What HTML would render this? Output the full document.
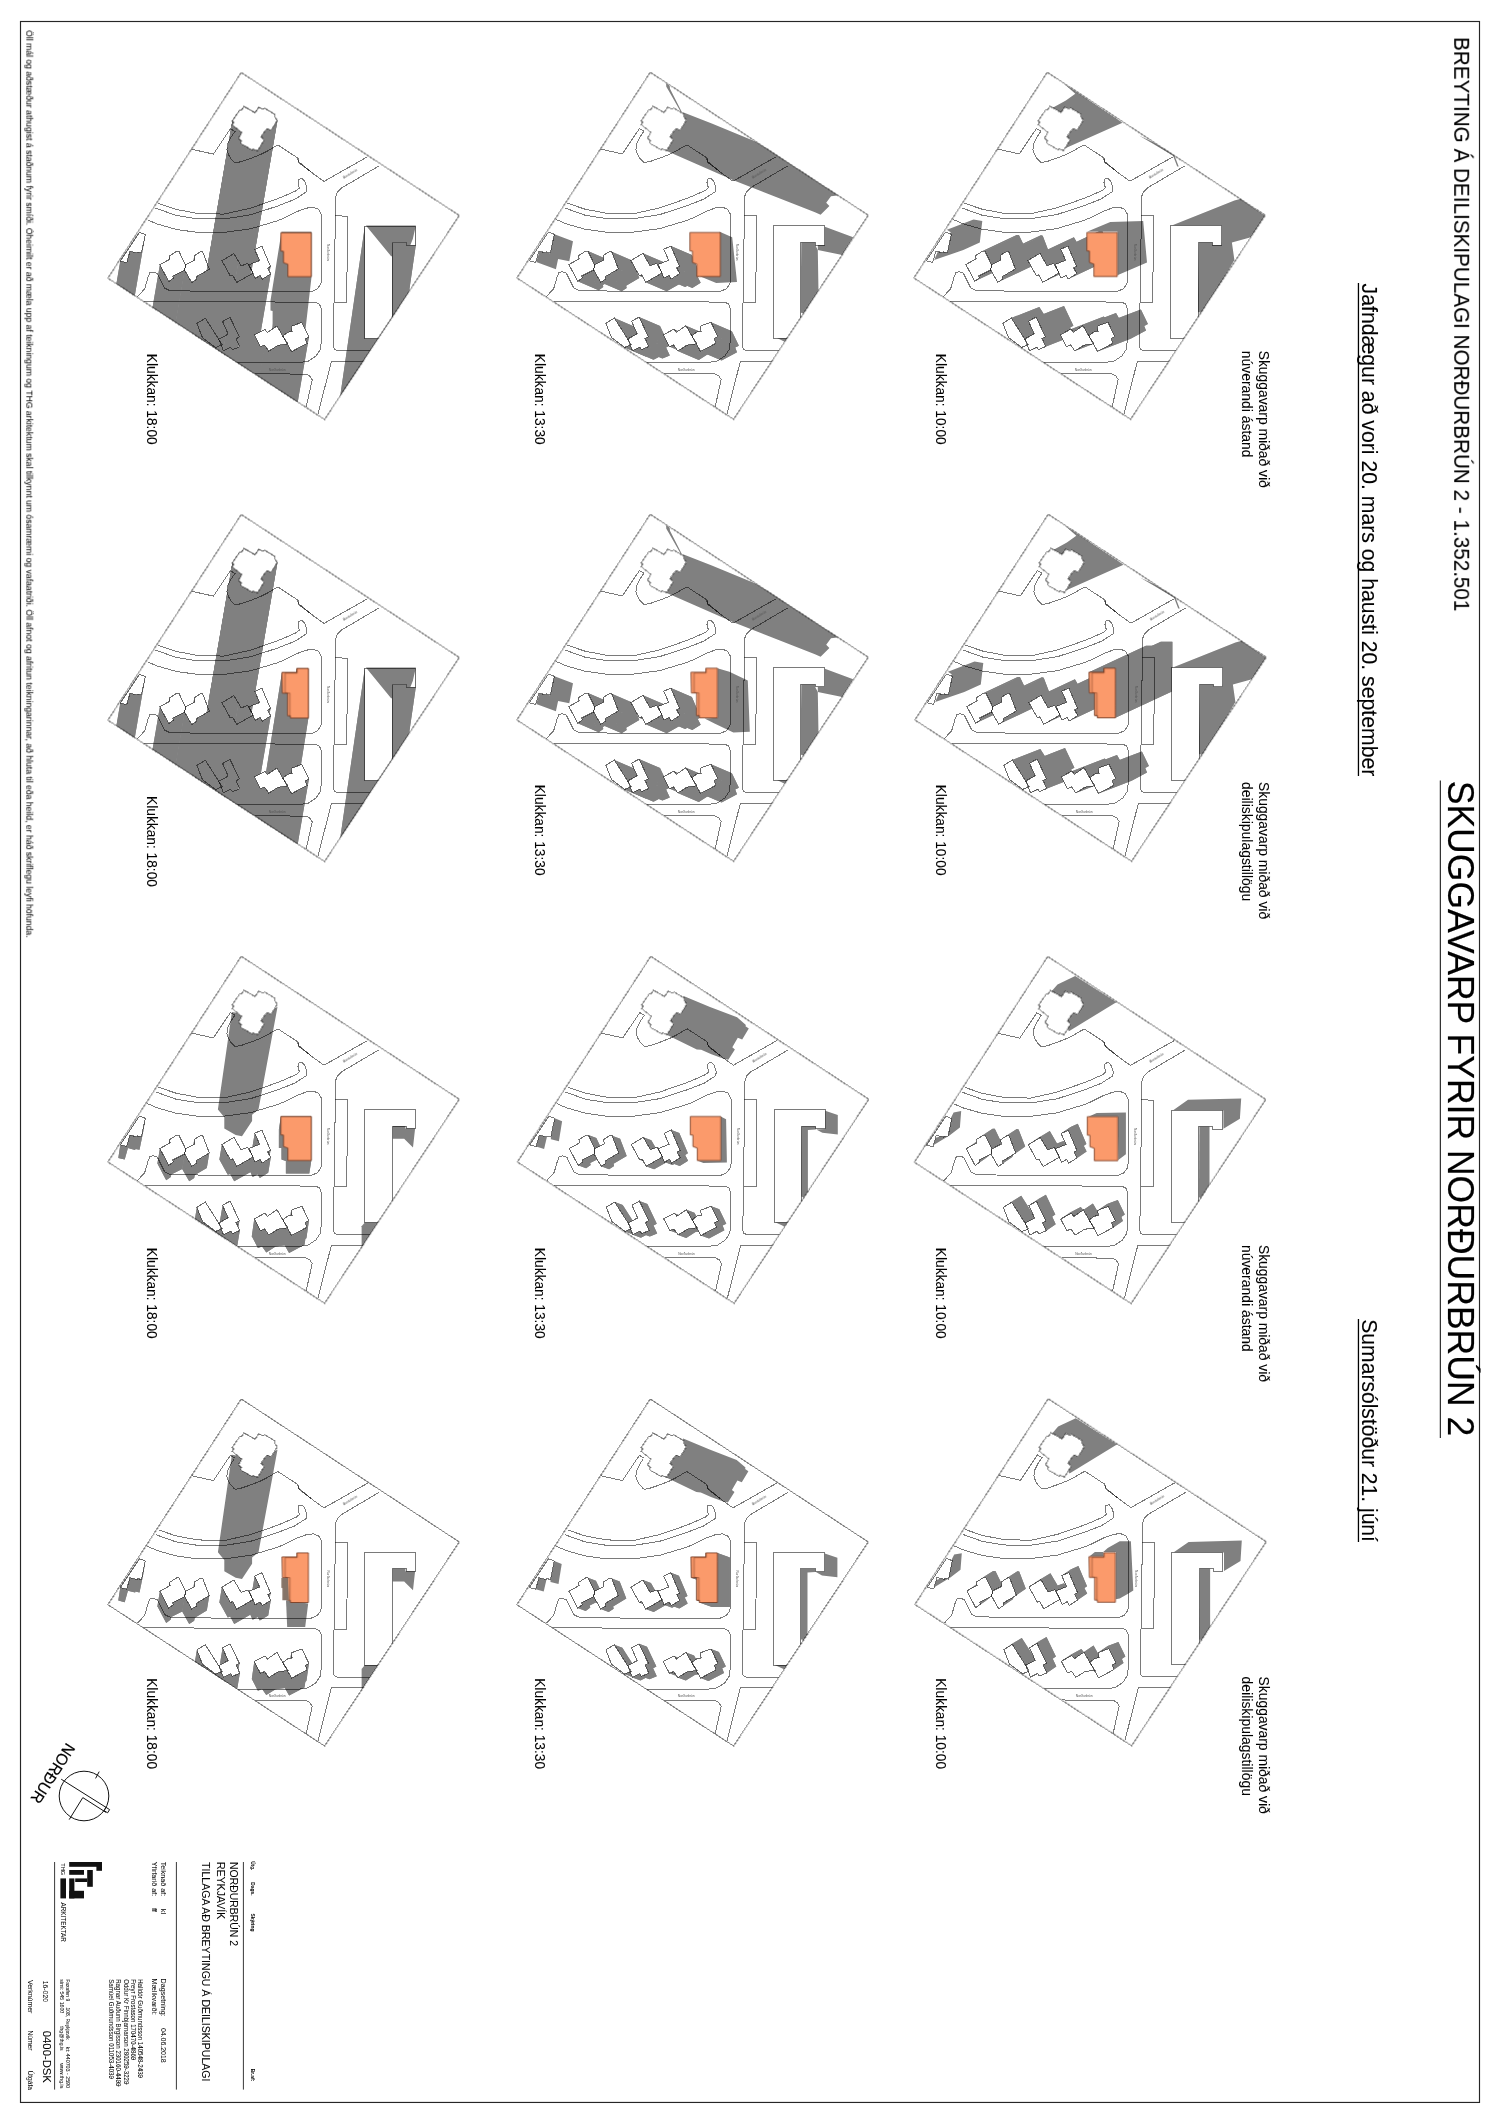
<!DOCTYPE html><html><head><meta charset="utf-8"><title>Skuggavarp</title><style>html,body{margin:0;padding:0;background:#fff}svg{display:block}</style></head><body><svg width="1500" height="2124" viewBox="0 0 1500 2124" font-family="'Liberation Sans', sans-serif" fill="#000">
<defs>
<clipPath id="site"><polygon points="0.0,0.0 218.0,143.0 83.3,347.0 -133.4,205.7"/></clipPath>
<g id="lines" shape-rendering="crispEdges"><polyline points="-49.9,76.7 -27.9,81.6 -10.9,56.3 -5.9,59.3" fill="none" stroke="rgba(0,0,0,0.52)" stroke-width="1"/><polyline points="-6.9,59.6 -10.6,65.3 -13.6,71.3 -14.4,77.3 -12.9,81.9 -10.6,85.9 -7.3,89.3 -6.1,90.3 -0.6,89.3 9.4,85.9 19.4,81.9 26.1,78.6 32.7,74.6 36.7,72.6 56.1,85.3 57.4,89.3 69.4,99.3" fill="none" stroke="rgba(0,0,0,0.52)" stroke-width="1"/><polyline points="56.7,86.0 57.7,90.3 73.4,102.3 82.7,108.9 126.1,84.3" fill="none" stroke="rgba(0,0,0,0.52)" stroke-width="1"/><polyline points="-82.9,130.9 -65.3,136.9 -43.9,140.9 -17.3,141.6 9.4,135.6 36.1,126.3 42.7,123.6 54.7,118.3 58.1,115.6 56.7,110.3 57.4,106.9 60.7,106.0 63.4,108.9 65.7,115.6 64.7,119.6 53.4,126.9 36.1,133.6 9.4,142.3 -17.3,146.5 -43.9,146.3 -65.3,142.9 -85.7,135.6" fill="none" stroke="rgba(0,0,0,0.52)" stroke-width="1"/><polyline points="-93.9,147.3 -83.9,151.6 -65.3,156.9 -43.9,159.9 -17.3,159.9 9.4,156.3 36.1,148.3 42.7,145.6 56.1,138.9 65.4,135.6 72.1,134.9 77.4,136.9 80.3,142.3 80.7,148.9 80.6,172.6 80.6,206.2 79.4,211.8 75.8,216.6 70.2,219.0 17.4,219.0 -30.6,219.0 -71.9,218.0 -76.6,215.6 -81.3,206.3 -83.9,200.9 -87.9,199.6 -91.3,200.0 -93.3,204.9 -96.6,216.3 -103.9,224.3" fill="none" stroke="rgba(0,0,0,0.52)" stroke-width="1"/><polyline points="-99.3,228.7 49.4,229.6 49.4,229.6 74.7,229.9 78.1,231.6 79.8,235.6 79.8,270.3 79.0,276.9 74.7,283.6 66.7,288.9 56.1,290.3 29.4,290.3 -4.7,290.1" fill="none" stroke="rgba(0,0,0,0.52)" stroke-width="1"/><polyline points="13.9,301.3 64.8,301.6 68.5,303.6 70.9,307.3 64.8,334.9" fill="none" stroke="rgba(0,0,0,0.52)" stroke-width="1"/><polyline points="137.4,93.6 100.1,115.6 96.1,119.6 94.1,124.9 94.1,142.3 93.1,203.6 92.1,274.3 93.1,276.9 95.4,278.0 130.1,278.0" fill="none" stroke="rgba(0,0,0,0.52)" stroke-width="1"/><polyline points="122.7,288.9 90.1,288.9 76.7,341.6" fill="none" stroke="rgba(0,0,0,0.52)" stroke-width="1"/><polyline points="93.7,143.3 106.3,143.7 105.4,230.1 93.3,230.1" fill="none" stroke="rgba(0,0,0,0.52)" stroke-width="1"/><polygon points="-81.4,192.2 -71.2,186.6 -71.8,183.4 -64.6,178.8 -62.4,178.8 -55.8,192.4 -56.6,197.6 -68.6,203.6 -68.0,205.6 -72.6,209.0" fill="none" stroke="rgba(0,0,0,0.52)" stroke-width="1" /><polygon points="-55.8,192.4 -46.4,187.6 -47.0,183.2 -40.4,179.0 -38.6,179.4 -32.0,196.6 -45.2,204.4 -44.6,206.8 -49.6,210.0 -56.6,197.6" fill="none" stroke="rgba(0,0,0,0.52)" stroke-width="1" /><polygon points="-19.4,188.2 -7.4,181.0 -0.2,193.4 6.4,191.0 11.8,200.6 -4.6,210.0 -8.6,202.6 -11.0,203.4" fill="none" stroke="rgba(0,0,0,0.52)" stroke-width="1" /><polygon points="13.4,177.0 20.6,173.8 29.2,194.0 26.4,195.6 29.4,201.4 21.0,206.6 18.8,203.0 13.8,205.8 7.8,192.2 18.4,188.0" fill="none" stroke="rgba(0,0,0,0.52)" stroke-width="1" /><polygon points="-44.4,250.9 -36.0,245.7 -22.9,266.3 -19.2,272.3 -25.7,275.1 -38.8,265.3" fill="none" stroke="rgba(0,0,0,0.52)" stroke-width="1" /><polygon points="-18.7,249.0 -11.3,244.8 -1.9,264.4 -5.2,266.3 -1.5,274.2 -8.9,277.3 -10.6,274.7 -17.8,278.4 -22.5,266.7 -13.1,261.6" fill="none" stroke="rgba(0,0,0,0.52)" stroke-width="1" /><polygon points="13.0,262.5 23.6,256.9 26.1,260.0 35.7,253.4 41.5,263.6 46.6,271.4 36.8,272.8 27.5,278.6 23.3,272.6 19.1,274.2" fill="none" stroke="rgba(0,0,0,0.52)" stroke-width="1" /><polygon points="41.5,263.6 46.6,259.7 50.8,259.0 49.9,253.9 60.6,249.9 67.6,264.4 63.9,266.3 65.7,270.9 50.3,279.1" fill="none" stroke="rgba(0,0,0,0.52)" stroke-width="1" /><polygon points="123.6,153.5 174.5,153.5 174.5,172.7 165.1,172.7 165.1,169.9 150.7,169.9 150.7,266.0 123.6,266.0" fill="none" stroke="rgba(0,0,0,0.52)" stroke-width="1" /><polygon points="-101.8,159.8 -96.0,162.0 -99.8,180.4 -103.8,179.6 -104.2,180.6 -111.4,178.8 -114.6,190.2 -121.0,188.6" fill="none" stroke="rgba(0,0,0,0.52)" stroke-width="1" /><g font-size="3.3" fill="#555" style="opacity:0.999"><text transform="translate(86.2,171.4) rotate(90)">Norðurbrún</text><text transform="translate(27.5,298.2)">Norðurbrún</text><text transform="translate(102.6,106.4) rotate(-31)">Austurbrún</text></g></g>
<g id="bld"><polygon points="-81.4,192.2 -71.2,186.6 -71.8,183.4 -64.6,178.8 -62.4,178.8 -55.8,192.4 -56.6,197.6 -68.6,203.6 -68.0,205.6 -72.6,209.0" fill="#fff" stroke="none" stroke-width="1" /><polygon points="-55.8,192.4 -46.4,187.6 -47.0,183.2 -40.4,179.0 -38.6,179.4 -32.0,196.6 -45.2,204.4 -44.6,206.8 -49.6,210.0 -56.6,197.6" fill="#fff" stroke="none" stroke-width="1" /><polygon points="-19.4,188.2 -7.4,181.0 -0.2,193.4 6.4,191.0 11.8,200.6 -4.6,210.0 -8.6,202.6 -11.0,203.4" fill="#fff" stroke="none" stroke-width="1" /><polygon points="13.4,177.0 20.6,173.8 29.2,194.0 26.4,195.6 29.4,201.4 21.0,206.6 18.8,203.0 13.8,205.8 7.8,192.2 18.4,188.0" fill="#fff" stroke="none" stroke-width="1" /><polygon points="-44.4,250.9 -36.0,245.7 -22.9,266.3 -19.2,272.3 -25.7,275.1 -38.8,265.3" fill="#fff" stroke="none" stroke-width="1" /><polygon points="-18.7,249.0 -11.3,244.8 -1.9,264.4 -5.2,266.3 -1.5,274.2 -8.9,277.3 -10.6,274.7 -17.8,278.4 -22.5,266.7 -13.1,261.6" fill="#fff" stroke="none" stroke-width="1" /><polygon points="13.0,262.5 23.6,256.9 26.1,260.0 35.7,253.4 41.5,263.6 46.6,271.4 36.8,272.8 27.5,278.6 23.3,272.6 19.1,274.2" fill="#fff" stroke="none" stroke-width="1" /><polygon points="41.5,263.6 46.6,259.7 50.8,259.0 49.9,253.9 60.6,249.9 67.6,264.4 63.9,266.3 65.7,270.9 50.3,279.1" fill="#fff" stroke="none" stroke-width="1" /><polygon points="2.7,33.9 13.9,40.3 17.7,34.6 20.7,36.5 23.4,35.8 33.7,41.9 33.5,44.7 36.1,47.9 29.7,57.8 25.6,56.1 19.7,64.1 22.7,67.5 16.3,78.4 12.1,76.5 11.3,77.8 0.1,71.3 -0.7,69.9 0.2,68.1 -2.9,65.9 0.6,60.1 -9.3,52.1 -7.6,49.9 -8.9,48.5 -1.6,37.6 0.1,37.9" fill="#fff" stroke="none" stroke-width="1" /><polygon points="123.6,153.5 174.5,153.5 174.5,172.7 165.1,172.7 165.1,169.9 150.7,169.9 150.7,266.0 123.6,266.0" fill="#fff" stroke="none" stroke-width="1" /><polygon points="-101.8,159.8 -96.0,162.0 -99.8,180.4 -103.8,179.6 -104.2,180.6 -111.4,178.8 -114.6,190.2 -121.0,188.6" fill="#fff" stroke="none" stroke-width="1" /></g>
<g id="tower" shape-rendering="crispEdges"><polygon points="2.7,33.9 13.9,40.3 17.7,34.6 20.7,36.5 23.4,35.8 33.7,41.9 33.5,44.7 36.1,47.9 29.7,57.8 25.6,56.1 19.7,64.1 22.7,67.5 16.3,78.4 12.1,76.5 11.3,77.8 0.1,71.3 -0.7,69.9 0.2,68.1 -2.9,65.9 0.6,60.1 -9.3,52.1 -7.6,49.9 -8.9,48.5 -1.6,37.6 0.1,37.9" fill="#fff" stroke="rgba(0,0,0,0.52)" stroke-width="1" /></g>
</defs>
<rect x="20.5" y="21.5" width="1459.0" height="2080.95" fill="none" stroke="#262626" stroke-width="1.15"/>
<g transform="translate(241.3,72.5)">
<g clip-path="url(#site)">
<polygon points="2.7,33.9 13.9,40.3 17.7,34.6 20.7,36.5 23.4,35.8 33.7,41.9 33.5,44.7 36.1,47.9 29.7,57.8 25.6,56.1 19.7,64.1 22.7,67.5 16.3,78.4 12.1,76.5 11.3,77.8 0.1,71.3 -0.7,69.9 0.2,68.1 -2.9,65.9 0.6,60.1 -9.3,52.1 -7.6,49.9 -8.9,48.5 -1.6,37.6 0.1,37.9" fill="#808080"/><polygon points="-69.5,453.9 -58.3,460.3 -54.5,454.6 -51.5,456.5 -48.8,455.8 -38.5,461.9 -38.7,464.7 -36.2,467.9 -42.5,477.8 -46.6,476.1 -52.5,484.1 -49.5,487.5 -56.0,498.4 -60.2,496.5 -61.0,497.8 -72.2,491.3 -73.0,489.9 -72.0,488.1 -75.2,485.9 -71.6,480.1 -81.5,472.1 -79.8,469.9 -81.2,468.5 -73.8,457.6 -72.2,457.9" fill="#808080"/><polygon points="2.7,33.9 13.9,40.3 -58.3,460.3 -69.5,453.9" fill="#808080"/><polygon points="13.9,40.3 17.7,34.6 -54.5,454.6 -58.3,460.3" fill="#808080"/><polygon points="17.7,34.6 20.7,36.5 -51.5,456.5 -54.5,454.6" fill="#808080"/><polygon points="20.7,36.5 23.4,35.8 -48.8,455.8 -51.5,456.5" fill="#808080"/><polygon points="23.4,35.8 33.7,41.9 -38.5,461.9 -48.8,455.8" fill="#808080"/><polygon points="33.7,41.9 33.5,44.7 -38.7,464.7 -38.5,461.9" fill="#808080"/><polygon points="33.5,44.7 36.1,47.9 -36.2,467.9 -38.7,464.7" fill="#808080"/><polygon points="36.1,47.9 29.7,57.8 -42.5,477.8 -36.2,467.9" fill="#808080"/><polygon points="29.7,57.8 25.6,56.1 -46.6,476.1 -42.5,477.8" fill="#808080"/><polygon points="25.6,56.1 19.7,64.1 -52.5,484.1 -46.6,476.1" fill="#808080"/><polygon points="19.7,64.1 22.7,67.5 -49.5,487.5 -52.5,484.1" fill="#808080"/><polygon points="22.7,67.5 16.3,78.4 -56.0,498.4 -49.5,487.5" fill="#808080"/><polygon points="16.3,78.4 12.1,76.5 -60.2,496.5 -56.0,498.4" fill="#808080"/><polygon points="12.1,76.5 11.3,77.8 -61.0,497.8 -60.2,496.5" fill="#808080"/><polygon points="11.3,77.8 0.1,71.3 -72.2,491.3 -61.0,497.8" fill="#808080"/><polygon points="0.1,71.3 -0.7,69.9 -73.0,489.9 -72.2,491.3" fill="#808080"/><polygon points="-0.7,69.9 0.2,68.1 -72.0,488.1 -73.0,489.9" fill="#808080"/><polygon points="0.2,68.1 -2.9,65.9 -75.2,485.9 -72.0,488.1" fill="#808080"/><polygon points="-2.9,65.9 0.6,60.1 -71.6,480.1 -75.2,485.9" fill="#808080"/><polygon points="0.6,60.1 -9.3,52.1 -81.5,472.1 -71.6,480.1" fill="#808080"/><polygon points="-9.3,52.1 -7.6,49.9 -79.8,469.9 -81.5,472.1" fill="#808080"/><polygon points="-7.6,49.9 -8.9,48.5 -81.2,468.5 -79.8,469.9" fill="#808080"/><polygon points="-8.9,48.5 -1.6,37.6 -73.8,457.6 -81.2,468.5" fill="#808080"/><polygon points="-1.6,37.6 0.1,37.9 -72.2,457.9 -73.8,457.6" fill="#808080"/><polygon points="0.1,37.9 2.7,33.9 -69.5,453.9 -72.2,457.9" fill="#808080"/><polygon points="123.6,153.5 174.5,153.5 174.5,172.7 165.1,172.7 165.1,169.9 150.7,169.9 150.7,266.0 123.6,266.0" fill="#808080"/><polygon points="62.7,573.5 113.6,573.5 113.6,592.7 104.2,592.7 104.2,589.9 89.8,589.9 89.8,686.0 62.7,686.0" fill="#808080"/><polygon points="123.6,153.5 174.5,153.5 113.6,573.5 62.7,573.5" fill="#808080"/><polygon points="174.5,153.5 174.5,172.7 113.6,592.7 113.6,573.5" fill="#808080"/><polygon points="174.5,172.7 165.1,172.7 104.2,592.7 113.6,592.7" fill="#808080"/><polygon points="165.1,172.7 165.1,169.9 104.2,589.9 104.2,592.7" fill="#808080"/><polygon points="165.1,169.9 150.7,169.9 89.8,589.9 104.2,589.9" fill="#808080"/><polygon points="150.7,169.9 150.7,266.0 89.8,686.0 89.8,589.9" fill="#808080"/><polygon points="150.7,266.0 123.6,266.0 62.7,686.0 89.8,686.0" fill="#808080"/><polygon points="123.6,266.0 123.6,153.5 62.7,573.5 62.7,686.0" fill="#808080"/><polygon points="-81.4,192.2 -71.2,186.6 -71.8,183.4 -64.6,178.8 -62.4,178.8 -55.8,192.4 -56.6,197.6 -68.6,203.6 -68.0,205.6 -72.6,209.0" fill="#808080"/><polygon points="-153.6,612.2 -143.4,606.6 -144.0,603.4 -136.8,598.8 -134.6,598.8 -128.0,612.4 -128.8,617.6 -140.8,623.6 -140.3,625.6 -144.8,629.0" fill="#808080"/><polygon points="-81.4,192.2 -71.2,186.6 -143.4,606.6 -153.6,612.2" fill="#808080"/><polygon points="-71.2,186.6 -71.8,183.4 -144.0,603.4 -143.4,606.6" fill="#808080"/><polygon points="-71.8,183.4 -64.6,178.8 -136.8,598.8 -144.0,603.4" fill="#808080"/><polygon points="-64.6,178.8 -62.4,178.8 -134.6,598.8 -136.8,598.8" fill="#808080"/><polygon points="-62.4,178.8 -55.8,192.4 -128.0,612.4 -134.6,598.8" fill="#808080"/><polygon points="-55.8,192.4 -56.6,197.6 -128.8,617.6 -128.0,612.4" fill="#808080"/><polygon points="-56.6,197.6 -68.6,203.6 -140.8,623.6 -128.8,617.6" fill="#808080"/><polygon points="-68.6,203.6 -68.0,205.6 -140.3,625.6 -140.8,623.6" fill="#808080"/><polygon points="-68.0,205.6 -72.6,209.0 -144.8,629.0 -140.3,625.6" fill="#808080"/><polygon points="-72.6,209.0 -81.4,192.2 -153.6,612.2 -144.8,629.0" fill="#808080"/><polygon points="-55.8,192.4 -46.4,187.6 -47.0,183.2 -40.4,179.0 -38.6,179.4 -32.0,196.6 -45.2,204.4 -44.6,206.8 -49.6,210.0 -56.6,197.6" fill="#808080"/><polygon points="-128.0,612.4 -118.6,607.6 -119.2,603.2 -112.6,599.0 -110.8,599.4 -104.3,616.6 -117.4,624.4 -116.8,626.8 -121.9,630.0 -128.8,617.6" fill="#808080"/><polygon points="-55.8,192.4 -46.4,187.6 -118.6,607.6 -128.0,612.4" fill="#808080"/><polygon points="-46.4,187.6 -47.0,183.2 -119.2,603.2 -118.6,607.6" fill="#808080"/><polygon points="-47.0,183.2 -40.4,179.0 -112.6,599.0 -119.2,603.2" fill="#808080"/><polygon points="-40.4,179.0 -38.6,179.4 -110.8,599.4 -112.6,599.0" fill="#808080"/><polygon points="-38.6,179.4 -32.0,196.6 -104.3,616.6 -110.8,599.4" fill="#808080"/><polygon points="-32.0,196.6 -45.2,204.4 -117.4,624.4 -104.3,616.6" fill="#808080"/><polygon points="-45.2,204.4 -44.6,206.8 -116.8,626.8 -117.4,624.4" fill="#808080"/><polygon points="-44.6,206.8 -49.6,210.0 -121.9,630.0 -116.8,626.8" fill="#808080"/><polygon points="-49.6,210.0 -56.6,197.6 -128.8,617.6 -121.9,630.0" fill="#808080"/><polygon points="-56.6,197.6 -55.8,192.4 -128.0,612.4 -128.8,617.6" fill="#808080"/><polygon points="-19.4,188.2 -7.4,181.0 -0.2,193.4 6.4,191.0 11.8,200.6 -4.6,210.0 -8.6,202.6 -11.0,203.4" fill="#808080"/><polygon points="-91.6,608.2 -79.6,601.0 -72.4,613.4 -65.9,611.0 -60.4,620.6 -76.8,630.0 -80.8,622.6 -83.2,623.4" fill="#808080"/><polygon points="-19.4,188.2 -7.4,181.0 -79.6,601.0 -91.6,608.2" fill="#808080"/><polygon points="-7.4,181.0 -0.2,193.4 -72.4,613.4 -79.6,601.0" fill="#808080"/><polygon points="-0.2,193.4 6.4,191.0 -65.9,611.0 -72.4,613.4" fill="#808080"/><polygon points="6.4,191.0 11.8,200.6 -60.4,620.6 -65.9,611.0" fill="#808080"/><polygon points="11.8,200.6 -4.6,210.0 -76.8,630.0 -60.4,620.6" fill="#808080"/><polygon points="-4.6,210.0 -8.6,202.6 -80.8,622.6 -76.8,630.0" fill="#808080"/><polygon points="-8.6,202.6 -11.0,203.4 -83.2,623.4 -80.8,622.6" fill="#808080"/><polygon points="-11.0,203.4 -19.4,188.2 -91.6,608.2 -83.2,623.4" fill="#808080"/><polygon points="13.4,177.0 20.6,173.8 29.2,194.0 26.4,195.6 29.4,201.4 21.0,206.6 18.8,203.0 13.8,205.8 7.8,192.2 18.4,188.0" fill="#808080"/><polygon points="-58.8,597.0 -51.6,593.8 -43.0,614.0 -45.9,615.6 -42.8,621.4 -51.2,626.6 -53.4,623.0 -58.4,625.8 -64.4,612.2 -53.9,608.0" fill="#808080"/><polygon points="13.4,177.0 20.6,173.8 -51.6,593.8 -58.8,597.0" fill="#808080"/><polygon points="20.6,173.8 29.2,194.0 -43.0,614.0 -51.6,593.8" fill="#808080"/><polygon points="29.2,194.0 26.4,195.6 -45.9,615.6 -43.0,614.0" fill="#808080"/><polygon points="26.4,195.6 29.4,201.4 -42.8,621.4 -45.9,615.6" fill="#808080"/><polygon points="29.4,201.4 21.0,206.6 -51.2,626.6 -42.8,621.4" fill="#808080"/><polygon points="21.0,206.6 18.8,203.0 -53.4,623.0 -51.2,626.6" fill="#808080"/><polygon points="18.8,203.0 13.8,205.8 -58.4,625.8 -53.4,623.0" fill="#808080"/><polygon points="13.8,205.8 7.8,192.2 -64.4,612.2 -58.4,625.8" fill="#808080"/><polygon points="7.8,192.2 18.4,188.0 -53.9,608.0 -64.4,612.2" fill="#808080"/><polygon points="18.4,188.0 13.4,177.0 -58.8,597.0 -53.9,608.0" fill="#808080"/><polygon points="-44.4,250.9 -36.0,245.7 -22.9,266.3 -19.2,272.3 -25.7,275.1 -38.8,265.3" fill="#808080"/><polygon points="-116.6,670.9 -108.2,665.7 -95.2,686.3 -91.4,692.3 -98.0,695.1 -111.0,685.3" fill="#808080"/><polygon points="-44.4,250.9 -36.0,245.7 -108.2,665.7 -116.6,670.9" fill="#808080"/><polygon points="-36.0,245.7 -22.9,266.3 -95.2,686.3 -108.2,665.7" fill="#808080"/><polygon points="-22.9,266.3 -19.2,272.3 -91.4,692.3 -95.2,686.3" fill="#808080"/><polygon points="-19.2,272.3 -25.7,275.1 -98.0,695.1 -91.4,692.3" fill="#808080"/><polygon points="-25.7,275.1 -38.8,265.3 -111.0,685.3 -98.0,695.1" fill="#808080"/><polygon points="-38.8,265.3 -44.4,250.9 -116.6,670.9 -111.0,685.3" fill="#808080"/><polygon points="-18.7,249.0 -11.3,244.8 -1.9,264.4 -5.2,266.3 -1.5,274.2 -8.9,277.3 -10.6,274.7 -17.8,278.4 -22.5,266.7 -13.1,261.6" fill="#808080"/><polygon points="-91.0,669.0 -83.5,664.8 -74.2,684.4 -77.4,686.3 -73.7,694.2 -81.2,697.3 -82.8,694.7 -90.0,698.4 -94.7,686.7 -85.4,681.6" fill="#808080"/><polygon points="-18.7,249.0 -11.3,244.8 -83.5,664.8 -91.0,669.0" fill="#808080"/><polygon points="-11.3,244.8 -1.9,264.4 -74.2,684.4 -83.5,664.8" fill="#808080"/><polygon points="-1.9,264.4 -5.2,266.3 -77.4,686.3 -74.2,684.4" fill="#808080"/><polygon points="-5.2,266.3 -1.5,274.2 -73.7,694.2 -77.4,686.3" fill="#808080"/><polygon points="-1.5,274.2 -8.9,277.3 -81.2,697.3 -73.7,694.2" fill="#808080"/><polygon points="-8.9,277.3 -10.6,274.7 -82.8,694.7 -81.2,697.3" fill="#808080"/><polygon points="-10.6,274.7 -17.8,278.4 -90.0,698.4 -82.8,694.7" fill="#808080"/><polygon points="-17.8,278.4 -22.5,266.7 -94.7,686.7 -90.0,698.4" fill="#808080"/><polygon points="-22.5,266.7 -13.1,261.6 -85.4,681.6 -94.7,686.7" fill="#808080"/><polygon points="-13.1,261.6 -18.7,249.0 -91.0,669.0 -85.4,681.6" fill="#808080"/><polygon points="13.0,262.5 23.6,256.9 26.1,260.0 35.7,253.4 41.5,263.6 46.6,271.4 36.8,272.8 27.5,278.6 23.3,272.6 19.1,274.2" fill="#808080"/><polygon points="-59.2,682.5 -48.7,676.9 -46.2,680.0 -36.6,673.4 -30.8,683.6 -25.6,691.4 -35.4,692.8 -44.8,698.6 -49.0,692.6 -53.2,694.2" fill="#808080"/><polygon points="13.0,262.5 23.6,256.9 -48.7,676.9 -59.2,682.5" fill="#808080"/><polygon points="23.6,256.9 26.1,260.0 -46.2,680.0 -48.7,676.9" fill="#808080"/><polygon points="26.1,260.0 35.7,253.4 -36.6,673.4 -46.2,680.0" fill="#808080"/><polygon points="35.7,253.4 41.5,263.6 -30.8,683.6 -36.6,673.4" fill="#808080"/><polygon points="41.5,263.6 46.6,271.4 -25.6,691.4 -30.8,683.6" fill="#808080"/><polygon points="46.6,271.4 36.8,272.8 -35.4,692.8 -25.6,691.4" fill="#808080"/><polygon points="36.8,272.8 27.5,278.6 -44.8,698.6 -35.4,692.8" fill="#808080"/><polygon points="27.5,278.6 23.3,272.6 -49.0,692.6 -44.8,698.6" fill="#808080"/><polygon points="23.3,272.6 19.1,274.2 -53.2,694.2 -49.0,692.6" fill="#808080"/><polygon points="19.1,274.2 13.0,262.5 -59.2,682.5 -53.2,694.2" fill="#808080"/><polygon points="41.5,263.6 46.6,259.7 50.8,259.0 49.9,253.9 60.6,249.9 67.6,264.4 63.9,266.3 65.7,270.9 50.3,279.1" fill="#808080"/><polygon points="-30.8,683.6 -25.6,679.7 -21.4,679.0 -22.4,674.0 -11.6,669.9 -4.6,684.4 -8.4,686.3 -6.5,690.9 -21.9,699.0" fill="#808080"/><polygon points="41.5,263.6 46.6,259.7 -25.6,679.7 -30.8,683.6" fill="#808080"/><polygon points="46.6,259.7 50.8,259.0 -21.4,679.0 -25.6,679.7" fill="#808080"/><polygon points="50.8,259.0 49.9,253.9 -22.4,674.0 -21.4,679.0" fill="#808080"/><polygon points="49.9,253.9 60.6,249.9 -11.6,669.9 -22.4,674.0" fill="#808080"/><polygon points="60.6,249.9 67.6,264.4 -4.6,684.4 -11.6,669.9" fill="#808080"/><polygon points="67.6,264.4 63.9,266.3 -8.4,686.3 -4.6,684.4" fill="#808080"/><polygon points="63.9,266.3 65.7,270.9 -6.5,690.9 -8.4,686.3" fill="#808080"/><polygon points="65.7,270.9 50.3,279.1 -21.9,699.0 -6.5,690.9" fill="#808080"/><polygon points="50.3,279.1 41.5,263.6 -30.8,683.6 -21.9,699.0" fill="#808080"/><polygon points="-101.8,159.8 -96.0,162.0 -99.8,180.4 -103.8,179.6 -104.2,180.6 -111.4,178.8 -114.6,190.2 -121.0,188.6" fill="#808080"/><polygon points="-174.0,579.8 -168.3,582.0 -172.0,600.4 -176.0,599.6 -176.4,600.6 -183.6,598.8 -186.8,610.2 -193.2,608.6" fill="#808080"/><polygon points="-101.8,159.8 -96.0,162.0 -168.3,582.0 -174.0,579.8" fill="#808080"/><polygon points="-96.0,162.0 -99.8,180.4 -172.0,600.4 -168.3,582.0" fill="#808080"/><polygon points="-99.8,180.4 -103.8,179.6 -176.0,599.6 -172.0,600.4" fill="#808080"/><polygon points="-103.8,179.6 -104.2,180.6 -176.4,600.6 -176.0,599.6" fill="#808080"/><polygon points="-104.2,180.6 -111.4,178.8 -183.6,598.8 -176.4,600.6" fill="#808080"/><polygon points="-111.4,178.8 -114.6,190.2 -186.8,610.2 -183.6,598.8" fill="#808080"/><polygon points="-114.6,190.2 -121.0,188.6 -193.2,608.6 -186.8,610.2" fill="#808080"/><polygon points="-121.0,188.6 -101.8,159.8 -174.0,579.8 -193.2,608.6" fill="#808080"/><polygon points="40.2,159.3 70.3,159.3 70.3,203.8 54.6,339.8 24.1,339.8 31.3,250.8 31.3,238.5 29.2,238.1 29.2,227.9" fill="#808080"/>
<use href="#bld"/>
<polygon points="2.7,33.9 13.9,40.3 17.7,34.6 20.7,36.5 23.4,35.8 33.7,41.9 33.5,44.7 36.1,47.9 29.7,57.8 25.6,56.1 19.7,64.1 22.7,67.5 16.3,78.4 12.1,76.5 11.3,77.8 0.1,71.3 -0.7,69.9 0.2,68.1 -2.9,65.9 0.6,60.1 -9.3,52.1 -7.6,49.9 -8.9,48.5 -1.6,37.6 0.1,37.9" fill="#808080"/><polygon points="-69.5,453.9 -58.3,460.3 -54.5,454.6 -51.5,456.5 -48.8,455.8 -38.5,461.9 -38.7,464.7 -36.2,467.9 -42.5,477.8 -46.6,476.1 -52.5,484.1 -49.5,487.5 -56.0,498.4 -60.2,496.5 -61.0,497.8 -72.2,491.3 -73.0,489.9 -72.0,488.1 -75.2,485.9 -71.6,480.1 -81.5,472.1 -79.8,469.9 -81.2,468.5 -73.8,457.6 -72.2,457.9" fill="#808080"/><polygon points="2.7,33.9 13.9,40.3 -58.3,460.3 -69.5,453.9" fill="#808080"/><polygon points="13.9,40.3 17.7,34.6 -54.5,454.6 -58.3,460.3" fill="#808080"/><polygon points="17.7,34.6 20.7,36.5 -51.5,456.5 -54.5,454.6" fill="#808080"/><polygon points="20.7,36.5 23.4,35.8 -48.8,455.8 -51.5,456.5" fill="#808080"/><polygon points="23.4,35.8 33.7,41.9 -38.5,461.9 -48.8,455.8" fill="#808080"/><polygon points="33.7,41.9 33.5,44.7 -38.7,464.7 -38.5,461.9" fill="#808080"/><polygon points="33.5,44.7 36.1,47.9 -36.2,467.9 -38.7,464.7" fill="#808080"/><polygon points="36.1,47.9 29.7,57.8 -42.5,477.8 -36.2,467.9" fill="#808080"/><polygon points="29.7,57.8 25.6,56.1 -46.6,476.1 -42.5,477.8" fill="#808080"/><polygon points="25.6,56.1 19.7,64.1 -52.5,484.1 -46.6,476.1" fill="#808080"/><polygon points="19.7,64.1 22.7,67.5 -49.5,487.5 -52.5,484.1" fill="#808080"/><polygon points="22.7,67.5 16.3,78.4 -56.0,498.4 -49.5,487.5" fill="#808080"/><polygon points="16.3,78.4 12.1,76.5 -60.2,496.5 -56.0,498.4" fill="#808080"/><polygon points="12.1,76.5 11.3,77.8 -61.0,497.8 -60.2,496.5" fill="#808080"/><polygon points="11.3,77.8 0.1,71.3 -72.2,491.3 -61.0,497.8" fill="#808080"/><polygon points="0.1,71.3 -0.7,69.9 -73.0,489.9 -72.2,491.3" fill="#808080"/><polygon points="-0.7,69.9 0.2,68.1 -72.0,488.1 -73.0,489.9" fill="#808080"/><polygon points="0.2,68.1 -2.9,65.9 -75.2,485.9 -72.0,488.1" fill="#808080"/><polygon points="-2.9,65.9 0.6,60.1 -71.6,480.1 -75.2,485.9" fill="#808080"/><polygon points="0.6,60.1 -9.3,52.1 -81.5,472.1 -71.6,480.1" fill="#808080"/><polygon points="-9.3,52.1 -7.6,49.9 -79.8,469.9 -81.5,472.1" fill="#808080"/><polygon points="-7.6,49.9 -8.9,48.5 -81.2,468.5 -79.8,469.9" fill="#808080"/><polygon points="-8.9,48.5 -1.6,37.6 -73.8,457.6 -81.2,468.5" fill="#808080"/><polygon points="-1.6,37.6 0.1,37.9 -72.2,457.9 -73.8,457.6" fill="#808080"/><polygon points="0.1,37.9 2.7,33.9 -69.5,453.9 -72.2,457.9" fill="#808080"/><polygon points="124.6,152.9 174.6,152.9 171.5,166.4 169.0,172.7 165.2,172.7 165.2,169.7 150.7,169.7 150.7,183.7 149.8,183.7" fill="#808080"/>
<use href="#lines"/>
<use href="#tower"/>
<polygon points="39.6,160.2 70.0,160.2 70.0,204.2 46.6,204.2 46.6,191.8 42.2,190.2 42.2,178.8 39.6,178.6" fill="#fb9a6b" stroke="#70341a" stroke-width="0.8"/>
</g>
<polygon points="0.0,0.0 218.0,143.0 83.3,347.0 -133.4,205.7" fill="none" stroke="rgba(0,0,0,0.52)" stroke-width="1" shape-rendering="crispEdges"/>
</g>
<g transform="translate(650.3,72.3)">
<g clip-path="url(#site)">
<polygon points="32.7,40.0 61.5,51.2 103.9,68.8 197.5,109.6 187.1,123.2 180.7,124.0 175.9,130.4 179.1,133.6 170.3,142.4 164.7,140.0 83.1,108.0 15.9,78.4 21.5,45.6" fill="#808080"/><polygon points="174.6,154.4 202.9,165.0 192.0,182.8 167.5,177.7 167.5,172.6 174.6,172.6" fill="#808080"/><polygon points="151.0,170.1 164.9,170.1 164.9,172.6 167.5,177.7 168.2,219.5 154.8,241.0 150.2,240.5" fill="#808080"/><polygon points="125.7,265.1 138.3,265.1 135.8,270.2" fill="#808080"/><polygon points="15.7,10.7 19.4,13.7 19.7,16.4 31.4,39.4 30.5,39.6 18.4,18.4 16.0,14.4" fill="#808080"/><polygon points="-81.4,192.2 -71.2,186.6 -71.8,183.4 -64.6,178.8 -62.4,178.8 -55.8,192.4 -56.6,197.6 -68.6,203.6 -68.0,205.6 -72.6,209.0" fill="#808080"/><polygon points="-60.4,201.2 -50.2,195.6 -50.8,192.4 -43.6,187.8 -41.4,187.8 -34.8,201.4 -35.6,206.6 -47.6,212.6 -47.0,214.6 -51.6,218.0" fill="#808080"/><polygon points="-81.4,192.2 -71.2,186.6 -50.2,195.6 -60.4,201.2" fill="#808080"/><polygon points="-71.2,186.6 -71.8,183.4 -50.8,192.4 -50.2,195.6" fill="#808080"/><polygon points="-71.8,183.4 -64.6,178.8 -43.6,187.8 -50.8,192.4" fill="#808080"/><polygon points="-64.6,178.8 -62.4,178.8 -41.4,187.8 -43.6,187.8" fill="#808080"/><polygon points="-62.4,178.8 -55.8,192.4 -34.8,201.4 -41.4,187.8" fill="#808080"/><polygon points="-55.8,192.4 -56.6,197.6 -35.6,206.6 -34.8,201.4" fill="#808080"/><polygon points="-56.6,197.6 -68.6,203.6 -47.6,212.6 -35.6,206.6" fill="#808080"/><polygon points="-68.6,203.6 -68.0,205.6 -47.0,214.6 -47.6,212.6" fill="#808080"/><polygon points="-68.0,205.6 -72.6,209.0 -51.6,218.0 -47.0,214.6" fill="#808080"/><polygon points="-72.6,209.0 -81.4,192.2 -60.4,201.2 -51.6,218.0" fill="#808080"/><polygon points="-55.8,192.4 -46.4,187.6 -47.0,183.2 -40.4,179.0 -38.6,179.4 -32.0,196.6 -45.2,204.4 -44.6,206.8 -49.6,210.0 -56.6,197.6" fill="#808080"/><polygon points="-34.8,201.4 -25.4,196.6 -26.0,192.2 -19.4,188.0 -17.6,188.4 -11.0,205.6 -24.2,213.4 -23.6,215.8 -28.6,219.0 -35.6,206.6" fill="#808080"/><polygon points="-55.8,192.4 -46.4,187.6 -25.4,196.6 -34.8,201.4" fill="#808080"/><polygon points="-46.4,187.6 -47.0,183.2 -26.0,192.2 -25.4,196.6" fill="#808080"/><polygon points="-47.0,183.2 -40.4,179.0 -19.4,188.0 -26.0,192.2" fill="#808080"/><polygon points="-40.4,179.0 -38.6,179.4 -17.6,188.4 -19.4,188.0" fill="#808080"/><polygon points="-38.6,179.4 -32.0,196.6 -11.0,205.6 -17.6,188.4" fill="#808080"/><polygon points="-32.0,196.6 -45.2,204.4 -24.2,213.4 -11.0,205.6" fill="#808080"/><polygon points="-45.2,204.4 -44.6,206.8 -23.6,215.8 -24.2,213.4" fill="#808080"/><polygon points="-44.6,206.8 -49.6,210.0 -28.6,219.0 -23.6,215.8" fill="#808080"/><polygon points="-49.6,210.0 -56.6,197.6 -35.6,206.6 -28.6,219.0" fill="#808080"/><polygon points="-56.6,197.6 -55.8,192.4 -34.8,201.4 -35.6,206.6" fill="#808080"/><polygon points="-19.4,188.2 -7.4,181.0 -0.2,193.4 6.4,191.0 11.8,200.6 -4.6,210.0 -8.6,202.6 -11.0,203.4" fill="#808080"/><polygon points="1.6,197.2 13.6,190.0 20.8,202.4 27.4,200.0 32.8,209.6 16.4,219.0 12.4,211.6 10.0,212.4" fill="#808080"/><polygon points="-19.4,188.2 -7.4,181.0 13.6,190.0 1.6,197.2" fill="#808080"/><polygon points="-7.4,181.0 -0.2,193.4 20.8,202.4 13.6,190.0" fill="#808080"/><polygon points="-0.2,193.4 6.4,191.0 27.4,200.0 20.8,202.4" fill="#808080"/><polygon points="6.4,191.0 11.8,200.6 32.8,209.6 27.4,200.0" fill="#808080"/><polygon points="11.8,200.6 -4.6,210.0 16.4,219.0 32.8,209.6" fill="#808080"/><polygon points="-4.6,210.0 -8.6,202.6 12.4,211.6 16.4,219.0" fill="#808080"/><polygon points="-8.6,202.6 -11.0,203.4 10.0,212.4 12.4,211.6" fill="#808080"/><polygon points="-11.0,203.4 -19.4,188.2 1.6,197.2 10.0,212.4" fill="#808080"/><polygon points="13.4,177.0 20.6,173.8 29.2,194.0 26.4,195.6 29.4,201.4 21.0,206.6 18.8,203.0 13.8,205.8 7.8,192.2 18.4,188.0" fill="#808080"/><polygon points="34.4,186.0 41.6,182.8 50.2,203.0 47.4,204.6 50.4,210.4 42.0,215.6 39.8,212.0 34.8,214.8 28.8,201.2 39.4,197.0" fill="#808080"/><polygon points="13.4,177.0 20.6,173.8 41.6,182.8 34.4,186.0" fill="#808080"/><polygon points="20.6,173.8 29.2,194.0 50.2,203.0 41.6,182.8" fill="#808080"/><polygon points="29.2,194.0 26.4,195.6 47.4,204.6 50.2,203.0" fill="#808080"/><polygon points="26.4,195.6 29.4,201.4 50.4,210.4 47.4,204.6" fill="#808080"/><polygon points="29.4,201.4 21.0,206.6 42.0,215.6 50.4,210.4" fill="#808080"/><polygon points="21.0,206.6 18.8,203.0 39.8,212.0 42.0,215.6" fill="#808080"/><polygon points="18.8,203.0 13.8,205.8 34.8,214.8 39.8,212.0" fill="#808080"/><polygon points="13.8,205.8 7.8,192.2 28.8,201.2 34.8,214.8" fill="#808080"/><polygon points="7.8,192.2 18.4,188.0 39.4,197.0 28.8,201.2" fill="#808080"/><polygon points="18.4,188.0 13.4,177.0 34.4,186.0 39.4,197.0" fill="#808080"/><polygon points="-44.4,250.9 -36.0,245.7 -22.9,266.3 -19.2,272.3 -25.7,275.1 -38.8,265.3" fill="#808080"/><polygon points="-23.4,259.9 -15.0,254.7 -1.9,275.3 1.8,281.3 -4.7,284.1 -17.8,274.3" fill="#808080"/><polygon points="-44.4,250.9 -36.0,245.7 -15.0,254.7 -23.4,259.9" fill="#808080"/><polygon points="-36.0,245.7 -22.9,266.3 -1.9,275.3 -15.0,254.7" fill="#808080"/><polygon points="-22.9,266.3 -19.2,272.3 1.8,281.3 -1.9,275.3" fill="#808080"/><polygon points="-19.2,272.3 -25.7,275.1 -4.7,284.1 1.8,281.3" fill="#808080"/><polygon points="-25.7,275.1 -38.8,265.3 -17.8,274.3 -4.7,284.1" fill="#808080"/><polygon points="-38.8,265.3 -44.4,250.9 -23.4,259.9 -17.8,274.3" fill="#808080"/><polygon points="-18.7,249.0 -11.3,244.8 -1.9,264.4 -5.2,266.3 -1.5,274.2 -8.9,277.3 -10.6,274.7 -17.8,278.4 -22.5,266.7 -13.1,261.6" fill="#808080"/><polygon points="2.3,258.0 9.7,253.8 19.1,273.4 15.8,275.3 19.5,283.2 12.1,286.3 10.4,283.7 3.2,287.4 -1.5,275.7 7.9,270.6" fill="#808080"/><polygon points="-18.7,249.0 -11.3,244.8 9.7,253.8 2.3,258.0" fill="#808080"/><polygon points="-11.3,244.8 -1.9,264.4 19.1,273.4 9.7,253.8" fill="#808080"/><polygon points="-1.9,264.4 -5.2,266.3 15.8,275.3 19.1,273.4" fill="#808080"/><polygon points="-5.2,266.3 -1.5,274.2 19.5,283.2 15.8,275.3" fill="#808080"/><polygon points="-1.5,274.2 -8.9,277.3 12.1,286.3 19.5,283.2" fill="#808080"/><polygon points="-8.9,277.3 -10.6,274.7 10.4,283.7 12.1,286.3" fill="#808080"/><polygon points="-10.6,274.7 -17.8,278.4 3.2,287.4 10.4,283.7" fill="#808080"/><polygon points="-17.8,278.4 -22.5,266.7 -1.5,275.7 3.2,287.4" fill="#808080"/><polygon points="-22.5,266.7 -13.1,261.6 7.9,270.6 -1.5,275.7" fill="#808080"/><polygon points="-13.1,261.6 -18.7,249.0 2.3,258.0 7.9,270.6" fill="#808080"/><polygon points="13.0,262.5 23.6,256.9 26.1,260.0 35.7,253.4 41.5,263.6 46.6,271.4 36.8,272.8 27.5,278.6 23.3,272.6 19.1,274.2" fill="#808080"/><polygon points="34.0,271.5 44.5,265.9 47.1,269.0 56.7,262.4 62.5,272.6 67.6,280.4 57.8,281.8 48.5,287.6 44.3,281.6 40.1,283.2" fill="#808080"/><polygon points="13.0,262.5 23.6,256.9 44.5,265.9 34.0,271.5" fill="#808080"/><polygon points="23.6,256.9 26.1,260.0 47.1,269.0 44.5,265.9" fill="#808080"/><polygon points="26.1,260.0 35.7,253.4 56.7,262.4 47.1,269.0" fill="#808080"/><polygon points="35.7,253.4 41.5,263.6 62.5,272.6 56.7,262.4" fill="#808080"/><polygon points="41.5,263.6 46.6,271.4 67.6,280.4 62.5,272.6" fill="#808080"/><polygon points="46.6,271.4 36.8,272.8 57.8,281.8 67.6,280.4" fill="#808080"/><polygon points="36.8,272.8 27.5,278.6 48.5,287.6 57.8,281.8" fill="#808080"/><polygon points="27.5,278.6 23.3,272.6 44.3,281.6 48.5,287.6" fill="#808080"/><polygon points="23.3,272.6 19.1,274.2 40.1,283.2 44.3,281.6" fill="#808080"/><polygon points="19.1,274.2 13.0,262.5 34.0,271.5 40.1,283.2" fill="#808080"/><polygon points="41.5,263.6 46.6,259.7 50.8,259.0 49.9,253.9 60.6,249.9 67.6,264.4 63.9,266.3 65.7,270.9 50.3,279.1" fill="#808080"/><polygon points="62.5,272.6 67.6,268.7 71.8,268.0 70.9,262.9 81.6,258.9 88.6,273.4 84.9,275.3 86.7,279.9 71.3,288.1" fill="#808080"/><polygon points="41.5,263.6 46.6,259.7 67.6,268.7 62.5,272.6" fill="#808080"/><polygon points="46.6,259.7 50.8,259.0 71.8,268.0 67.6,268.7" fill="#808080"/><polygon points="50.8,259.0 49.9,253.9 70.9,262.9 71.8,268.0" fill="#808080"/><polygon points="49.9,253.9 60.6,249.9 81.6,258.9 70.9,262.9" fill="#808080"/><polygon points="60.6,249.9 67.6,264.4 88.6,273.4 81.6,258.9" fill="#808080"/><polygon points="67.6,264.4 63.9,266.3 84.9,275.3 88.6,273.4" fill="#808080"/><polygon points="63.9,266.3 65.7,270.9 86.7,279.9 84.9,275.3" fill="#808080"/><polygon points="65.7,270.9 50.3,279.1 71.3,288.1 86.7,279.9" fill="#808080"/><polygon points="50.3,279.1 41.5,263.6 62.5,272.6 71.3,288.1" fill="#808080"/><polygon points="-96.5,161.8 -77.3,169.0 -81.0,189.0 -92.2,186.6 -94.4,197.0 -114.1,189.8 -110.9,179.1 -100.2,181.0" fill="#808080"/><polygon points="69.4,159.4 81.9,165.0 86.7,209.8 65.9,210.6 48.3,203.4 69.4,203.4" fill="#808080"/>
<use href="#bld"/>

<use href="#lines"/>
<use href="#tower"/>
<polygon points="39.6,160.2 70.0,160.2 70.0,204.2 46.6,204.2 46.6,191.8 42.2,190.2 42.2,178.8 39.6,178.6" fill="#fb9a6b" stroke="#70341a" stroke-width="0.8"/>
</g>
<polygon points="0.0,0.0 218.0,143.0 83.3,347.0 -133.4,205.7" fill="none" stroke="rgba(0,0,0,0.52)" stroke-width="1" shape-rendering="crispEdges"/>
</g>
<g transform="translate(1047.3,72.3)">
<g clip-path="url(#site)">
<polygon points="2.2,37.1 18.6,28.2 28.0,21.4 16.1,11.0 75.2,50.5 18.6,75.8" fill="#808080"/><polygon points="125.1,152.9 187.1,128.3 193.5,126.5 217.5,143.5 203.6,165.0 184.6,170.1 187.1,187.8 155.5,241.0 150.4,239.8 151.7,170.1 174.5,170.1 174.5,152.9" fill="#808080"/><polygon points="91.6,63.2 106.1,70.0 126.8,82.2 131.4,94.1 129.9,94.1 125.8,83.4 106.1,71.8" fill="#808080"/><polygon points="-81.4,192.2 -71.2,186.6 -71.8,183.4 -64.6,178.8 -62.4,178.8 -55.8,192.4 -56.6,197.6 -68.6,203.6 -68.0,205.6 -72.6,209.0" fill="#808080"/><polygon points="-47.4,176.2 -37.2,170.6 -37.8,167.4 -30.6,162.8 -28.4,162.8 -21.8,176.4 -22.6,181.6 -34.6,187.6 -34.0,189.6 -38.6,193.0" fill="#808080"/><polygon points="-81.4,192.2 -71.2,186.6 -37.2,170.6 -47.4,176.2" fill="#808080"/><polygon points="-71.2,186.6 -71.8,183.4 -37.8,167.4 -37.2,170.6" fill="#808080"/><polygon points="-71.8,183.4 -64.6,178.8 -30.6,162.8 -37.8,167.4" fill="#808080"/><polygon points="-64.6,178.8 -62.4,178.8 -28.4,162.8 -30.6,162.8" fill="#808080"/><polygon points="-62.4,178.8 -55.8,192.4 -21.8,176.4 -28.4,162.8" fill="#808080"/><polygon points="-55.8,192.4 -56.6,197.6 -22.6,181.6 -21.8,176.4" fill="#808080"/><polygon points="-56.6,197.6 -68.6,203.6 -34.6,187.6 -22.6,181.6" fill="#808080"/><polygon points="-68.6,203.6 -68.0,205.6 -34.0,189.6 -34.6,187.6" fill="#808080"/><polygon points="-68.0,205.6 -72.6,209.0 -38.6,193.0 -34.0,189.6" fill="#808080"/><polygon points="-72.6,209.0 -81.4,192.2 -47.4,176.2 -38.6,193.0" fill="#808080"/><polygon points="-55.8,192.4 -46.4,187.6 -47.0,183.2 -40.4,179.0 -38.6,179.4 -32.0,196.6 -45.2,204.4 -44.6,206.8 -49.6,210.0 -56.6,197.6" fill="#808080"/><polygon points="-21.8,176.4 -12.4,171.6 -13.0,167.2 -6.4,163.0 -4.6,163.4 2.0,180.6 -11.2,188.4 -10.6,190.8 -15.6,194.0 -22.6,181.6" fill="#808080"/><polygon points="-55.8,192.4 -46.4,187.6 -12.4,171.6 -21.8,176.4" fill="#808080"/><polygon points="-46.4,187.6 -47.0,183.2 -13.0,167.2 -12.4,171.6" fill="#808080"/><polygon points="-47.0,183.2 -40.4,179.0 -6.4,163.0 -13.0,167.2" fill="#808080"/><polygon points="-40.4,179.0 -38.6,179.4 -4.6,163.4 -6.4,163.0" fill="#808080"/><polygon points="-38.6,179.4 -32.0,196.6 2.0,180.6 -4.6,163.4" fill="#808080"/><polygon points="-32.0,196.6 -45.2,204.4 -11.2,188.4 2.0,180.6" fill="#808080"/><polygon points="-45.2,204.4 -44.6,206.8 -10.6,190.8 -11.2,188.4" fill="#808080"/><polygon points="-44.6,206.8 -49.6,210.0 -15.6,194.0 -10.6,190.8" fill="#808080"/><polygon points="-49.6,210.0 -56.6,197.6 -22.6,181.6 -15.6,194.0" fill="#808080"/><polygon points="-56.6,197.6 -55.8,192.4 -21.8,176.4 -22.6,181.6" fill="#808080"/><polygon points="-19.4,188.2 -7.4,181.0 -0.2,193.4 6.4,191.0 11.8,200.6 -4.6,210.0 -8.6,202.6 -11.0,203.4" fill="#808080"/><polygon points="14.6,172.2 26.6,165.0 33.8,177.4 40.4,175.0 45.8,184.6 29.4,194.0 25.4,186.6 23.0,187.4" fill="#808080"/><polygon points="-19.4,188.2 -7.4,181.0 26.6,165.0 14.6,172.2" fill="#808080"/><polygon points="-7.4,181.0 -0.2,193.4 33.8,177.4 26.6,165.0" fill="#808080"/><polygon points="-0.2,193.4 6.4,191.0 40.4,175.0 33.8,177.4" fill="#808080"/><polygon points="6.4,191.0 11.8,200.6 45.8,184.6 40.4,175.0" fill="#808080"/><polygon points="11.8,200.6 -4.6,210.0 29.4,194.0 45.8,184.6" fill="#808080"/><polygon points="-4.6,210.0 -8.6,202.6 25.4,186.6 29.4,194.0" fill="#808080"/><polygon points="-8.6,202.6 -11.0,203.4 23.0,187.4 25.4,186.6" fill="#808080"/><polygon points="-11.0,203.4 -19.4,188.2 14.6,172.2 23.0,187.4" fill="#808080"/><polygon points="13.4,177.0 20.6,173.8 29.2,194.0 26.4,195.6 29.4,201.4 21.0,206.6 18.8,203.0 13.8,205.8 7.8,192.2 18.4,188.0" fill="#808080"/><polygon points="47.4,161.0 54.6,157.8 63.2,178.0 60.4,179.6 63.4,185.4 55.0,190.6 52.8,187.0 47.8,189.8 41.8,176.2 52.4,172.0" fill="#808080"/><polygon points="13.4,177.0 20.6,173.8 54.6,157.8 47.4,161.0" fill="#808080"/><polygon points="20.6,173.8 29.2,194.0 63.2,178.0 54.6,157.8" fill="#808080"/><polygon points="29.2,194.0 26.4,195.6 60.4,179.6 63.2,178.0" fill="#808080"/><polygon points="26.4,195.6 29.4,201.4 63.4,185.4 60.4,179.6" fill="#808080"/><polygon points="29.4,201.4 21.0,206.6 55.0,190.6 63.4,185.4" fill="#808080"/><polygon points="21.0,206.6 18.8,203.0 52.8,187.0 55.0,190.6" fill="#808080"/><polygon points="18.8,203.0 13.8,205.8 47.8,189.8 52.8,187.0" fill="#808080"/><polygon points="13.8,205.8 7.8,192.2 41.8,176.2 47.8,189.8" fill="#808080"/><polygon points="7.8,192.2 18.4,188.0 52.4,172.0 41.8,176.2" fill="#808080"/><polygon points="18.4,188.0 13.4,177.0 47.4,161.0 52.4,172.0" fill="#808080"/><polygon points="-44.4,250.9 -36.0,245.7 -22.9,266.3 -19.2,272.3 -25.7,275.1 -38.8,265.3" fill="#808080"/><polygon points="-16.4,239.9 -8.0,234.7 5.1,255.3 8.8,261.3 2.3,264.1 -10.8,254.3" fill="#808080"/><polygon points="-44.4,250.9 -36.0,245.7 -8.0,234.7 -16.4,239.9" fill="#808080"/><polygon points="-36.0,245.7 -22.9,266.3 5.1,255.3 -8.0,234.7" fill="#808080"/><polygon points="-22.9,266.3 -19.2,272.3 8.8,261.3 5.1,255.3" fill="#808080"/><polygon points="-19.2,272.3 -25.7,275.1 2.3,264.1 8.8,261.3" fill="#808080"/><polygon points="-25.7,275.1 -38.8,265.3 -10.8,254.3 2.3,264.1" fill="#808080"/><polygon points="-38.8,265.3 -44.4,250.9 -16.4,239.9 -10.8,254.3" fill="#808080"/><polygon points="-18.7,249.0 -11.3,244.8 -1.9,264.4 -5.2,266.3 -1.5,274.2 -8.9,277.3 -10.6,274.7 -17.8,278.4 -22.5,266.7 -13.1,261.6" fill="#808080"/><polygon points="9.3,238.0 16.7,233.8 26.1,253.4 22.8,255.3 26.5,263.2 19.1,266.3 17.4,263.7 10.2,267.4 5.5,255.7 14.9,250.6" fill="#808080"/><polygon points="-18.7,249.0 -11.3,244.8 16.7,233.8 9.3,238.0" fill="#808080"/><polygon points="-11.3,244.8 -1.9,264.4 26.1,253.4 16.7,233.8" fill="#808080"/><polygon points="-1.9,264.4 -5.2,266.3 22.8,255.3 26.1,253.4" fill="#808080"/><polygon points="-5.2,266.3 -1.5,274.2 26.5,263.2 22.8,255.3" fill="#808080"/><polygon points="-1.5,274.2 -8.9,277.3 19.1,266.3 26.5,263.2" fill="#808080"/><polygon points="-8.9,277.3 -10.6,274.7 17.4,263.7 19.1,266.3" fill="#808080"/><polygon points="-10.6,274.7 -17.8,278.4 10.2,267.4 17.4,263.7" fill="#808080"/><polygon points="-17.8,278.4 -22.5,266.7 5.5,255.7 10.2,267.4" fill="#808080"/><polygon points="-22.5,266.7 -13.1,261.6 14.9,250.6 5.5,255.7" fill="#808080"/><polygon points="-13.1,261.6 -18.7,249.0 9.3,238.0 14.9,250.6" fill="#808080"/><polygon points="13.0,262.5 23.6,256.9 26.1,260.0 35.7,253.4 41.5,263.6 46.6,271.4 36.8,272.8 27.5,278.6 23.3,272.6 19.1,274.2" fill="#808080"/><polygon points="46.0,249.8 56.5,244.2 59.1,247.3 68.7,240.7 74.5,250.9 79.6,258.7 69.8,260.1 60.5,265.9 56.3,259.9 52.1,261.5" fill="#808080"/><polygon points="13.0,262.5 23.6,256.9 56.5,244.2 46.0,249.8" fill="#808080"/><polygon points="23.6,256.9 26.1,260.0 59.1,247.3 56.5,244.2" fill="#808080"/><polygon points="26.1,260.0 35.7,253.4 68.7,240.7 59.1,247.3" fill="#808080"/><polygon points="35.7,253.4 41.5,263.6 74.5,250.9 68.7,240.7" fill="#808080"/><polygon points="41.5,263.6 46.6,271.4 79.6,258.7 74.5,250.9" fill="#808080"/><polygon points="46.6,271.4 36.8,272.8 69.8,260.1 79.6,258.7" fill="#808080"/><polygon points="36.8,272.8 27.5,278.6 60.5,265.9 69.8,260.1" fill="#808080"/><polygon points="27.5,278.6 23.3,272.6 56.3,259.9 60.5,265.9" fill="#808080"/><polygon points="23.3,272.6 19.1,274.2 52.1,261.5 56.3,259.9" fill="#808080"/><polygon points="19.1,274.2 13.0,262.5 46.0,249.8 52.1,261.5" fill="#808080"/><polygon points="41.5,263.6 46.6,259.7 50.8,259.0 49.9,253.9 60.6,249.9 67.6,264.4 63.9,266.3 65.7,270.9 50.3,279.1" fill="#808080"/><polygon points="74.5,250.9 79.6,247.0 83.8,246.3 82.9,241.2 93.6,237.2 100.6,251.7 96.9,253.6 98.7,258.2 83.3,266.4" fill="#808080"/><polygon points="41.5,263.6 46.6,259.7 79.6,247.0 74.5,250.9" fill="#808080"/><polygon points="46.6,259.7 50.8,259.0 83.8,246.3 79.6,247.0" fill="#808080"/><polygon points="50.8,259.0 49.9,253.9 82.9,241.2 83.8,246.3" fill="#808080"/><polygon points="49.9,253.9 60.6,249.9 93.6,237.2 82.9,241.2" fill="#808080"/><polygon points="60.6,249.9 67.6,264.4 100.6,251.7 93.6,237.2" fill="#808080"/><polygon points="67.6,264.4 63.9,266.3 96.9,253.6 100.6,251.7" fill="#808080"/><polygon points="63.9,266.3 65.7,270.9 98.7,258.2 96.9,253.6" fill="#808080"/><polygon points="65.7,270.9 50.3,279.1 83.3,266.4 98.7,258.2" fill="#808080"/><polygon points="50.3,279.1 41.5,263.6 74.5,250.9 83.3,266.4" fill="#808080"/><polygon points="-113.1,187.8 -109.3,178.9 -100.4,177.7 -96.6,159.9 -100.4,157.4 -73.8,147.3 -65.0,148.6 -67.5,170.1 -84.0,177.7" fill="#808080"/><polygon points="40.2,159.2 63.0,149.8 95.9,148.6 99.7,190.3 70.1,203.0 70.1,159.2" fill="#808080"/>
<use href="#bld"/>

<use href="#lines"/>
<use href="#tower"/>
<polygon points="39.6,160.2 70.0,160.2 70.0,204.2 46.6,204.2 46.6,191.8 42.2,190.2 42.2,178.8 39.6,178.6" fill="#fb9a6b" stroke="#70341a" stroke-width="0.8"/>
</g>
<polygon points="0.0,0.0 218.0,143.0 83.3,347.0 -133.4,205.7" fill="none" stroke="rgba(0,0,0,0.52)" stroke-width="1" shape-rendering="crispEdges"/>
</g>
<g transform="translate(241.3,514.5)">
<g clip-path="url(#site)">
<polygon points="2.7,33.9 13.9,40.3 17.7,34.6 20.7,36.5 23.4,35.8 33.7,41.9 33.5,44.7 36.1,47.9 29.7,57.8 25.6,56.1 19.7,64.1 22.7,67.5 16.3,78.4 12.1,76.5 11.3,77.8 0.1,71.3 -0.7,69.9 0.2,68.1 -2.9,65.9 0.6,60.1 -9.3,52.1 -7.6,49.9 -8.9,48.5 -1.6,37.6 0.1,37.9" fill="#808080"/><polygon points="-69.5,453.9 -58.3,460.3 -54.5,454.6 -51.5,456.5 -48.8,455.8 -38.5,461.9 -38.7,464.7 -36.2,467.9 -42.5,477.8 -46.6,476.1 -52.5,484.1 -49.5,487.5 -56.0,498.4 -60.2,496.5 -61.0,497.8 -72.2,491.3 -73.0,489.9 -72.0,488.1 -75.2,485.9 -71.6,480.1 -81.5,472.1 -79.8,469.9 -81.2,468.5 -73.8,457.6 -72.2,457.9" fill="#808080"/><polygon points="2.7,33.9 13.9,40.3 -58.3,460.3 -69.5,453.9" fill="#808080"/><polygon points="13.9,40.3 17.7,34.6 -54.5,454.6 -58.3,460.3" fill="#808080"/><polygon points="17.7,34.6 20.7,36.5 -51.5,456.5 -54.5,454.6" fill="#808080"/><polygon points="20.7,36.5 23.4,35.8 -48.8,455.8 -51.5,456.5" fill="#808080"/><polygon points="23.4,35.8 33.7,41.9 -38.5,461.9 -48.8,455.8" fill="#808080"/><polygon points="33.7,41.9 33.5,44.7 -38.7,464.7 -38.5,461.9" fill="#808080"/><polygon points="33.5,44.7 36.1,47.9 -36.2,467.9 -38.7,464.7" fill="#808080"/><polygon points="36.1,47.9 29.7,57.8 -42.5,477.8 -36.2,467.9" fill="#808080"/><polygon points="29.7,57.8 25.6,56.1 -46.6,476.1 -42.5,477.8" fill="#808080"/><polygon points="25.6,56.1 19.7,64.1 -52.5,484.1 -46.6,476.1" fill="#808080"/><polygon points="19.7,64.1 22.7,67.5 -49.5,487.5 -52.5,484.1" fill="#808080"/><polygon points="22.7,67.5 16.3,78.4 -56.0,498.4 -49.5,487.5" fill="#808080"/><polygon points="16.3,78.4 12.1,76.5 -60.2,496.5 -56.0,498.4" fill="#808080"/><polygon points="12.1,76.5 11.3,77.8 -61.0,497.8 -60.2,496.5" fill="#808080"/><polygon points="11.3,77.8 0.1,71.3 -72.2,491.3 -61.0,497.8" fill="#808080"/><polygon points="0.1,71.3 -0.7,69.9 -73.0,489.9 -72.2,491.3" fill="#808080"/><polygon points="-0.7,69.9 0.2,68.1 -72.0,488.1 -73.0,489.9" fill="#808080"/><polygon points="0.2,68.1 -2.9,65.9 -75.2,485.9 -72.0,488.1" fill="#808080"/><polygon points="-2.9,65.9 0.6,60.1 -71.6,480.1 -75.2,485.9" fill="#808080"/><polygon points="0.6,60.1 -9.3,52.1 -81.5,472.1 -71.6,480.1" fill="#808080"/><polygon points="-9.3,52.1 -7.6,49.9 -79.8,469.9 -81.5,472.1" fill="#808080"/><polygon points="-7.6,49.9 -8.9,48.5 -81.2,468.5 -79.8,469.9" fill="#808080"/><polygon points="-8.9,48.5 -1.6,37.6 -73.8,457.6 -81.2,468.5" fill="#808080"/><polygon points="-1.6,37.6 0.1,37.9 -72.2,457.9 -73.8,457.6" fill="#808080"/><polygon points="0.1,37.9 2.7,33.9 -69.5,453.9 -72.2,457.9" fill="#808080"/><polygon points="123.6,153.5 174.5,153.5 174.5,172.7 165.1,172.7 165.1,169.9 150.7,169.9 150.7,266.0 123.6,266.0" fill="#808080"/><polygon points="62.7,573.5 113.6,573.5 113.6,592.7 104.2,592.7 104.2,589.9 89.8,589.9 89.8,686.0 62.7,686.0" fill="#808080"/><polygon points="123.6,153.5 174.5,153.5 113.6,573.5 62.7,573.5" fill="#808080"/><polygon points="174.5,153.5 174.5,172.7 113.6,592.7 113.6,573.5" fill="#808080"/><polygon points="174.5,172.7 165.1,172.7 104.2,592.7 113.6,592.7" fill="#808080"/><polygon points="165.1,172.7 165.1,169.9 104.2,589.9 104.2,592.7" fill="#808080"/><polygon points="165.1,169.9 150.7,169.9 89.8,589.9 104.2,589.9" fill="#808080"/><polygon points="150.7,169.9 150.7,266.0 89.8,686.0 89.8,589.9" fill="#808080"/><polygon points="150.7,266.0 123.6,266.0 62.7,686.0 89.8,686.0" fill="#808080"/><polygon points="123.6,266.0 123.6,153.5 62.7,573.5 62.7,686.0" fill="#808080"/><polygon points="-81.4,192.2 -71.2,186.6 -71.8,183.4 -64.6,178.8 -62.4,178.8 -55.8,192.4 -56.6,197.6 -68.6,203.6 -68.0,205.6 -72.6,209.0" fill="#808080"/><polygon points="-153.6,612.2 -143.4,606.6 -144.0,603.4 -136.8,598.8 -134.6,598.8 -128.0,612.4 -128.8,617.6 -140.8,623.6 -140.3,625.6 -144.8,629.0" fill="#808080"/><polygon points="-81.4,192.2 -71.2,186.6 -143.4,606.6 -153.6,612.2" fill="#808080"/><polygon points="-71.2,186.6 -71.8,183.4 -144.0,603.4 -143.4,606.6" fill="#808080"/><polygon points="-71.8,183.4 -64.6,178.8 -136.8,598.8 -144.0,603.4" fill="#808080"/><polygon points="-64.6,178.8 -62.4,178.8 -134.6,598.8 -136.8,598.8" fill="#808080"/><polygon points="-62.4,178.8 -55.8,192.4 -128.0,612.4 -134.6,598.8" fill="#808080"/><polygon points="-55.8,192.4 -56.6,197.6 -128.8,617.6 -128.0,612.4" fill="#808080"/><polygon points="-56.6,197.6 -68.6,203.6 -140.8,623.6 -128.8,617.6" fill="#808080"/><polygon points="-68.6,203.6 -68.0,205.6 -140.3,625.6 -140.8,623.6" fill="#808080"/><polygon points="-68.0,205.6 -72.6,209.0 -144.8,629.0 -140.3,625.6" fill="#808080"/><polygon points="-72.6,209.0 -81.4,192.2 -153.6,612.2 -144.8,629.0" fill="#808080"/><polygon points="-55.8,192.4 -46.4,187.6 -47.0,183.2 -40.4,179.0 -38.6,179.4 -32.0,196.6 -45.2,204.4 -44.6,206.8 -49.6,210.0 -56.6,197.6" fill="#808080"/><polygon points="-128.0,612.4 -118.6,607.6 -119.2,603.2 -112.6,599.0 -110.8,599.4 -104.3,616.6 -117.4,624.4 -116.8,626.8 -121.9,630.0 -128.8,617.6" fill="#808080"/><polygon points="-55.8,192.4 -46.4,187.6 -118.6,607.6 -128.0,612.4" fill="#808080"/><polygon points="-46.4,187.6 -47.0,183.2 -119.2,603.2 -118.6,607.6" fill="#808080"/><polygon points="-47.0,183.2 -40.4,179.0 -112.6,599.0 -119.2,603.2" fill="#808080"/><polygon points="-40.4,179.0 -38.6,179.4 -110.8,599.4 -112.6,599.0" fill="#808080"/><polygon points="-38.6,179.4 -32.0,196.6 -104.3,616.6 -110.8,599.4" fill="#808080"/><polygon points="-32.0,196.6 -45.2,204.4 -117.4,624.4 -104.3,616.6" fill="#808080"/><polygon points="-45.2,204.4 -44.6,206.8 -116.8,626.8 -117.4,624.4" fill="#808080"/><polygon points="-44.6,206.8 -49.6,210.0 -121.9,630.0 -116.8,626.8" fill="#808080"/><polygon points="-49.6,210.0 -56.6,197.6 -128.8,617.6 -121.9,630.0" fill="#808080"/><polygon points="-56.6,197.6 -55.8,192.4 -128.0,612.4 -128.8,617.6" fill="#808080"/><polygon points="-19.4,188.2 -7.4,181.0 -0.2,193.4 6.4,191.0 11.8,200.6 -4.6,210.0 -8.6,202.6 -11.0,203.4" fill="#808080"/><polygon points="-91.6,608.2 -79.6,601.0 -72.4,613.4 -65.9,611.0 -60.4,620.6 -76.8,630.0 -80.8,622.6 -83.2,623.4" fill="#808080"/><polygon points="-19.4,188.2 -7.4,181.0 -79.6,601.0 -91.6,608.2" fill="#808080"/><polygon points="-7.4,181.0 -0.2,193.4 -72.4,613.4 -79.6,601.0" fill="#808080"/><polygon points="-0.2,193.4 6.4,191.0 -65.9,611.0 -72.4,613.4" fill="#808080"/><polygon points="6.4,191.0 11.8,200.6 -60.4,620.6 -65.9,611.0" fill="#808080"/><polygon points="11.8,200.6 -4.6,210.0 -76.8,630.0 -60.4,620.6" fill="#808080"/><polygon points="-4.6,210.0 -8.6,202.6 -80.8,622.6 -76.8,630.0" fill="#808080"/><polygon points="-8.6,202.6 -11.0,203.4 -83.2,623.4 -80.8,622.6" fill="#808080"/><polygon points="-11.0,203.4 -19.4,188.2 -91.6,608.2 -83.2,623.4" fill="#808080"/><polygon points="13.4,177.0 20.6,173.8 29.2,194.0 26.4,195.6 29.4,201.4 21.0,206.6 18.8,203.0 13.8,205.8 7.8,192.2 18.4,188.0" fill="#808080"/><polygon points="-58.8,597.0 -51.6,593.8 -43.0,614.0 -45.9,615.6 -42.8,621.4 -51.2,626.6 -53.4,623.0 -58.4,625.8 -64.4,612.2 -53.9,608.0" fill="#808080"/><polygon points="13.4,177.0 20.6,173.8 -51.6,593.8 -58.8,597.0" fill="#808080"/><polygon points="20.6,173.8 29.2,194.0 -43.0,614.0 -51.6,593.8" fill="#808080"/><polygon points="29.2,194.0 26.4,195.6 -45.9,615.6 -43.0,614.0" fill="#808080"/><polygon points="26.4,195.6 29.4,201.4 -42.8,621.4 -45.9,615.6" fill="#808080"/><polygon points="29.4,201.4 21.0,206.6 -51.2,626.6 -42.8,621.4" fill="#808080"/><polygon points="21.0,206.6 18.8,203.0 -53.4,623.0 -51.2,626.6" fill="#808080"/><polygon points="18.8,203.0 13.8,205.8 -58.4,625.8 -53.4,623.0" fill="#808080"/><polygon points="13.8,205.8 7.8,192.2 -64.4,612.2 -58.4,625.8" fill="#808080"/><polygon points="7.8,192.2 18.4,188.0 -53.9,608.0 -64.4,612.2" fill="#808080"/><polygon points="18.4,188.0 13.4,177.0 -58.8,597.0 -53.9,608.0" fill="#808080"/><polygon points="-44.4,250.9 -36.0,245.7 -22.9,266.3 -19.2,272.3 -25.7,275.1 -38.8,265.3" fill="#808080"/><polygon points="-116.6,670.9 -108.2,665.7 -95.2,686.3 -91.4,692.3 -98.0,695.1 -111.0,685.3" fill="#808080"/><polygon points="-44.4,250.9 -36.0,245.7 -108.2,665.7 -116.6,670.9" fill="#808080"/><polygon points="-36.0,245.7 -22.9,266.3 -95.2,686.3 -108.2,665.7" fill="#808080"/><polygon points="-22.9,266.3 -19.2,272.3 -91.4,692.3 -95.2,686.3" fill="#808080"/><polygon points="-19.2,272.3 -25.7,275.1 -98.0,695.1 -91.4,692.3" fill="#808080"/><polygon points="-25.7,275.1 -38.8,265.3 -111.0,685.3 -98.0,695.1" fill="#808080"/><polygon points="-38.8,265.3 -44.4,250.9 -116.6,670.9 -111.0,685.3" fill="#808080"/><polygon points="-18.7,249.0 -11.3,244.8 -1.9,264.4 -5.2,266.3 -1.5,274.2 -8.9,277.3 -10.6,274.7 -17.8,278.4 -22.5,266.7 -13.1,261.6" fill="#808080"/><polygon points="-91.0,669.0 -83.5,664.8 -74.2,684.4 -77.4,686.3 -73.7,694.2 -81.2,697.3 -82.8,694.7 -90.0,698.4 -94.7,686.7 -85.4,681.6" fill="#808080"/><polygon points="-18.7,249.0 -11.3,244.8 -83.5,664.8 -91.0,669.0" fill="#808080"/><polygon points="-11.3,244.8 -1.9,264.4 -74.2,684.4 -83.5,664.8" fill="#808080"/><polygon points="-1.9,264.4 -5.2,266.3 -77.4,686.3 -74.2,684.4" fill="#808080"/><polygon points="-5.2,266.3 -1.5,274.2 -73.7,694.2 -77.4,686.3" fill="#808080"/><polygon points="-1.5,274.2 -8.9,277.3 -81.2,697.3 -73.7,694.2" fill="#808080"/><polygon points="-8.9,277.3 -10.6,274.7 -82.8,694.7 -81.2,697.3" fill="#808080"/><polygon points="-10.6,274.7 -17.8,278.4 -90.0,698.4 -82.8,694.7" fill="#808080"/><polygon points="-17.8,278.4 -22.5,266.7 -94.7,686.7 -90.0,698.4" fill="#808080"/><polygon points="-22.5,266.7 -13.1,261.6 -85.4,681.6 -94.7,686.7" fill="#808080"/><polygon points="-13.1,261.6 -18.7,249.0 -91.0,669.0 -85.4,681.6" fill="#808080"/><polygon points="13.0,262.5 23.6,256.9 26.1,260.0 35.7,253.4 41.5,263.6 46.6,271.4 36.8,272.8 27.5,278.6 23.3,272.6 19.1,274.2" fill="#808080"/><polygon points="-59.2,682.5 -48.7,676.9 -46.2,680.0 -36.6,673.4 -30.8,683.6 -25.6,691.4 -35.4,692.8 -44.8,698.6 -49.0,692.6 -53.2,694.2" fill="#808080"/><polygon points="13.0,262.5 23.6,256.9 -48.7,676.9 -59.2,682.5" fill="#808080"/><polygon points="23.6,256.9 26.1,260.0 -46.2,680.0 -48.7,676.9" fill="#808080"/><polygon points="26.1,260.0 35.7,253.4 -36.6,673.4 -46.2,680.0" fill="#808080"/><polygon points="35.7,253.4 41.5,263.6 -30.8,683.6 -36.6,673.4" fill="#808080"/><polygon points="41.5,263.6 46.6,271.4 -25.6,691.4 -30.8,683.6" fill="#808080"/><polygon points="46.6,271.4 36.8,272.8 -35.4,692.8 -25.6,691.4" fill="#808080"/><polygon points="36.8,272.8 27.5,278.6 -44.8,698.6 -35.4,692.8" fill="#808080"/><polygon points="27.5,278.6 23.3,272.6 -49.0,692.6 -44.8,698.6" fill="#808080"/><polygon points="23.3,272.6 19.1,274.2 -53.2,694.2 -49.0,692.6" fill="#808080"/><polygon points="19.1,274.2 13.0,262.5 -59.2,682.5 -53.2,694.2" fill="#808080"/><polygon points="41.5,263.6 46.6,259.7 50.8,259.0 49.9,253.9 60.6,249.9 67.6,264.4 63.9,266.3 65.7,270.9 50.3,279.1" fill="#808080"/><polygon points="-30.8,683.6 -25.6,679.7 -21.4,679.0 -22.4,674.0 -11.6,669.9 -4.6,684.4 -8.4,686.3 -6.5,690.9 -21.9,699.0" fill="#808080"/><polygon points="41.5,263.6 46.6,259.7 -25.6,679.7 -30.8,683.6" fill="#808080"/><polygon points="46.6,259.7 50.8,259.0 -21.4,679.0 -25.6,679.7" fill="#808080"/><polygon points="50.8,259.0 49.9,253.9 -22.4,674.0 -21.4,679.0" fill="#808080"/><polygon points="49.9,253.9 60.6,249.9 -11.6,669.9 -22.4,674.0" fill="#808080"/><polygon points="60.6,249.9 67.6,264.4 -4.6,684.4 -11.6,669.9" fill="#808080"/><polygon points="67.6,264.4 63.9,266.3 -8.4,686.3 -4.6,684.4" fill="#808080"/><polygon points="63.9,266.3 65.7,270.9 -6.5,690.9 -8.4,686.3" fill="#808080"/><polygon points="65.7,270.9 50.3,279.1 -21.9,699.0 -6.5,690.9" fill="#808080"/><polygon points="50.3,279.1 41.5,263.6 -30.8,683.6 -21.9,699.0" fill="#808080"/><polygon points="-101.8,159.8 -96.0,162.0 -99.8,180.4 -103.8,179.6 -104.2,180.6 -111.4,178.8 -114.6,190.2 -121.0,188.6" fill="#808080"/><polygon points="-174.0,579.8 -168.3,582.0 -172.0,600.4 -176.0,599.6 -176.4,600.6 -183.6,598.8 -186.8,610.2 -193.2,608.6" fill="#808080"/><polygon points="-101.8,159.8 -96.0,162.0 -168.3,582.0 -174.0,579.8" fill="#808080"/><polygon points="-96.0,162.0 -99.8,180.4 -172.0,600.4 -168.3,582.0" fill="#808080"/><polygon points="-99.8,180.4 -103.8,179.6 -176.0,599.6 -172.0,600.4" fill="#808080"/><polygon points="-103.8,179.6 -104.2,180.6 -176.4,600.6 -176.0,599.6" fill="#808080"/><polygon points="-104.2,180.6 -111.4,178.8 -183.6,598.8 -176.4,600.6" fill="#808080"/><polygon points="-111.4,178.8 -114.6,190.2 -186.8,610.2 -183.6,598.8" fill="#808080"/><polygon points="-114.6,190.2 -121.0,188.6 -193.2,608.6 -186.8,610.2" fill="#808080"/><polygon points="-121.0,188.6 -101.8,159.8 -174.0,579.8 -193.2,608.6" fill="#808080"/><polygon points="40.7,157.9 55.5,157.9 55.5,153.9 67.1,153.9 67.1,203.5 49.1,203.5 49.1,201.3 46.3,201.3 46.3,178.7 41.1,178.7" fill="#808080"/><polygon points="-26.5,577.9 -11.7,577.9 -11.7,573.9 -0.1,573.9 -0.1,623.5 -18.1,623.5 -18.1,621.3 -20.9,621.3 -20.9,598.7 -26.1,598.7" fill="#808080"/><polygon points="40.7,157.9 55.5,157.9 -11.7,577.9 -26.5,577.9" fill="#808080"/><polygon points="55.5,157.9 55.5,153.9 -11.7,573.9 -11.7,577.9" fill="#808080"/><polygon points="55.5,153.9 67.1,153.9 -0.1,573.9 -11.7,573.9" fill="#808080"/><polygon points="67.1,153.9 67.1,203.5 -0.1,623.5 -0.1,573.9" fill="#808080"/><polygon points="67.1,203.5 49.1,203.5 -18.1,623.5 -0.1,623.5" fill="#808080"/><polygon points="49.1,203.5 49.1,201.3 -18.1,621.3 -18.1,623.5" fill="#808080"/><polygon points="49.1,201.3 46.3,201.3 -20.9,621.3 -18.1,621.3" fill="#808080"/><polygon points="46.3,201.3 46.3,178.7 -20.9,598.7 -20.9,621.3" fill="#808080"/><polygon points="46.3,178.7 41.1,178.7 -26.1,598.7 -20.9,598.7" fill="#808080"/><polygon points="41.1,178.7 40.7,157.9 -26.5,577.9 -26.1,598.7" fill="#808080"/>
<use href="#bld"/>
<polygon points="2.7,33.9 13.9,40.3 17.7,34.6 20.7,36.5 23.4,35.8 33.7,41.9 33.5,44.7 36.1,47.9 29.7,57.8 25.6,56.1 19.7,64.1 22.7,67.5 16.3,78.4 12.1,76.5 11.3,77.8 0.1,71.3 -0.7,69.9 0.2,68.1 -2.9,65.9 0.6,60.1 -9.3,52.1 -7.6,49.9 -8.9,48.5 -1.6,37.6 0.1,37.9" fill="#808080"/><polygon points="-69.5,453.9 -58.3,460.3 -54.5,454.6 -51.5,456.5 -48.8,455.8 -38.5,461.9 -38.7,464.7 -36.2,467.9 -42.5,477.8 -46.6,476.1 -52.5,484.1 -49.5,487.5 -56.0,498.4 -60.2,496.5 -61.0,497.8 -72.2,491.3 -73.0,489.9 -72.0,488.1 -75.2,485.9 -71.6,480.1 -81.5,472.1 -79.8,469.9 -81.2,468.5 -73.8,457.6 -72.2,457.9" fill="#808080"/><polygon points="2.7,33.9 13.9,40.3 -58.3,460.3 -69.5,453.9" fill="#808080"/><polygon points="13.9,40.3 17.7,34.6 -54.5,454.6 -58.3,460.3" fill="#808080"/><polygon points="17.7,34.6 20.7,36.5 -51.5,456.5 -54.5,454.6" fill="#808080"/><polygon points="20.7,36.5 23.4,35.8 -48.8,455.8 -51.5,456.5" fill="#808080"/><polygon points="23.4,35.8 33.7,41.9 -38.5,461.9 -48.8,455.8" fill="#808080"/><polygon points="33.7,41.9 33.5,44.7 -38.7,464.7 -38.5,461.9" fill="#808080"/><polygon points="33.5,44.7 36.1,47.9 -36.2,467.9 -38.7,464.7" fill="#808080"/><polygon points="36.1,47.9 29.7,57.8 -42.5,477.8 -36.2,467.9" fill="#808080"/><polygon points="29.7,57.8 25.6,56.1 -46.6,476.1 -42.5,477.8" fill="#808080"/><polygon points="25.6,56.1 19.7,64.1 -52.5,484.1 -46.6,476.1" fill="#808080"/><polygon points="19.7,64.1 22.7,67.5 -49.5,487.5 -52.5,484.1" fill="#808080"/><polygon points="22.7,67.5 16.3,78.4 -56.0,498.4 -49.5,487.5" fill="#808080"/><polygon points="16.3,78.4 12.1,76.5 -60.2,496.5 -56.0,498.4" fill="#808080"/><polygon points="12.1,76.5 11.3,77.8 -61.0,497.8 -60.2,496.5" fill="#808080"/><polygon points="11.3,77.8 0.1,71.3 -72.2,491.3 -61.0,497.8" fill="#808080"/><polygon points="0.1,71.3 -0.7,69.9 -73.0,489.9 -72.2,491.3" fill="#808080"/><polygon points="-0.7,69.9 0.2,68.1 -72.0,488.1 -73.0,489.9" fill="#808080"/><polygon points="0.2,68.1 -2.9,65.9 -75.2,485.9 -72.0,488.1" fill="#808080"/><polygon points="-2.9,65.9 0.6,60.1 -71.6,480.1 -75.2,485.9" fill="#808080"/><polygon points="0.6,60.1 -9.3,52.1 -81.5,472.1 -71.6,480.1" fill="#808080"/><polygon points="-9.3,52.1 -7.6,49.9 -79.8,469.9 -81.5,472.1" fill="#808080"/><polygon points="-7.6,49.9 -8.9,48.5 -81.2,468.5 -79.8,469.9" fill="#808080"/><polygon points="-8.9,48.5 -1.6,37.6 -73.8,457.6 -81.2,468.5" fill="#808080"/><polygon points="-1.6,37.6 0.1,37.9 -72.2,457.9 -73.8,457.6" fill="#808080"/><polygon points="0.1,37.9 2.7,33.9 -69.5,453.9 -72.2,457.9" fill="#808080"/><polygon points="124.6,152.9 174.6,152.9 171.5,166.4 169.0,172.7 165.2,172.7 165.2,169.7 150.7,169.7 150.7,183.7 149.8,183.7" fill="#808080"/>
<use href="#lines"/>
<use href="#tower"/>
<polygon points="40.7,157.9 55.5,157.9 55.5,153.9 67.1,153.9 67.1,203.5 49.1,203.5 49.1,201.3 46.3,201.3 46.3,178.7 41.1,178.7" fill="#fb9a6b" stroke="#70341a" stroke-width="0.8"/><polyline points="43.9,158.5 43.9,178.3 48.7,178.7 48.7,201.5" fill="none" stroke="#70341a" stroke-width="0.5"/><polyline points="43.9,158.7 55.9,158.7 55.9,154.3" fill="none" stroke="#70341a" stroke-width="0.5"/>
</g>
<polygon points="0.0,0.0 218.0,143.0 83.3,347.0 -133.4,205.7" fill="none" stroke="rgba(0,0,0,0.52)" stroke-width="1" shape-rendering="crispEdges"/>
</g>
<g transform="translate(650.3,514.3)">
<g clip-path="url(#site)">
<polygon points="32.7,40.0 61.5,51.2 103.9,68.8 197.5,109.6 187.1,123.2 180.7,124.0 175.9,130.4 179.1,133.6 170.3,142.4 164.7,140.0 83.1,108.0 15.9,78.4 21.5,45.6" fill="#808080"/><polygon points="174.6,154.4 202.9,165.0 192.0,182.8 167.5,177.7 167.5,172.6 174.6,172.6" fill="#808080"/><polygon points="151.0,170.1 164.9,170.1 164.9,172.6 167.5,177.7 168.2,219.5 154.8,241.0 150.2,240.5" fill="#808080"/><polygon points="125.7,265.1 138.3,265.1 135.8,270.2" fill="#808080"/><polygon points="15.7,10.7 19.4,13.7 19.7,16.4 31.4,39.4 30.5,39.6 18.4,18.4 16.0,14.4" fill="#808080"/><polygon points="-81.4,192.2 -71.2,186.6 -71.8,183.4 -64.6,178.8 -62.4,178.8 -55.8,192.4 -56.6,197.6 -68.6,203.6 -68.0,205.6 -72.6,209.0" fill="#808080"/><polygon points="-60.4,201.2 -50.2,195.6 -50.8,192.4 -43.6,187.8 -41.4,187.8 -34.8,201.4 -35.6,206.6 -47.6,212.6 -47.0,214.6 -51.6,218.0" fill="#808080"/><polygon points="-81.4,192.2 -71.2,186.6 -50.2,195.6 -60.4,201.2" fill="#808080"/><polygon points="-71.2,186.6 -71.8,183.4 -50.8,192.4 -50.2,195.6" fill="#808080"/><polygon points="-71.8,183.4 -64.6,178.8 -43.6,187.8 -50.8,192.4" fill="#808080"/><polygon points="-64.6,178.8 -62.4,178.8 -41.4,187.8 -43.6,187.8" fill="#808080"/><polygon points="-62.4,178.8 -55.8,192.4 -34.8,201.4 -41.4,187.8" fill="#808080"/><polygon points="-55.8,192.4 -56.6,197.6 -35.6,206.6 -34.8,201.4" fill="#808080"/><polygon points="-56.6,197.6 -68.6,203.6 -47.6,212.6 -35.6,206.6" fill="#808080"/><polygon points="-68.6,203.6 -68.0,205.6 -47.0,214.6 -47.6,212.6" fill="#808080"/><polygon points="-68.0,205.6 -72.6,209.0 -51.6,218.0 -47.0,214.6" fill="#808080"/><polygon points="-72.6,209.0 -81.4,192.2 -60.4,201.2 -51.6,218.0" fill="#808080"/><polygon points="-55.8,192.4 -46.4,187.6 -47.0,183.2 -40.4,179.0 -38.6,179.4 -32.0,196.6 -45.2,204.4 -44.6,206.8 -49.6,210.0 -56.6,197.6" fill="#808080"/><polygon points="-34.8,201.4 -25.4,196.6 -26.0,192.2 -19.4,188.0 -17.6,188.4 -11.0,205.6 -24.2,213.4 -23.6,215.8 -28.6,219.0 -35.6,206.6" fill="#808080"/><polygon points="-55.8,192.4 -46.4,187.6 -25.4,196.6 -34.8,201.4" fill="#808080"/><polygon points="-46.4,187.6 -47.0,183.2 -26.0,192.2 -25.4,196.6" fill="#808080"/><polygon points="-47.0,183.2 -40.4,179.0 -19.4,188.0 -26.0,192.2" fill="#808080"/><polygon points="-40.4,179.0 -38.6,179.4 -17.6,188.4 -19.4,188.0" fill="#808080"/><polygon points="-38.6,179.4 -32.0,196.6 -11.0,205.6 -17.6,188.4" fill="#808080"/><polygon points="-32.0,196.6 -45.2,204.4 -24.2,213.4 -11.0,205.6" fill="#808080"/><polygon points="-45.2,204.4 -44.6,206.8 -23.6,215.8 -24.2,213.4" fill="#808080"/><polygon points="-44.6,206.8 -49.6,210.0 -28.6,219.0 -23.6,215.8" fill="#808080"/><polygon points="-49.6,210.0 -56.6,197.6 -35.6,206.6 -28.6,219.0" fill="#808080"/><polygon points="-56.6,197.6 -55.8,192.4 -34.8,201.4 -35.6,206.6" fill="#808080"/><polygon points="-19.4,188.2 -7.4,181.0 -0.2,193.4 6.4,191.0 11.8,200.6 -4.6,210.0 -8.6,202.6 -11.0,203.4" fill="#808080"/><polygon points="1.6,197.2 13.6,190.0 20.8,202.4 27.4,200.0 32.8,209.6 16.4,219.0 12.4,211.6 10.0,212.4" fill="#808080"/><polygon points="-19.4,188.2 -7.4,181.0 13.6,190.0 1.6,197.2" fill="#808080"/><polygon points="-7.4,181.0 -0.2,193.4 20.8,202.4 13.6,190.0" fill="#808080"/><polygon points="-0.2,193.4 6.4,191.0 27.4,200.0 20.8,202.4" fill="#808080"/><polygon points="6.4,191.0 11.8,200.6 32.8,209.6 27.4,200.0" fill="#808080"/><polygon points="11.8,200.6 -4.6,210.0 16.4,219.0 32.8,209.6" fill="#808080"/><polygon points="-4.6,210.0 -8.6,202.6 12.4,211.6 16.4,219.0" fill="#808080"/><polygon points="-8.6,202.6 -11.0,203.4 10.0,212.4 12.4,211.6" fill="#808080"/><polygon points="-11.0,203.4 -19.4,188.2 1.6,197.2 10.0,212.4" fill="#808080"/><polygon points="13.4,177.0 20.6,173.8 29.2,194.0 26.4,195.6 29.4,201.4 21.0,206.6 18.8,203.0 13.8,205.8 7.8,192.2 18.4,188.0" fill="#808080"/><polygon points="34.4,186.0 41.6,182.8 50.2,203.0 47.4,204.6 50.4,210.4 42.0,215.6 39.8,212.0 34.8,214.8 28.8,201.2 39.4,197.0" fill="#808080"/><polygon points="13.4,177.0 20.6,173.8 41.6,182.8 34.4,186.0" fill="#808080"/><polygon points="20.6,173.8 29.2,194.0 50.2,203.0 41.6,182.8" fill="#808080"/><polygon points="29.2,194.0 26.4,195.6 47.4,204.6 50.2,203.0" fill="#808080"/><polygon points="26.4,195.6 29.4,201.4 50.4,210.4 47.4,204.6" fill="#808080"/><polygon points="29.4,201.4 21.0,206.6 42.0,215.6 50.4,210.4" fill="#808080"/><polygon points="21.0,206.6 18.8,203.0 39.8,212.0 42.0,215.6" fill="#808080"/><polygon points="18.8,203.0 13.8,205.8 34.8,214.8 39.8,212.0" fill="#808080"/><polygon points="13.8,205.8 7.8,192.2 28.8,201.2 34.8,214.8" fill="#808080"/><polygon points="7.8,192.2 18.4,188.0 39.4,197.0 28.8,201.2" fill="#808080"/><polygon points="18.4,188.0 13.4,177.0 34.4,186.0 39.4,197.0" fill="#808080"/><polygon points="-44.4,250.9 -36.0,245.7 -22.9,266.3 -19.2,272.3 -25.7,275.1 -38.8,265.3" fill="#808080"/><polygon points="-23.4,259.9 -15.0,254.7 -1.9,275.3 1.8,281.3 -4.7,284.1 -17.8,274.3" fill="#808080"/><polygon points="-44.4,250.9 -36.0,245.7 -15.0,254.7 -23.4,259.9" fill="#808080"/><polygon points="-36.0,245.7 -22.9,266.3 -1.9,275.3 -15.0,254.7" fill="#808080"/><polygon points="-22.9,266.3 -19.2,272.3 1.8,281.3 -1.9,275.3" fill="#808080"/><polygon points="-19.2,272.3 -25.7,275.1 -4.7,284.1 1.8,281.3" fill="#808080"/><polygon points="-25.7,275.1 -38.8,265.3 -17.8,274.3 -4.7,284.1" fill="#808080"/><polygon points="-38.8,265.3 -44.4,250.9 -23.4,259.9 -17.8,274.3" fill="#808080"/><polygon points="-18.7,249.0 -11.3,244.8 -1.9,264.4 -5.2,266.3 -1.5,274.2 -8.9,277.3 -10.6,274.7 -17.8,278.4 -22.5,266.7 -13.1,261.6" fill="#808080"/><polygon points="2.3,258.0 9.7,253.8 19.1,273.4 15.8,275.3 19.5,283.2 12.1,286.3 10.4,283.7 3.2,287.4 -1.5,275.7 7.9,270.6" fill="#808080"/><polygon points="-18.7,249.0 -11.3,244.8 9.7,253.8 2.3,258.0" fill="#808080"/><polygon points="-11.3,244.8 -1.9,264.4 19.1,273.4 9.7,253.8" fill="#808080"/><polygon points="-1.9,264.4 -5.2,266.3 15.8,275.3 19.1,273.4" fill="#808080"/><polygon points="-5.2,266.3 -1.5,274.2 19.5,283.2 15.8,275.3" fill="#808080"/><polygon points="-1.5,274.2 -8.9,277.3 12.1,286.3 19.5,283.2" fill="#808080"/><polygon points="-8.9,277.3 -10.6,274.7 10.4,283.7 12.1,286.3" fill="#808080"/><polygon points="-10.6,274.7 -17.8,278.4 3.2,287.4 10.4,283.7" fill="#808080"/><polygon points="-17.8,278.4 -22.5,266.7 -1.5,275.7 3.2,287.4" fill="#808080"/><polygon points="-22.5,266.7 -13.1,261.6 7.9,270.6 -1.5,275.7" fill="#808080"/><polygon points="-13.1,261.6 -18.7,249.0 2.3,258.0 7.9,270.6" fill="#808080"/><polygon points="13.0,262.5 23.6,256.9 26.1,260.0 35.7,253.4 41.5,263.6 46.6,271.4 36.8,272.8 27.5,278.6 23.3,272.6 19.1,274.2" fill="#808080"/><polygon points="34.0,271.5 44.5,265.9 47.1,269.0 56.7,262.4 62.5,272.6 67.6,280.4 57.8,281.8 48.5,287.6 44.3,281.6 40.1,283.2" fill="#808080"/><polygon points="13.0,262.5 23.6,256.9 44.5,265.9 34.0,271.5" fill="#808080"/><polygon points="23.6,256.9 26.1,260.0 47.1,269.0 44.5,265.9" fill="#808080"/><polygon points="26.1,260.0 35.7,253.4 56.7,262.4 47.1,269.0" fill="#808080"/><polygon points="35.7,253.4 41.5,263.6 62.5,272.6 56.7,262.4" fill="#808080"/><polygon points="41.5,263.6 46.6,271.4 67.6,280.4 62.5,272.6" fill="#808080"/><polygon points="46.6,271.4 36.8,272.8 57.8,281.8 67.6,280.4" fill="#808080"/><polygon points="36.8,272.8 27.5,278.6 48.5,287.6 57.8,281.8" fill="#808080"/><polygon points="27.5,278.6 23.3,272.6 44.3,281.6 48.5,287.6" fill="#808080"/><polygon points="23.3,272.6 19.1,274.2 40.1,283.2 44.3,281.6" fill="#808080"/><polygon points="19.1,274.2 13.0,262.5 34.0,271.5 40.1,283.2" fill="#808080"/><polygon points="41.5,263.6 46.6,259.7 50.8,259.0 49.9,253.9 60.6,249.9 67.6,264.4 63.9,266.3 65.7,270.9 50.3,279.1" fill="#808080"/><polygon points="62.5,272.6 67.6,268.7 71.8,268.0 70.9,262.9 81.6,258.9 88.6,273.4 84.9,275.3 86.7,279.9 71.3,288.1" fill="#808080"/><polygon points="41.5,263.6 46.6,259.7 67.6,268.7 62.5,272.6" fill="#808080"/><polygon points="46.6,259.7 50.8,259.0 71.8,268.0 67.6,268.7" fill="#808080"/><polygon points="50.8,259.0 49.9,253.9 70.9,262.9 71.8,268.0" fill="#808080"/><polygon points="49.9,253.9 60.6,249.9 81.6,258.9 70.9,262.9" fill="#808080"/><polygon points="60.6,249.9 67.6,264.4 88.6,273.4 81.6,258.9" fill="#808080"/><polygon points="67.6,264.4 63.9,266.3 84.9,275.3 88.6,273.4" fill="#808080"/><polygon points="63.9,266.3 65.7,270.9 86.7,279.9 84.9,275.3" fill="#808080"/><polygon points="65.7,270.9 50.3,279.1 71.3,288.1 86.7,279.9" fill="#808080"/><polygon points="50.3,279.1 41.5,263.6 62.5,272.6 71.3,288.1" fill="#808080"/><polygon points="-96.5,161.8 -77.3,169.0 -81.0,189.0 -92.2,186.6 -94.4,197.0 -114.1,189.8 -110.9,179.1 -100.2,181.0" fill="#808080"/><polygon points="67.1,153.9 79.1,157.5 97.5,166.3 99.5,217.5 83.1,218.3 64.7,209.5 54.3,204.3 67.1,203.5" fill="#808080"/>
<use href="#bld"/>

<use href="#lines"/>
<use href="#tower"/>
<polygon points="40.7,157.9 55.5,157.9 55.5,153.9 67.1,153.9 67.1,203.5 49.1,203.5 49.1,201.3 46.3,201.3 46.3,178.7 41.1,178.7" fill="#fb9a6b" stroke="#70341a" stroke-width="0.8"/><polyline points="43.9,158.5 43.9,178.3 48.7,178.7 48.7,201.5" fill="none" stroke="#70341a" stroke-width="0.5"/><polyline points="43.9,158.7 55.9,158.7 55.9,154.3" fill="none" stroke="#70341a" stroke-width="0.5"/>
</g>
<polygon points="0.0,0.0 218.0,143.0 83.3,347.0 -133.4,205.7" fill="none" stroke="rgba(0,0,0,0.52)" stroke-width="1" shape-rendering="crispEdges"/>
</g>
<g transform="translate(1048.3,514.3)">
<g clip-path="url(#site)">
<polygon points="2.2,37.1 18.6,28.2 28.0,21.4 16.1,11.0 75.2,50.5 18.6,75.8" fill="#808080"/><polygon points="125.1,152.9 187.1,128.3 193.5,126.5 217.5,143.5 203.6,165.0 184.6,170.1 187.1,187.8 155.5,241.0 150.4,239.8 151.7,170.1 174.5,170.1 174.5,152.9" fill="#808080"/><polygon points="91.6,63.2 106.1,70.0 126.8,82.2 131.4,94.1 129.9,94.1 125.8,83.4 106.1,71.8" fill="#808080"/><polygon points="-81.4,192.2 -71.2,186.6 -71.8,183.4 -64.6,178.8 -62.4,178.8 -55.8,192.4 -56.6,197.6 -68.6,203.6 -68.0,205.6 -72.6,209.0" fill="#808080"/><polygon points="-47.4,176.2 -37.2,170.6 -37.8,167.4 -30.6,162.8 -28.4,162.8 -21.8,176.4 -22.6,181.6 -34.6,187.6 -34.0,189.6 -38.6,193.0" fill="#808080"/><polygon points="-81.4,192.2 -71.2,186.6 -37.2,170.6 -47.4,176.2" fill="#808080"/><polygon points="-71.2,186.6 -71.8,183.4 -37.8,167.4 -37.2,170.6" fill="#808080"/><polygon points="-71.8,183.4 -64.6,178.8 -30.6,162.8 -37.8,167.4" fill="#808080"/><polygon points="-64.6,178.8 -62.4,178.8 -28.4,162.8 -30.6,162.8" fill="#808080"/><polygon points="-62.4,178.8 -55.8,192.4 -21.8,176.4 -28.4,162.8" fill="#808080"/><polygon points="-55.8,192.4 -56.6,197.6 -22.6,181.6 -21.8,176.4" fill="#808080"/><polygon points="-56.6,197.6 -68.6,203.6 -34.6,187.6 -22.6,181.6" fill="#808080"/><polygon points="-68.6,203.6 -68.0,205.6 -34.0,189.6 -34.6,187.6" fill="#808080"/><polygon points="-68.0,205.6 -72.6,209.0 -38.6,193.0 -34.0,189.6" fill="#808080"/><polygon points="-72.6,209.0 -81.4,192.2 -47.4,176.2 -38.6,193.0" fill="#808080"/><polygon points="-55.8,192.4 -46.4,187.6 -47.0,183.2 -40.4,179.0 -38.6,179.4 -32.0,196.6 -45.2,204.4 -44.6,206.8 -49.6,210.0 -56.6,197.6" fill="#808080"/><polygon points="-21.8,176.4 -12.4,171.6 -13.0,167.2 -6.4,163.0 -4.6,163.4 2.0,180.6 -11.2,188.4 -10.6,190.8 -15.6,194.0 -22.6,181.6" fill="#808080"/><polygon points="-55.8,192.4 -46.4,187.6 -12.4,171.6 -21.8,176.4" fill="#808080"/><polygon points="-46.4,187.6 -47.0,183.2 -13.0,167.2 -12.4,171.6" fill="#808080"/><polygon points="-47.0,183.2 -40.4,179.0 -6.4,163.0 -13.0,167.2" fill="#808080"/><polygon points="-40.4,179.0 -38.6,179.4 -4.6,163.4 -6.4,163.0" fill="#808080"/><polygon points="-38.6,179.4 -32.0,196.6 2.0,180.6 -4.6,163.4" fill="#808080"/><polygon points="-32.0,196.6 -45.2,204.4 -11.2,188.4 2.0,180.6" fill="#808080"/><polygon points="-45.2,204.4 -44.6,206.8 -10.6,190.8 -11.2,188.4" fill="#808080"/><polygon points="-44.6,206.8 -49.6,210.0 -15.6,194.0 -10.6,190.8" fill="#808080"/><polygon points="-49.6,210.0 -56.6,197.6 -22.6,181.6 -15.6,194.0" fill="#808080"/><polygon points="-56.6,197.6 -55.8,192.4 -21.8,176.4 -22.6,181.6" fill="#808080"/><polygon points="-19.4,188.2 -7.4,181.0 -0.2,193.4 6.4,191.0 11.8,200.6 -4.6,210.0 -8.6,202.6 -11.0,203.4" fill="#808080"/><polygon points="14.6,172.2 26.6,165.0 33.8,177.4 40.4,175.0 45.8,184.6 29.4,194.0 25.4,186.6 23.0,187.4" fill="#808080"/><polygon points="-19.4,188.2 -7.4,181.0 26.6,165.0 14.6,172.2" fill="#808080"/><polygon points="-7.4,181.0 -0.2,193.4 33.8,177.4 26.6,165.0" fill="#808080"/><polygon points="-0.2,193.4 6.4,191.0 40.4,175.0 33.8,177.4" fill="#808080"/><polygon points="6.4,191.0 11.8,200.6 45.8,184.6 40.4,175.0" fill="#808080"/><polygon points="11.8,200.6 -4.6,210.0 29.4,194.0 45.8,184.6" fill="#808080"/><polygon points="-4.6,210.0 -8.6,202.6 25.4,186.6 29.4,194.0" fill="#808080"/><polygon points="-8.6,202.6 -11.0,203.4 23.0,187.4 25.4,186.6" fill="#808080"/><polygon points="-11.0,203.4 -19.4,188.2 14.6,172.2 23.0,187.4" fill="#808080"/><polygon points="13.4,177.0 20.6,173.8 29.2,194.0 26.4,195.6 29.4,201.4 21.0,206.6 18.8,203.0 13.8,205.8 7.8,192.2 18.4,188.0" fill="#808080"/><polygon points="47.4,161.0 54.6,157.8 63.2,178.0 60.4,179.6 63.4,185.4 55.0,190.6 52.8,187.0 47.8,189.8 41.8,176.2 52.4,172.0" fill="#808080"/><polygon points="13.4,177.0 20.6,173.8 54.6,157.8 47.4,161.0" fill="#808080"/><polygon points="20.6,173.8 29.2,194.0 63.2,178.0 54.6,157.8" fill="#808080"/><polygon points="29.2,194.0 26.4,195.6 60.4,179.6 63.2,178.0" fill="#808080"/><polygon points="26.4,195.6 29.4,201.4 63.4,185.4 60.4,179.6" fill="#808080"/><polygon points="29.4,201.4 21.0,206.6 55.0,190.6 63.4,185.4" fill="#808080"/><polygon points="21.0,206.6 18.8,203.0 52.8,187.0 55.0,190.6" fill="#808080"/><polygon points="18.8,203.0 13.8,205.8 47.8,189.8 52.8,187.0" fill="#808080"/><polygon points="13.8,205.8 7.8,192.2 41.8,176.2 47.8,189.8" fill="#808080"/><polygon points="7.8,192.2 18.4,188.0 52.4,172.0 41.8,176.2" fill="#808080"/><polygon points="18.4,188.0 13.4,177.0 47.4,161.0 52.4,172.0" fill="#808080"/><polygon points="-44.4,250.9 -36.0,245.7 -22.9,266.3 -19.2,272.3 -25.7,275.1 -38.8,265.3" fill="#808080"/><polygon points="-16.4,239.9 -8.0,234.7 5.1,255.3 8.8,261.3 2.3,264.1 -10.8,254.3" fill="#808080"/><polygon points="-44.4,250.9 -36.0,245.7 -8.0,234.7 -16.4,239.9" fill="#808080"/><polygon points="-36.0,245.7 -22.9,266.3 5.1,255.3 -8.0,234.7" fill="#808080"/><polygon points="-22.9,266.3 -19.2,272.3 8.8,261.3 5.1,255.3" fill="#808080"/><polygon points="-19.2,272.3 -25.7,275.1 2.3,264.1 8.8,261.3" fill="#808080"/><polygon points="-25.7,275.1 -38.8,265.3 -10.8,254.3 2.3,264.1" fill="#808080"/><polygon points="-38.8,265.3 -44.4,250.9 -16.4,239.9 -10.8,254.3" fill="#808080"/><polygon points="-18.7,249.0 -11.3,244.8 -1.9,264.4 -5.2,266.3 -1.5,274.2 -8.9,277.3 -10.6,274.7 -17.8,278.4 -22.5,266.7 -13.1,261.6" fill="#808080"/><polygon points="9.3,238.0 16.7,233.8 26.1,253.4 22.8,255.3 26.5,263.2 19.1,266.3 17.4,263.7 10.2,267.4 5.5,255.7 14.9,250.6" fill="#808080"/><polygon points="-18.7,249.0 -11.3,244.8 16.7,233.8 9.3,238.0" fill="#808080"/><polygon points="-11.3,244.8 -1.9,264.4 26.1,253.4 16.7,233.8" fill="#808080"/><polygon points="-1.9,264.4 -5.2,266.3 22.8,255.3 26.1,253.4" fill="#808080"/><polygon points="-5.2,266.3 -1.5,274.2 26.5,263.2 22.8,255.3" fill="#808080"/><polygon points="-1.5,274.2 -8.9,277.3 19.1,266.3 26.5,263.2" fill="#808080"/><polygon points="-8.9,277.3 -10.6,274.7 17.4,263.7 19.1,266.3" fill="#808080"/><polygon points="-10.6,274.7 -17.8,278.4 10.2,267.4 17.4,263.7" fill="#808080"/><polygon points="-17.8,278.4 -22.5,266.7 5.5,255.7 10.2,267.4" fill="#808080"/><polygon points="-22.5,266.7 -13.1,261.6 14.9,250.6 5.5,255.7" fill="#808080"/><polygon points="-13.1,261.6 -18.7,249.0 9.3,238.0 14.9,250.6" fill="#808080"/><polygon points="13.0,262.5 23.6,256.9 26.1,260.0 35.7,253.4 41.5,263.6 46.6,271.4 36.8,272.8 27.5,278.6 23.3,272.6 19.1,274.2" fill="#808080"/><polygon points="46.0,249.8 56.5,244.2 59.1,247.3 68.7,240.7 74.5,250.9 79.6,258.7 69.8,260.1 60.5,265.9 56.3,259.9 52.1,261.5" fill="#808080"/><polygon points="13.0,262.5 23.6,256.9 56.5,244.2 46.0,249.8" fill="#808080"/><polygon points="23.6,256.9 26.1,260.0 59.1,247.3 56.5,244.2" fill="#808080"/><polygon points="26.1,260.0 35.7,253.4 68.7,240.7 59.1,247.3" fill="#808080"/><polygon points="35.7,253.4 41.5,263.6 74.5,250.9 68.7,240.7" fill="#808080"/><polygon points="41.5,263.6 46.6,271.4 79.6,258.7 74.5,250.9" fill="#808080"/><polygon points="46.6,271.4 36.8,272.8 69.8,260.1 79.6,258.7" fill="#808080"/><polygon points="36.8,272.8 27.5,278.6 60.5,265.9 69.8,260.1" fill="#808080"/><polygon points="27.5,278.6 23.3,272.6 56.3,259.9 60.5,265.9" fill="#808080"/><polygon points="23.3,272.6 19.1,274.2 52.1,261.5 56.3,259.9" fill="#808080"/><polygon points="19.1,274.2 13.0,262.5 46.0,249.8 52.1,261.5" fill="#808080"/><polygon points="41.5,263.6 46.6,259.7 50.8,259.0 49.9,253.9 60.6,249.9 67.6,264.4 63.9,266.3 65.7,270.9 50.3,279.1" fill="#808080"/><polygon points="74.5,250.9 79.6,247.0 83.8,246.3 82.9,241.2 93.6,237.2 100.6,251.7 96.9,253.6 98.7,258.2 83.3,266.4" fill="#808080"/><polygon points="41.5,263.6 46.6,259.7 79.6,247.0 74.5,250.9" fill="#808080"/><polygon points="46.6,259.7 50.8,259.0 83.8,246.3 79.6,247.0" fill="#808080"/><polygon points="50.8,259.0 49.9,253.9 82.9,241.2 83.8,246.3" fill="#808080"/><polygon points="49.9,253.9 60.6,249.9 93.6,237.2 82.9,241.2" fill="#808080"/><polygon points="60.6,249.9 67.6,264.4 100.6,251.7 93.6,237.2" fill="#808080"/><polygon points="67.6,264.4 63.9,266.3 96.9,253.6 100.6,251.7" fill="#808080"/><polygon points="63.9,266.3 65.7,270.9 98.7,258.2 96.9,253.6" fill="#808080"/><polygon points="65.7,270.9 50.3,279.1 83.3,266.4 98.7,258.2" fill="#808080"/><polygon points="50.3,279.1 41.5,263.6 74.5,250.9 83.3,266.4" fill="#808080"/><polygon points="-113.1,187.8 -109.3,178.9 -100.4,177.7 -96.6,159.9 -100.4,157.4 -73.8,147.3 -65.0,148.6 -67.5,170.1 -84.0,177.7" fill="#808080"/><polygon points="40.7,157.9 55.5,157.9 55.5,153.9 67.1,153.9 67.1,203.5 49.1,203.5 49.1,201.3 46.3,201.3 46.3,178.7 41.1,178.7" fill="#808080"/><polygon points="97.7,131.4 112.5,131.4 112.5,127.4 124.1,127.4 124.1,177.0 106.1,177.0 106.1,174.8 103.3,174.8 103.3,152.2 98.1,152.2" fill="#808080"/><polygon points="40.7,157.9 55.5,157.9 112.5,131.4 97.7,131.4" fill="#808080"/><polygon points="55.5,157.9 55.5,153.9 112.5,127.4 112.5,131.4" fill="#808080"/><polygon points="55.5,153.9 67.1,153.9 124.1,127.4 112.5,127.4" fill="#808080"/><polygon points="67.1,153.9 67.1,203.5 124.1,177.0 124.1,127.4" fill="#808080"/><polygon points="67.1,203.5 49.1,203.5 106.1,177.0 124.1,177.0" fill="#808080"/><polygon points="49.1,203.5 49.1,201.3 106.1,174.8 106.1,177.0" fill="#808080"/><polygon points="49.1,201.3 46.3,201.3 103.3,174.8 106.1,174.8" fill="#808080"/><polygon points="46.3,201.3 46.3,178.7 103.3,152.2 103.3,174.8" fill="#808080"/><polygon points="46.3,178.7 41.1,178.7 98.1,152.2 103.3,152.2" fill="#808080"/><polygon points="41.1,178.7 40.7,157.9 97.7,131.4 98.1,152.2" fill="#808080"/>
<use href="#bld"/>

<use href="#lines"/>
<use href="#tower"/>
<polygon points="40.7,157.9 55.5,157.9 55.5,153.9 67.1,153.9 67.1,203.5 49.1,203.5 49.1,201.3 46.3,201.3 46.3,178.7 41.1,178.7" fill="#fb9a6b" stroke="#70341a" stroke-width="0.8"/><polyline points="43.9,158.5 43.9,178.3 48.7,178.7 48.7,201.5" fill="none" stroke="#70341a" stroke-width="0.5"/><polyline points="43.9,158.7 55.9,158.7 55.9,154.3" fill="none" stroke="#70341a" stroke-width="0.5"/>
</g>
<polygon points="0.0,0.0 218.0,143.0 83.3,347.0 -133.4,205.7" fill="none" stroke="rgba(0,0,0,0.52)" stroke-width="1" shape-rendering="crispEdges"/>
</g>
<g transform="translate(241.3,956.3)">
<g clip-path="url(#site)">
<polygon points="-9.4,55.8 -23.4,153.3 -17.0,160.9 -17.0,172.3 -5.6,178.7 0.7,179.9 10.8,164.8 10.8,158.4 17.2,153.3 36.2,50.7 13.4,59.6" fill="#808080"/><polygon points="123.6,266.1 138.3,266.1 120.3,293.2 120.3,269.9" fill="#808080"/><polygon points="-81.4,192.2 -71.2,186.6 -71.8,183.4 -64.6,178.8 -62.4,178.8 -55.8,192.4 -56.6,197.6 -68.6,203.6 -68.0,205.6 -72.6,209.0" fill="#808080"/><polygon points="-83.9,207.2 -73.7,201.6 -74.3,198.4 -67.1,193.8 -64.9,193.8 -58.3,207.4 -59.1,212.6 -71.1,218.6 -70.5,220.6 -75.1,224.0" fill="#808080"/><polygon points="-81.4,192.2 -71.2,186.6 -73.7,201.6 -83.9,207.2" fill="#808080"/><polygon points="-71.2,186.6 -71.8,183.4 -74.3,198.4 -73.7,201.6" fill="#808080"/><polygon points="-71.8,183.4 -64.6,178.8 -67.1,193.8 -74.3,198.4" fill="#808080"/><polygon points="-64.6,178.8 -62.4,178.8 -64.9,193.8 -67.1,193.8" fill="#808080"/><polygon points="-62.4,178.8 -55.8,192.4 -58.3,207.4 -64.9,193.8" fill="#808080"/><polygon points="-55.8,192.4 -56.6,197.6 -59.1,212.6 -58.3,207.4" fill="#808080"/><polygon points="-56.6,197.6 -68.6,203.6 -71.1,218.6 -59.1,212.6" fill="#808080"/><polygon points="-68.6,203.6 -68.0,205.6 -70.5,220.6 -71.1,218.6" fill="#808080"/><polygon points="-68.0,205.6 -72.6,209.0 -75.1,224.0 -70.5,220.6" fill="#808080"/><polygon points="-72.6,209.0 -81.4,192.2 -83.9,207.2 -75.1,224.0" fill="#808080"/><polygon points="-55.8,192.4 -46.4,187.6 -47.0,183.2 -40.4,179.0 -38.6,179.4 -32.0,196.6 -45.2,204.4 -44.6,206.8 -49.6,210.0 -56.6,197.6" fill="#808080"/><polygon points="-58.3,207.4 -48.9,202.6 -49.5,198.2 -42.9,194.0 -41.1,194.4 -34.5,211.6 -47.7,219.4 -47.1,221.8 -52.1,225.0 -59.1,212.6" fill="#808080"/><polygon points="-55.8,192.4 -46.4,187.6 -48.9,202.6 -58.3,207.4" fill="#808080"/><polygon points="-46.4,187.6 -47.0,183.2 -49.5,198.2 -48.9,202.6" fill="#808080"/><polygon points="-47.0,183.2 -40.4,179.0 -42.9,194.0 -49.5,198.2" fill="#808080"/><polygon points="-40.4,179.0 -38.6,179.4 -41.1,194.4 -42.9,194.0" fill="#808080"/><polygon points="-38.6,179.4 -32.0,196.6 -34.5,211.6 -41.1,194.4" fill="#808080"/><polygon points="-32.0,196.6 -45.2,204.4 -47.7,219.4 -34.5,211.6" fill="#808080"/><polygon points="-45.2,204.4 -44.6,206.8 -47.1,221.8 -47.7,219.4" fill="#808080"/><polygon points="-44.6,206.8 -49.6,210.0 -52.1,225.0 -47.1,221.8" fill="#808080"/><polygon points="-49.6,210.0 -56.6,197.6 -59.1,212.6 -52.1,225.0" fill="#808080"/><polygon points="-56.6,197.6 -55.8,192.4 -58.3,207.4 -59.1,212.6" fill="#808080"/><polygon points="-19.4,188.2 -7.4,181.0 -0.2,193.4 6.4,191.0 11.8,200.6 -4.6,210.0 -8.6,202.6 -11.0,203.4" fill="#808080"/><polygon points="-21.9,203.2 -9.9,196.0 -2.7,208.4 3.9,206.0 9.3,215.6 -7.1,225.0 -11.1,217.6 -13.5,218.4" fill="#808080"/><polygon points="-19.4,188.2 -7.4,181.0 -9.9,196.0 -21.9,203.2" fill="#808080"/><polygon points="-7.4,181.0 -0.2,193.4 -2.7,208.4 -9.9,196.0" fill="#808080"/><polygon points="-0.2,193.4 6.4,191.0 3.9,206.0 -2.7,208.4" fill="#808080"/><polygon points="6.4,191.0 11.8,200.6 9.3,215.6 3.9,206.0" fill="#808080"/><polygon points="11.8,200.6 -4.6,210.0 -7.1,225.0 9.3,215.6" fill="#808080"/><polygon points="-4.6,210.0 -8.6,202.6 -11.1,217.6 -7.1,225.0" fill="#808080"/><polygon points="-8.6,202.6 -11.0,203.4 -13.5,218.4 -11.1,217.6" fill="#808080"/><polygon points="-11.0,203.4 -19.4,188.2 -21.9,203.2 -13.5,218.4" fill="#808080"/><polygon points="13.4,177.0 20.6,173.8 29.2,194.0 26.4,195.6 29.4,201.4 21.0,206.6 18.8,203.0 13.8,205.8 7.8,192.2 18.4,188.0" fill="#808080"/><polygon points="10.9,192.0 18.1,188.8 26.7,209.0 23.9,210.6 26.9,216.4 18.5,221.6 16.3,218.0 11.3,220.8 5.3,207.2 15.9,203.0" fill="#808080"/><polygon points="13.4,177.0 20.6,173.8 18.1,188.8 10.9,192.0" fill="#808080"/><polygon points="20.6,173.8 29.2,194.0 26.7,209.0 18.1,188.8" fill="#808080"/><polygon points="29.2,194.0 26.4,195.6 23.9,210.6 26.7,209.0" fill="#808080"/><polygon points="26.4,195.6 29.4,201.4 26.9,216.4 23.9,210.6" fill="#808080"/><polygon points="29.4,201.4 21.0,206.6 18.5,221.6 26.9,216.4" fill="#808080"/><polygon points="21.0,206.6 18.8,203.0 16.3,218.0 18.5,221.6" fill="#808080"/><polygon points="18.8,203.0 13.8,205.8 11.3,220.8 16.3,218.0" fill="#808080"/><polygon points="13.8,205.8 7.8,192.2 5.3,207.2 11.3,220.8" fill="#808080"/><polygon points="7.8,192.2 18.4,188.0 15.9,203.0 5.3,207.2" fill="#808080"/><polygon points="18.4,188.0 13.4,177.0 10.9,192.0 15.9,203.0" fill="#808080"/><polygon points="-44.4,250.9 -36.0,245.7 -22.9,266.3 -19.2,272.3 -25.7,275.1 -38.8,265.3" fill="#808080"/><polygon points="-46.9,265.9 -38.5,260.7 -25.4,281.3 -21.7,287.3 -28.2,290.1 -41.3,280.3" fill="#808080"/><polygon points="-44.4,250.9 -36.0,245.7 -38.5,260.7 -46.9,265.9" fill="#808080"/><polygon points="-36.0,245.7 -22.9,266.3 -25.4,281.3 -38.5,260.7" fill="#808080"/><polygon points="-22.9,266.3 -19.2,272.3 -21.7,287.3 -25.4,281.3" fill="#808080"/><polygon points="-19.2,272.3 -25.7,275.1 -28.2,290.1 -21.7,287.3" fill="#808080"/><polygon points="-25.7,275.1 -38.8,265.3 -41.3,280.3 -28.2,290.1" fill="#808080"/><polygon points="-38.8,265.3 -44.4,250.9 -46.9,265.9 -41.3,280.3" fill="#808080"/><polygon points="-18.7,249.0 -11.3,244.8 -1.9,264.4 -5.2,266.3 -1.5,274.2 -8.9,277.3 -10.6,274.7 -17.8,278.4 -22.5,266.7 -13.1,261.6" fill="#808080"/><polygon points="-21.2,264.0 -13.8,259.8 -4.4,279.4 -7.7,281.3 -4.0,289.2 -11.4,292.3 -13.1,289.7 -20.3,293.4 -25.0,281.7 -15.6,276.6" fill="#808080"/><polygon points="-18.7,249.0 -11.3,244.8 -13.8,259.8 -21.2,264.0" fill="#808080"/><polygon points="-11.3,244.8 -1.9,264.4 -4.4,279.4 -13.8,259.8" fill="#808080"/><polygon points="-1.9,264.4 -5.2,266.3 -7.7,281.3 -4.4,279.4" fill="#808080"/><polygon points="-5.2,266.3 -1.5,274.2 -4.0,289.2 -7.7,281.3" fill="#808080"/><polygon points="-1.5,274.2 -8.9,277.3 -11.4,292.3 -4.0,289.2" fill="#808080"/><polygon points="-8.9,277.3 -10.6,274.7 -13.1,289.7 -11.4,292.3" fill="#808080"/><polygon points="-10.6,274.7 -17.8,278.4 -20.3,293.4 -13.1,289.7" fill="#808080"/><polygon points="-17.8,278.4 -22.5,266.7 -25.0,281.7 -20.3,293.4" fill="#808080"/><polygon points="-22.5,266.7 -13.1,261.6 -15.6,276.6 -25.0,281.7" fill="#808080"/><polygon points="-13.1,261.6 -18.7,249.0 -21.2,264.0 -15.6,276.6" fill="#808080"/><polygon points="13.0,262.5 23.6,256.9 26.1,260.0 35.7,253.4 41.5,263.6 46.6,271.4 36.8,272.8 27.5,278.6 23.3,272.6 19.1,274.2" fill="#808080"/><polygon points="10.5,280.0 21.1,274.4 23.6,277.5 33.2,270.9 39.0,281.1 44.1,288.9 34.3,290.3 25.0,296.1 20.8,290.1 16.6,291.7" fill="#808080"/><polygon points="13.0,262.5 23.6,256.9 21.1,274.4 10.5,280.0" fill="#808080"/><polygon points="23.6,256.9 26.1,260.0 23.6,277.5 21.1,274.4" fill="#808080"/><polygon points="26.1,260.0 35.7,253.4 33.2,270.9 23.6,277.5" fill="#808080"/><polygon points="35.7,253.4 41.5,263.6 39.0,281.1 33.2,270.9" fill="#808080"/><polygon points="41.5,263.6 46.6,271.4 44.1,288.9 39.0,281.1" fill="#808080"/><polygon points="46.6,271.4 36.8,272.8 34.3,290.3 44.1,288.9" fill="#808080"/><polygon points="36.8,272.8 27.5,278.6 25.0,296.1 34.3,290.3" fill="#808080"/><polygon points="27.5,278.6 23.3,272.6 20.8,290.1 25.0,296.1" fill="#808080"/><polygon points="23.3,272.6 19.1,274.2 16.6,291.7 20.8,290.1" fill="#808080"/><polygon points="19.1,274.2 13.0,262.5 10.5,280.0 16.6,291.7" fill="#808080"/><polygon points="41.5,263.6 46.6,259.7 50.8,259.0 49.9,253.9 60.6,249.9 67.6,264.4 63.9,266.3 65.7,270.9 50.3,279.1" fill="#808080"/><polygon points="39.0,281.1 44.1,277.2 48.3,276.5 47.4,271.4 58.1,267.4 65.1,281.9 61.4,283.8 63.2,288.4 47.8,296.6" fill="#808080"/><polygon points="41.5,263.6 46.6,259.7 44.1,277.2 39.0,281.1" fill="#808080"/><polygon points="46.6,259.7 50.8,259.0 48.3,276.5 44.1,277.2" fill="#808080"/><polygon points="50.8,259.0 49.9,253.9 47.4,271.4 48.3,276.5" fill="#808080"/><polygon points="49.9,253.9 60.6,249.9 58.1,267.4 47.4,271.4" fill="#808080"/><polygon points="60.6,249.9 67.6,264.4 65.1,281.9 58.1,267.4" fill="#808080"/><polygon points="67.6,264.4 63.9,266.3 61.4,283.8 65.1,281.9" fill="#808080"/><polygon points="63.9,266.3 65.7,270.9 63.2,288.4 61.4,283.8" fill="#808080"/><polygon points="65.7,270.9 50.3,279.1 47.8,296.6 63.2,288.4" fill="#808080"/><polygon points="50.3,279.1 41.5,263.6 39.0,281.1 47.8,296.6" fill="#808080"/><polygon points="-101.8,159.8 -96.0,162.0 -99.8,180.4 -103.8,179.6 -104.2,180.6 -111.4,178.8 -114.6,190.2 -121.0,188.6" fill="#808080"/><polygon points="-103.8,172.8 -98.0,175.0 -101.8,193.4 -105.8,192.6 -106.2,193.6 -113.4,191.8 -116.6,203.2 -123.0,201.6" fill="#808080"/><polygon points="-101.8,159.8 -96.0,162.0 -98.0,175.0 -103.8,172.8" fill="#808080"/><polygon points="-96.0,162.0 -99.8,180.4 -101.8,193.4 -98.0,175.0" fill="#808080"/><polygon points="-99.8,180.4 -103.8,179.6 -105.8,192.6 -101.8,193.4" fill="#808080"/><polygon points="-103.8,179.6 -104.2,180.6 -106.2,193.6 -105.8,192.6" fill="#808080"/><polygon points="-104.2,180.6 -111.4,178.8 -113.4,191.8 -106.2,193.6" fill="#808080"/><polygon points="-111.4,178.8 -114.6,190.2 -116.6,203.2 -113.4,191.8" fill="#808080"/><polygon points="-114.6,190.2 -121.0,188.6 -123.0,201.6 -116.6,203.2" fill="#808080"/><polygon points="-121.0,188.6 -101.8,159.8 -103.8,172.8 -123.0,201.6" fill="#808080"/><polygon points="39.6,160.2 70.0,160.2 70.0,204.2 46.6,204.2 46.6,191.8 42.2,190.2 42.2,178.8 39.6,178.6" fill="#808080"/><polygon points="37.6,173.2 68.0,173.2 68.0,217.2 44.6,217.2 44.6,204.8 40.2,203.2 40.2,191.8 37.6,191.6" fill="#808080"/><polygon points="39.6,160.2 70.0,160.2 68.0,173.2 37.6,173.2" fill="#808080"/><polygon points="70.0,160.2 70.0,204.2 68.0,217.2 68.0,173.2" fill="#808080"/><polygon points="70.0,204.2 46.6,204.2 44.6,217.2 68.0,217.2" fill="#808080"/><polygon points="46.6,204.2 46.6,191.8 44.6,204.8 44.6,217.2" fill="#808080"/><polygon points="46.6,191.8 42.2,190.2 40.2,203.2 44.6,204.8" fill="#808080"/><polygon points="42.2,190.2 42.2,178.8 40.2,191.8 40.2,203.2" fill="#808080"/><polygon points="42.2,178.8 39.6,178.6 37.6,191.6 40.2,191.8" fill="#808080"/><polygon points="39.6,178.6 39.6,160.2 37.6,173.2 37.6,191.6" fill="#808080"/>
<use href="#bld"/>
<polygon points="151.5,169.8 164.1,169.8 164.1,172.3 173.8,172.3 171.7,191.3 164.1,183.8 162.9,182.5 151.5,182.5" fill="#808080"/>
<use href="#lines"/>
<use href="#tower"/>
<polygon points="39.6,160.2 70.0,160.2 70.0,204.2 46.6,204.2 46.6,191.8 42.2,190.2 42.2,178.8 39.6,178.6" fill="#fb9a6b" stroke="#70341a" stroke-width="0.8"/>
</g>
<polygon points="0.0,0.0 218.0,143.0 83.3,347.0 -133.4,205.7" fill="none" stroke="rgba(0,0,0,0.52)" stroke-width="1" shape-rendering="crispEdges"/>
</g>
<g transform="translate(650.7,956.3)">
<g clip-path="url(#site)">
<polygon points="32.9,39.6 59.3,50.6 86.4,60.9 95.2,68.6 94.8,70.0 98.1,72.2 91.5,83.2 87.1,81.4 81.6,90.9 84.2,93.1 77.6,103.4 73.6,102.7 60.7,97.9 50.5,93.5 46.1,93.1 16.0,78.5 20.4,57.9" fill="#808080"/><polygon points="174.5,154.5 187.1,158.7 187.1,178.3 171.7,176.4 165.6,173.1 174.5,172.7" fill="#808080"/><polygon points="150.7,169.9 165.1,169.9 165.1,173.1 157.2,173.6 157.2,236.6 153.5,241.3 149.7,239.9" fill="#808080"/><polygon points="124.5,266.0 138.1,266.0 134.8,270.7" fill="#808080"/><polygon points="-81.4,192.2 -71.2,186.6 -71.8,183.4 -64.6,178.8 -62.4,178.8 -55.8,192.4 -56.6,197.6 -68.6,203.6 -68.0,205.6 -72.6,209.0" fill="#808080"/><polygon points="-73.4,195.2 -63.2,189.6 -63.8,186.4 -56.6,181.8 -54.4,181.8 -47.8,195.4 -48.6,200.6 -60.6,206.6 -60.0,208.6 -64.6,212.0" fill="#808080"/><polygon points="-81.4,192.2 -71.2,186.6 -63.2,189.6 -73.4,195.2" fill="#808080"/><polygon points="-71.2,186.6 -71.8,183.4 -63.8,186.4 -63.2,189.6" fill="#808080"/><polygon points="-71.8,183.4 -64.6,178.8 -56.6,181.8 -63.8,186.4" fill="#808080"/><polygon points="-64.6,178.8 -62.4,178.8 -54.4,181.8 -56.6,181.8" fill="#808080"/><polygon points="-62.4,178.8 -55.8,192.4 -47.8,195.4 -54.4,181.8" fill="#808080"/><polygon points="-55.8,192.4 -56.6,197.6 -48.6,200.6 -47.8,195.4" fill="#808080"/><polygon points="-56.6,197.6 -68.6,203.6 -60.6,206.6 -48.6,200.6" fill="#808080"/><polygon points="-68.6,203.6 -68.0,205.6 -60.0,208.6 -60.6,206.6" fill="#808080"/><polygon points="-68.0,205.6 -72.6,209.0 -64.6,212.0 -60.0,208.6" fill="#808080"/><polygon points="-72.6,209.0 -81.4,192.2 -73.4,195.2 -64.6,212.0" fill="#808080"/><polygon points="-55.8,192.4 -46.4,187.6 -47.0,183.2 -40.4,179.0 -38.6,179.4 -32.0,196.6 -45.2,204.4 -44.6,206.8 -49.6,210.0 -56.6,197.6" fill="#808080"/><polygon points="-47.8,195.4 -38.4,190.6 -39.0,186.2 -32.4,182.0 -30.6,182.4 -24.0,199.6 -37.2,207.4 -36.6,209.8 -41.6,213.0 -48.6,200.6" fill="#808080"/><polygon points="-55.8,192.4 -46.4,187.6 -38.4,190.6 -47.8,195.4" fill="#808080"/><polygon points="-46.4,187.6 -47.0,183.2 -39.0,186.2 -38.4,190.6" fill="#808080"/><polygon points="-47.0,183.2 -40.4,179.0 -32.4,182.0 -39.0,186.2" fill="#808080"/><polygon points="-40.4,179.0 -38.6,179.4 -30.6,182.4 -32.4,182.0" fill="#808080"/><polygon points="-38.6,179.4 -32.0,196.6 -24.0,199.6 -30.6,182.4" fill="#808080"/><polygon points="-32.0,196.6 -45.2,204.4 -37.2,207.4 -24.0,199.6" fill="#808080"/><polygon points="-45.2,204.4 -44.6,206.8 -36.6,209.8 -37.2,207.4" fill="#808080"/><polygon points="-44.6,206.8 -49.6,210.0 -41.6,213.0 -36.6,209.8" fill="#808080"/><polygon points="-49.6,210.0 -56.6,197.6 -48.6,200.6 -41.6,213.0" fill="#808080"/><polygon points="-56.6,197.6 -55.8,192.4 -47.8,195.4 -48.6,200.6" fill="#808080"/><polygon points="-19.4,188.2 -7.4,181.0 -0.2,193.4 6.4,191.0 11.8,200.6 -4.6,210.0 -8.6,202.6 -11.0,203.4" fill="#808080"/><polygon points="-11.4,191.2 0.6,184.0 7.8,196.4 14.4,194.0 19.8,203.6 3.4,213.0 -0.6,205.6 -3.0,206.4" fill="#808080"/><polygon points="-19.4,188.2 -7.4,181.0 0.6,184.0 -11.4,191.2" fill="#808080"/><polygon points="-7.4,181.0 -0.2,193.4 7.8,196.4 0.6,184.0" fill="#808080"/><polygon points="-0.2,193.4 6.4,191.0 14.4,194.0 7.8,196.4" fill="#808080"/><polygon points="6.4,191.0 11.8,200.6 19.8,203.6 14.4,194.0" fill="#808080"/><polygon points="11.8,200.6 -4.6,210.0 3.4,213.0 19.8,203.6" fill="#808080"/><polygon points="-4.6,210.0 -8.6,202.6 -0.6,205.6 3.4,213.0" fill="#808080"/><polygon points="-8.6,202.6 -11.0,203.4 -3.0,206.4 -0.6,205.6" fill="#808080"/><polygon points="-11.0,203.4 -19.4,188.2 -11.4,191.2 -3.0,206.4" fill="#808080"/><polygon points="13.4,177.0 20.6,173.8 29.2,194.0 26.4,195.6 29.4,201.4 21.0,206.6 18.8,203.0 13.8,205.8 7.8,192.2 18.4,188.0" fill="#808080"/><polygon points="21.4,180.0 28.6,176.8 37.2,197.0 34.4,198.6 37.4,204.4 29.0,209.6 26.8,206.0 21.8,208.8 15.8,195.2 26.4,191.0" fill="#808080"/><polygon points="13.4,177.0 20.6,173.8 28.6,176.8 21.4,180.0" fill="#808080"/><polygon points="20.6,173.8 29.2,194.0 37.2,197.0 28.6,176.8" fill="#808080"/><polygon points="29.2,194.0 26.4,195.6 34.4,198.6 37.2,197.0" fill="#808080"/><polygon points="26.4,195.6 29.4,201.4 37.4,204.4 34.4,198.6" fill="#808080"/><polygon points="29.4,201.4 21.0,206.6 29.0,209.6 37.4,204.4" fill="#808080"/><polygon points="21.0,206.6 18.8,203.0 26.8,206.0 29.0,209.6" fill="#808080"/><polygon points="18.8,203.0 13.8,205.8 21.8,208.8 26.8,206.0" fill="#808080"/><polygon points="13.8,205.8 7.8,192.2 15.8,195.2 21.8,208.8" fill="#808080"/><polygon points="7.8,192.2 18.4,188.0 26.4,191.0 15.8,195.2" fill="#808080"/><polygon points="18.4,188.0 13.4,177.0 21.4,180.0 26.4,191.0" fill="#808080"/><polygon points="-44.4,250.9 -36.0,245.7 -22.9,266.3 -19.2,272.3 -25.7,275.1 -38.8,265.3" fill="#808080"/><polygon points="-36.4,253.9 -28.0,248.7 -14.9,269.3 -11.2,275.3 -17.7,278.1 -30.8,268.3" fill="#808080"/><polygon points="-44.4,250.9 -36.0,245.7 -28.0,248.7 -36.4,253.9" fill="#808080"/><polygon points="-36.0,245.7 -22.9,266.3 -14.9,269.3 -28.0,248.7" fill="#808080"/><polygon points="-22.9,266.3 -19.2,272.3 -11.2,275.3 -14.9,269.3" fill="#808080"/><polygon points="-19.2,272.3 -25.7,275.1 -17.7,278.1 -11.2,275.3" fill="#808080"/><polygon points="-25.7,275.1 -38.8,265.3 -30.8,268.3 -17.7,278.1" fill="#808080"/><polygon points="-38.8,265.3 -44.4,250.9 -36.4,253.9 -30.8,268.3" fill="#808080"/><polygon points="-18.7,249.0 -11.3,244.8 -1.9,264.4 -5.2,266.3 -1.5,274.2 -8.9,277.3 -10.6,274.7 -17.8,278.4 -22.5,266.7 -13.1,261.6" fill="#808080"/><polygon points="-10.7,252.0 -3.3,247.8 6.1,267.4 2.8,269.3 6.5,277.2 -0.9,280.3 -2.6,277.7 -9.8,281.4 -14.5,269.7 -5.1,264.6" fill="#808080"/><polygon points="-18.7,249.0 -11.3,244.8 -3.3,247.8 -10.7,252.0" fill="#808080"/><polygon points="-11.3,244.8 -1.9,264.4 6.1,267.4 -3.3,247.8" fill="#808080"/><polygon points="-1.9,264.4 -5.2,266.3 2.8,269.3 6.1,267.4" fill="#808080"/><polygon points="-5.2,266.3 -1.5,274.2 6.5,277.2 2.8,269.3" fill="#808080"/><polygon points="-1.5,274.2 -8.9,277.3 -0.9,280.3 6.5,277.2" fill="#808080"/><polygon points="-8.9,277.3 -10.6,274.7 -2.6,277.7 -0.9,280.3" fill="#808080"/><polygon points="-10.6,274.7 -17.8,278.4 -9.8,281.4 -2.6,277.7" fill="#808080"/><polygon points="-17.8,278.4 -22.5,266.7 -14.5,269.7 -9.8,281.4" fill="#808080"/><polygon points="-22.5,266.7 -13.1,261.6 -5.1,264.6 -14.5,269.7" fill="#808080"/><polygon points="-13.1,261.6 -18.7,249.0 -10.7,252.0 -5.1,264.6" fill="#808080"/><polygon points="13.0,262.5 23.6,256.9 26.1,260.0 35.7,253.4 41.5,263.6 46.6,271.4 36.8,272.8 27.5,278.6 23.3,272.6 19.1,274.2" fill="#808080"/><polygon points="21.0,265.5 31.6,259.9 34.1,263.0 43.7,256.4 49.5,266.6 54.6,274.4 44.8,275.8 35.5,281.6 31.3,275.6 27.1,277.2" fill="#808080"/><polygon points="13.0,262.5 23.6,256.9 31.6,259.9 21.0,265.5" fill="#808080"/><polygon points="23.6,256.9 26.1,260.0 34.1,263.0 31.6,259.9" fill="#808080"/><polygon points="26.1,260.0 35.7,253.4 43.7,256.4 34.1,263.0" fill="#808080"/><polygon points="35.7,253.4 41.5,263.6 49.5,266.6 43.7,256.4" fill="#808080"/><polygon points="41.5,263.6 46.6,271.4 54.6,274.4 49.5,266.6" fill="#808080"/><polygon points="46.6,271.4 36.8,272.8 44.8,275.8 54.6,274.4" fill="#808080"/><polygon points="36.8,272.8 27.5,278.6 35.5,281.6 44.8,275.8" fill="#808080"/><polygon points="27.5,278.6 23.3,272.6 31.3,275.6 35.5,281.6" fill="#808080"/><polygon points="23.3,272.6 19.1,274.2 27.1,277.2 31.3,275.6" fill="#808080"/><polygon points="19.1,274.2 13.0,262.5 21.0,265.5 27.1,277.2" fill="#808080"/><polygon points="41.5,263.6 46.6,259.7 50.8,259.0 49.9,253.9 60.6,249.9 67.6,264.4 63.9,266.3 65.7,270.9 50.3,279.1" fill="#808080"/><polygon points="49.5,266.6 54.6,262.7 58.8,262.0 57.9,256.9 68.6,252.9 75.6,267.4 71.9,269.3 73.7,273.9 58.3,282.1" fill="#808080"/><polygon points="41.5,263.6 46.6,259.7 54.6,262.7 49.5,266.6" fill="#808080"/><polygon points="46.6,259.7 50.8,259.0 58.8,262.0 54.6,262.7" fill="#808080"/><polygon points="50.8,259.0 49.9,253.9 57.9,256.9 58.8,262.0" fill="#808080"/><polygon points="49.9,253.9 60.6,249.9 68.6,252.9 57.9,256.9" fill="#808080"/><polygon points="60.6,249.9 67.6,264.4 75.6,267.4 68.6,252.9" fill="#808080"/><polygon points="67.6,264.4 63.9,266.3 71.9,269.3 75.6,267.4" fill="#808080"/><polygon points="63.9,266.3 65.7,270.9 73.7,273.9 71.9,269.3" fill="#808080"/><polygon points="65.7,270.9 50.3,279.1 58.3,282.1 73.7,273.9" fill="#808080"/><polygon points="50.3,279.1 41.5,263.6 49.5,266.6 58.3,282.1" fill="#808080"/><polygon points="-96.0,162.0 -88.6,165.0 -91.8,185.0 -99.8,183.0 -99.8,180.4" fill="#808080"/><polygon points="-111.4,178.8 -103.8,180.6 -106.6,192.6 -114.6,190.2" fill="#808080"/><polygon points="70.0,160.2 75.4,163.0 76.2,206.2 52.6,206.6 46.6,204.2 70.0,204.2" fill="#808080"/>
<use href="#bld"/>

<use href="#lines"/>
<use href="#tower"/>
<polygon points="39.6,160.2 70.0,160.2 70.0,204.2 46.6,204.2 46.6,191.8 42.2,190.2 42.2,178.8 39.6,178.6" fill="#fb9a6b" stroke="#70341a" stroke-width="0.8"/>
</g>
<polygon points="0.0,0.0 218.0,143.0 83.3,347.0 -133.4,205.7" fill="none" stroke="rgba(0,0,0,0.52)" stroke-width="1" shape-rendering="crispEdges"/>
</g>
<g transform="translate(1047.7,956.5)">
<g clip-path="url(#site)">
<polygon points="2.2,36.8 9.8,27.9 27.5,19.6 68.6,45.7 21.2,74.8" fill="#808080"/><polygon points="125.1,153.9 140.3,143.2 193.5,141.9 192.2,162.2 175.7,172.3 175.7,153.9" fill="#808080"/><polygon points="151.7,169.8 161.8,169.8 161.8,230.6 154.2,241.5 151.2,240.8" fill="#808080"/><polygon points="-81.4,192.2 -71.2,186.6 -71.8,183.4 -64.6,178.8 -62.4,178.8 -55.8,192.4 -56.6,197.6 -68.6,203.6 -68.0,205.6 -72.6,209.0" fill="#808080"/><polygon points="-71.9,185.7 -61.7,180.1 -62.3,176.9 -55.1,172.3 -52.9,172.3 -46.3,185.9 -47.1,191.1 -59.1,197.1 -58.5,199.1 -63.1,202.5" fill="#808080"/><polygon points="-81.4,192.2 -71.2,186.6 -61.7,180.1 -71.9,185.7" fill="#808080"/><polygon points="-71.2,186.6 -71.8,183.4 -62.3,176.9 -61.7,180.1" fill="#808080"/><polygon points="-71.8,183.4 -64.6,178.8 -55.1,172.3 -62.3,176.9" fill="#808080"/><polygon points="-64.6,178.8 -62.4,178.8 -52.9,172.3 -55.1,172.3" fill="#808080"/><polygon points="-62.4,178.8 -55.8,192.4 -46.3,185.9 -52.9,172.3" fill="#808080"/><polygon points="-55.8,192.4 -56.6,197.6 -47.1,191.1 -46.3,185.9" fill="#808080"/><polygon points="-56.6,197.6 -68.6,203.6 -59.1,197.1 -47.1,191.1" fill="#808080"/><polygon points="-68.6,203.6 -68.0,205.6 -58.5,199.1 -59.1,197.1" fill="#808080"/><polygon points="-68.0,205.6 -72.6,209.0 -63.1,202.5 -58.5,199.1" fill="#808080"/><polygon points="-72.6,209.0 -81.4,192.2 -71.9,185.7 -63.1,202.5" fill="#808080"/><polygon points="-55.8,192.4 -46.4,187.6 -47.0,183.2 -40.4,179.0 -38.6,179.4 -32.0,196.6 -45.2,204.4 -44.6,206.8 -49.6,210.0 -56.6,197.6" fill="#808080"/><polygon points="-46.3,185.9 -36.9,181.1 -37.5,176.7 -30.9,172.5 -29.1,172.9 -22.5,190.1 -35.7,197.9 -35.1,200.3 -40.1,203.5 -47.1,191.1" fill="#808080"/><polygon points="-55.8,192.4 -46.4,187.6 -36.9,181.1 -46.3,185.9" fill="#808080"/><polygon points="-46.4,187.6 -47.0,183.2 -37.5,176.7 -36.9,181.1" fill="#808080"/><polygon points="-47.0,183.2 -40.4,179.0 -30.9,172.5 -37.5,176.7" fill="#808080"/><polygon points="-40.4,179.0 -38.6,179.4 -29.1,172.9 -30.9,172.5" fill="#808080"/><polygon points="-38.6,179.4 -32.0,196.6 -22.5,190.1 -29.1,172.9" fill="#808080"/><polygon points="-32.0,196.6 -45.2,204.4 -35.7,197.9 -22.5,190.1" fill="#808080"/><polygon points="-45.2,204.4 -44.6,206.8 -35.1,200.3 -35.7,197.9" fill="#808080"/><polygon points="-44.6,206.8 -49.6,210.0 -40.1,203.5 -35.1,200.3" fill="#808080"/><polygon points="-49.6,210.0 -56.6,197.6 -47.1,191.1 -40.1,203.5" fill="#808080"/><polygon points="-56.6,197.6 -55.8,192.4 -46.3,185.9 -47.1,191.1" fill="#808080"/><polygon points="-19.4,188.2 -7.4,181.0 -0.2,193.4 6.4,191.0 11.8,200.6 -4.6,210.0 -8.6,202.6 -11.0,203.4" fill="#808080"/><polygon points="-9.9,181.7 2.1,174.5 9.3,186.9 15.9,184.5 21.3,194.1 4.9,203.5 0.9,196.1 -1.5,196.9" fill="#808080"/><polygon points="-19.4,188.2 -7.4,181.0 2.1,174.5 -9.9,181.7" fill="#808080"/><polygon points="-7.4,181.0 -0.2,193.4 9.3,186.9 2.1,174.5" fill="#808080"/><polygon points="-0.2,193.4 6.4,191.0 15.9,184.5 9.3,186.9" fill="#808080"/><polygon points="6.4,191.0 11.8,200.6 21.3,194.1 15.9,184.5" fill="#808080"/><polygon points="11.8,200.6 -4.6,210.0 4.9,203.5 21.3,194.1" fill="#808080"/><polygon points="-4.6,210.0 -8.6,202.6 0.9,196.1 4.9,203.5" fill="#808080"/><polygon points="-8.6,202.6 -11.0,203.4 -1.5,196.9 0.9,196.1" fill="#808080"/><polygon points="-11.0,203.4 -19.4,188.2 -9.9,181.7 -1.5,196.9" fill="#808080"/><polygon points="13.4,177.0 20.6,173.8 29.2,194.0 26.4,195.6 29.4,201.4 21.0,206.6 18.8,203.0 13.8,205.8 7.8,192.2 18.4,188.0" fill="#808080"/><polygon points="22.9,170.5 30.1,167.3 38.7,187.5 35.9,189.1 38.9,194.9 30.5,200.1 28.3,196.5 23.3,199.3 17.3,185.7 27.9,181.5" fill="#808080"/><polygon points="13.4,177.0 20.6,173.8 30.1,167.3 22.9,170.5" fill="#808080"/><polygon points="20.6,173.8 29.2,194.0 38.7,187.5 30.1,167.3" fill="#808080"/><polygon points="29.2,194.0 26.4,195.6 35.9,189.1 38.7,187.5" fill="#808080"/><polygon points="26.4,195.6 29.4,201.4 38.9,194.9 35.9,189.1" fill="#808080"/><polygon points="29.4,201.4 21.0,206.6 30.5,200.1 38.9,194.9" fill="#808080"/><polygon points="21.0,206.6 18.8,203.0 28.3,196.5 30.5,200.1" fill="#808080"/><polygon points="18.8,203.0 13.8,205.8 23.3,199.3 28.3,196.5" fill="#808080"/><polygon points="13.8,205.8 7.8,192.2 17.3,185.7 23.3,199.3" fill="#808080"/><polygon points="7.8,192.2 18.4,188.0 27.9,181.5 17.3,185.7" fill="#808080"/><polygon points="18.4,188.0 13.4,177.0 22.9,170.5 27.9,181.5" fill="#808080"/><polygon points="-44.4,250.9 -36.0,245.7 -22.9,266.3 -19.2,272.3 -25.7,275.1 -38.8,265.3" fill="#808080"/><polygon points="-34.9,244.4 -26.5,239.2 -13.4,259.8 -9.7,265.8 -16.2,268.6 -29.3,258.8" fill="#808080"/><polygon points="-44.4,250.9 -36.0,245.7 -26.5,239.2 -34.9,244.4" fill="#808080"/><polygon points="-36.0,245.7 -22.9,266.3 -13.4,259.8 -26.5,239.2" fill="#808080"/><polygon points="-22.9,266.3 -19.2,272.3 -9.7,265.8 -13.4,259.8" fill="#808080"/><polygon points="-19.2,272.3 -25.7,275.1 -16.2,268.6 -9.7,265.8" fill="#808080"/><polygon points="-25.7,275.1 -38.8,265.3 -29.3,258.8 -16.2,268.6" fill="#808080"/><polygon points="-38.8,265.3 -44.4,250.9 -34.9,244.4 -29.3,258.8" fill="#808080"/><polygon points="-18.7,249.0 -11.3,244.8 -1.9,264.4 -5.2,266.3 -1.5,274.2 -8.9,277.3 -10.6,274.7 -17.8,278.4 -22.5,266.7 -13.1,261.6" fill="#808080"/><polygon points="-9.2,242.5 -1.8,238.3 7.6,257.9 4.3,259.8 8.0,267.7 0.6,270.8 -1.1,268.2 -8.3,271.9 -13.0,260.2 -3.6,255.1" fill="#808080"/><polygon points="-18.7,249.0 -11.3,244.8 -1.8,238.3 -9.2,242.5" fill="#808080"/><polygon points="-11.3,244.8 -1.9,264.4 7.6,257.9 -1.8,238.3" fill="#808080"/><polygon points="-1.9,264.4 -5.2,266.3 4.3,259.8 7.6,257.9" fill="#808080"/><polygon points="-5.2,266.3 -1.5,274.2 8.0,267.7 4.3,259.8" fill="#808080"/><polygon points="-1.5,274.2 -8.9,277.3 0.6,270.8 8.0,267.7" fill="#808080"/><polygon points="-8.9,277.3 -10.6,274.7 -1.1,268.2 0.6,270.8" fill="#808080"/><polygon points="-10.6,274.7 -17.8,278.4 -8.3,271.9 -1.1,268.2" fill="#808080"/><polygon points="-17.8,278.4 -22.5,266.7 -13.0,260.2 -8.3,271.9" fill="#808080"/><polygon points="-22.5,266.7 -13.1,261.6 -3.6,255.1 -13.0,260.2" fill="#808080"/><polygon points="-13.1,261.6 -18.7,249.0 -9.2,242.5 -3.6,255.1" fill="#808080"/><polygon points="13.0,262.5 23.6,256.9 26.1,260.0 35.7,253.4 41.5,263.6 46.6,271.4 36.8,272.8 27.5,278.6 23.3,272.6 19.1,274.2" fill="#808080"/><polygon points="22.5,256.0 33.0,250.4 35.6,253.5 45.2,246.9 51.0,257.1 56.1,264.9 46.3,266.3 37.0,272.1 32.8,266.1 28.6,267.7" fill="#808080"/><polygon points="13.0,262.5 23.6,256.9 33.0,250.4 22.5,256.0" fill="#808080"/><polygon points="23.6,256.9 26.1,260.0 35.6,253.5 33.0,250.4" fill="#808080"/><polygon points="26.1,260.0 35.7,253.4 45.2,246.9 35.6,253.5" fill="#808080"/><polygon points="35.7,253.4 41.5,263.6 51.0,257.1 45.2,246.9" fill="#808080"/><polygon points="41.5,263.6 46.6,271.4 56.1,264.9 51.0,257.1" fill="#808080"/><polygon points="46.6,271.4 36.8,272.8 46.3,266.3 56.1,264.9" fill="#808080"/><polygon points="36.8,272.8 27.5,278.6 37.0,272.1 46.3,266.3" fill="#808080"/><polygon points="27.5,278.6 23.3,272.6 32.8,266.1 37.0,272.1" fill="#808080"/><polygon points="23.3,272.6 19.1,274.2 28.6,267.7 32.8,266.1" fill="#808080"/><polygon points="19.1,274.2 13.0,262.5 22.5,256.0 28.6,267.7" fill="#808080"/><polygon points="41.5,263.6 46.6,259.7 50.8,259.0 49.9,253.9 60.6,249.9 67.6,264.4 63.9,266.3 65.7,270.9 50.3,279.1" fill="#808080"/><polygon points="51.0,257.1 56.1,253.2 60.3,252.5 59.4,247.4 70.1,243.4 77.1,257.9 73.4,259.8 75.2,264.4 59.8,272.6" fill="#808080"/><polygon points="41.5,263.6 46.6,259.7 56.1,253.2 51.0,257.1" fill="#808080"/><polygon points="46.6,259.7 50.8,259.0 60.3,252.5 56.1,253.2" fill="#808080"/><polygon points="50.8,259.0 49.9,253.9 59.4,247.4 60.3,252.5" fill="#808080"/><polygon points="49.9,253.9 60.6,249.9 70.1,243.4 59.4,247.4" fill="#808080"/><polygon points="60.6,249.9 67.6,264.4 77.1,257.9 70.1,243.4" fill="#808080"/><polygon points="67.6,264.4 63.9,266.3 73.4,259.8 77.1,257.9" fill="#808080"/><polygon points="63.9,266.3 65.7,270.9 75.2,264.4 73.4,259.8" fill="#808080"/><polygon points="65.7,270.9 50.3,279.1 59.8,272.6 75.2,264.4" fill="#808080"/><polygon points="50.3,279.1 41.5,263.6 51.0,257.1 59.8,272.6" fill="#808080"/><polygon points="-114.4,188.8 -111.8,181.2 -100.4,177.4 -96.6,160.9 -94.1,155.9 -86.5,154.6 -87.8,171.1 -97.9,178.7" fill="#808080"/><polygon points="40.7,160.2 49.0,156.4 78.2,155.9 78.2,197.7 70.6,203.5 70.1,160.2" fill="#808080"/>
<use href="#bld"/>

<use href="#lines"/>
<use href="#tower"/>
<polygon points="39.6,160.2 70.0,160.2 70.0,204.2 46.6,204.2 46.6,191.8 42.2,190.2 42.2,178.8 39.6,178.6" fill="#fb9a6b" stroke="#70341a" stroke-width="0.8"/>
</g>
<polygon points="0.0,0.0 218.0,143.0 83.3,347.0 -133.4,205.7" fill="none" stroke="rgba(0,0,0,0.52)" stroke-width="1" shape-rendering="crispEdges"/>
</g>
<g transform="translate(241.3,1399.0)">
<g clip-path="url(#site)">
<polygon points="-9.4,55.8 -23.4,153.3 -17.0,160.9 -17.0,172.3 -5.6,178.7 0.7,179.9 10.8,164.8 10.8,158.4 17.2,153.3 36.2,50.7 13.4,59.6" fill="#808080"/><polygon points="123.6,266.1 138.3,266.1 120.3,293.2 120.3,269.9" fill="#808080"/><polygon points="-81.4,192.2 -71.2,186.6 -71.8,183.4 -64.6,178.8 -62.4,178.8 -55.8,192.4 -56.6,197.6 -68.6,203.6 -68.0,205.6 -72.6,209.0" fill="#808080"/><polygon points="-83.9,207.2 -73.7,201.6 -74.3,198.4 -67.1,193.8 -64.9,193.8 -58.3,207.4 -59.1,212.6 -71.1,218.6 -70.5,220.6 -75.1,224.0" fill="#808080"/><polygon points="-81.4,192.2 -71.2,186.6 -73.7,201.6 -83.9,207.2" fill="#808080"/><polygon points="-71.2,186.6 -71.8,183.4 -74.3,198.4 -73.7,201.6" fill="#808080"/><polygon points="-71.8,183.4 -64.6,178.8 -67.1,193.8 -74.3,198.4" fill="#808080"/><polygon points="-64.6,178.8 -62.4,178.8 -64.9,193.8 -67.1,193.8" fill="#808080"/><polygon points="-62.4,178.8 -55.8,192.4 -58.3,207.4 -64.9,193.8" fill="#808080"/><polygon points="-55.8,192.4 -56.6,197.6 -59.1,212.6 -58.3,207.4" fill="#808080"/><polygon points="-56.6,197.6 -68.6,203.6 -71.1,218.6 -59.1,212.6" fill="#808080"/><polygon points="-68.6,203.6 -68.0,205.6 -70.5,220.6 -71.1,218.6" fill="#808080"/><polygon points="-68.0,205.6 -72.6,209.0 -75.1,224.0 -70.5,220.6" fill="#808080"/><polygon points="-72.6,209.0 -81.4,192.2 -83.9,207.2 -75.1,224.0" fill="#808080"/><polygon points="-55.8,192.4 -46.4,187.6 -47.0,183.2 -40.4,179.0 -38.6,179.4 -32.0,196.6 -45.2,204.4 -44.6,206.8 -49.6,210.0 -56.6,197.6" fill="#808080"/><polygon points="-58.3,207.4 -48.9,202.6 -49.5,198.2 -42.9,194.0 -41.1,194.4 -34.5,211.6 -47.7,219.4 -47.1,221.8 -52.1,225.0 -59.1,212.6" fill="#808080"/><polygon points="-55.8,192.4 -46.4,187.6 -48.9,202.6 -58.3,207.4" fill="#808080"/><polygon points="-46.4,187.6 -47.0,183.2 -49.5,198.2 -48.9,202.6" fill="#808080"/><polygon points="-47.0,183.2 -40.4,179.0 -42.9,194.0 -49.5,198.2" fill="#808080"/><polygon points="-40.4,179.0 -38.6,179.4 -41.1,194.4 -42.9,194.0" fill="#808080"/><polygon points="-38.6,179.4 -32.0,196.6 -34.5,211.6 -41.1,194.4" fill="#808080"/><polygon points="-32.0,196.6 -45.2,204.4 -47.7,219.4 -34.5,211.6" fill="#808080"/><polygon points="-45.2,204.4 -44.6,206.8 -47.1,221.8 -47.7,219.4" fill="#808080"/><polygon points="-44.6,206.8 -49.6,210.0 -52.1,225.0 -47.1,221.8" fill="#808080"/><polygon points="-49.6,210.0 -56.6,197.6 -59.1,212.6 -52.1,225.0" fill="#808080"/><polygon points="-56.6,197.6 -55.8,192.4 -58.3,207.4 -59.1,212.6" fill="#808080"/><polygon points="-19.4,188.2 -7.4,181.0 -0.2,193.4 6.4,191.0 11.8,200.6 -4.6,210.0 -8.6,202.6 -11.0,203.4" fill="#808080"/><polygon points="-21.9,203.2 -9.9,196.0 -2.7,208.4 3.9,206.0 9.3,215.6 -7.1,225.0 -11.1,217.6 -13.5,218.4" fill="#808080"/><polygon points="-19.4,188.2 -7.4,181.0 -9.9,196.0 -21.9,203.2" fill="#808080"/><polygon points="-7.4,181.0 -0.2,193.4 -2.7,208.4 -9.9,196.0" fill="#808080"/><polygon points="-0.2,193.4 6.4,191.0 3.9,206.0 -2.7,208.4" fill="#808080"/><polygon points="6.4,191.0 11.8,200.6 9.3,215.6 3.9,206.0" fill="#808080"/><polygon points="11.8,200.6 -4.6,210.0 -7.1,225.0 9.3,215.6" fill="#808080"/><polygon points="-4.6,210.0 -8.6,202.6 -11.1,217.6 -7.1,225.0" fill="#808080"/><polygon points="-8.6,202.6 -11.0,203.4 -13.5,218.4 -11.1,217.6" fill="#808080"/><polygon points="-11.0,203.4 -19.4,188.2 -21.9,203.2 -13.5,218.4" fill="#808080"/><polygon points="13.4,177.0 20.6,173.8 29.2,194.0 26.4,195.6 29.4,201.4 21.0,206.6 18.8,203.0 13.8,205.8 7.8,192.2 18.4,188.0" fill="#808080"/><polygon points="10.9,192.0 18.1,188.8 26.7,209.0 23.9,210.6 26.9,216.4 18.5,221.6 16.3,218.0 11.3,220.8 5.3,207.2 15.9,203.0" fill="#808080"/><polygon points="13.4,177.0 20.6,173.8 18.1,188.8 10.9,192.0" fill="#808080"/><polygon points="20.6,173.8 29.2,194.0 26.7,209.0 18.1,188.8" fill="#808080"/><polygon points="29.2,194.0 26.4,195.6 23.9,210.6 26.7,209.0" fill="#808080"/><polygon points="26.4,195.6 29.4,201.4 26.9,216.4 23.9,210.6" fill="#808080"/><polygon points="29.4,201.4 21.0,206.6 18.5,221.6 26.9,216.4" fill="#808080"/><polygon points="21.0,206.6 18.8,203.0 16.3,218.0 18.5,221.6" fill="#808080"/><polygon points="18.8,203.0 13.8,205.8 11.3,220.8 16.3,218.0" fill="#808080"/><polygon points="13.8,205.8 7.8,192.2 5.3,207.2 11.3,220.8" fill="#808080"/><polygon points="7.8,192.2 18.4,188.0 15.9,203.0 5.3,207.2" fill="#808080"/><polygon points="18.4,188.0 13.4,177.0 10.9,192.0 15.9,203.0" fill="#808080"/><polygon points="-44.4,250.9 -36.0,245.7 -22.9,266.3 -19.2,272.3 -25.7,275.1 -38.8,265.3" fill="#808080"/><polygon points="-46.9,265.9 -38.5,260.7 -25.4,281.3 -21.7,287.3 -28.2,290.1 -41.3,280.3" fill="#808080"/><polygon points="-44.4,250.9 -36.0,245.7 -38.5,260.7 -46.9,265.9" fill="#808080"/><polygon points="-36.0,245.7 -22.9,266.3 -25.4,281.3 -38.5,260.7" fill="#808080"/><polygon points="-22.9,266.3 -19.2,272.3 -21.7,287.3 -25.4,281.3" fill="#808080"/><polygon points="-19.2,272.3 -25.7,275.1 -28.2,290.1 -21.7,287.3" fill="#808080"/><polygon points="-25.7,275.1 -38.8,265.3 -41.3,280.3 -28.2,290.1" fill="#808080"/><polygon points="-38.8,265.3 -44.4,250.9 -46.9,265.9 -41.3,280.3" fill="#808080"/><polygon points="-18.7,249.0 -11.3,244.8 -1.9,264.4 -5.2,266.3 -1.5,274.2 -8.9,277.3 -10.6,274.7 -17.8,278.4 -22.5,266.7 -13.1,261.6" fill="#808080"/><polygon points="-21.2,264.0 -13.8,259.8 -4.4,279.4 -7.7,281.3 -4.0,289.2 -11.4,292.3 -13.1,289.7 -20.3,293.4 -25.0,281.7 -15.6,276.6" fill="#808080"/><polygon points="-18.7,249.0 -11.3,244.8 -13.8,259.8 -21.2,264.0" fill="#808080"/><polygon points="-11.3,244.8 -1.9,264.4 -4.4,279.4 -13.8,259.8" fill="#808080"/><polygon points="-1.9,264.4 -5.2,266.3 -7.7,281.3 -4.4,279.4" fill="#808080"/><polygon points="-5.2,266.3 -1.5,274.2 -4.0,289.2 -7.7,281.3" fill="#808080"/><polygon points="-1.5,274.2 -8.9,277.3 -11.4,292.3 -4.0,289.2" fill="#808080"/><polygon points="-8.9,277.3 -10.6,274.7 -13.1,289.7 -11.4,292.3" fill="#808080"/><polygon points="-10.6,274.7 -17.8,278.4 -20.3,293.4 -13.1,289.7" fill="#808080"/><polygon points="-17.8,278.4 -22.5,266.7 -25.0,281.7 -20.3,293.4" fill="#808080"/><polygon points="-22.5,266.7 -13.1,261.6 -15.6,276.6 -25.0,281.7" fill="#808080"/><polygon points="-13.1,261.6 -18.7,249.0 -21.2,264.0 -15.6,276.6" fill="#808080"/><polygon points="13.0,262.5 23.6,256.9 26.1,260.0 35.7,253.4 41.5,263.6 46.6,271.4 36.8,272.8 27.5,278.6 23.3,272.6 19.1,274.2" fill="#808080"/><polygon points="10.5,280.0 21.1,274.4 23.6,277.5 33.2,270.9 39.0,281.1 44.1,288.9 34.3,290.3 25.0,296.1 20.8,290.1 16.6,291.7" fill="#808080"/><polygon points="13.0,262.5 23.6,256.9 21.1,274.4 10.5,280.0" fill="#808080"/><polygon points="23.6,256.9 26.1,260.0 23.6,277.5 21.1,274.4" fill="#808080"/><polygon points="26.1,260.0 35.7,253.4 33.2,270.9 23.6,277.5" fill="#808080"/><polygon points="35.7,253.4 41.5,263.6 39.0,281.1 33.2,270.9" fill="#808080"/><polygon points="41.5,263.6 46.6,271.4 44.1,288.9 39.0,281.1" fill="#808080"/><polygon points="46.6,271.4 36.8,272.8 34.3,290.3 44.1,288.9" fill="#808080"/><polygon points="36.8,272.8 27.5,278.6 25.0,296.1 34.3,290.3" fill="#808080"/><polygon points="27.5,278.6 23.3,272.6 20.8,290.1 25.0,296.1" fill="#808080"/><polygon points="23.3,272.6 19.1,274.2 16.6,291.7 20.8,290.1" fill="#808080"/><polygon points="19.1,274.2 13.0,262.5 10.5,280.0 16.6,291.7" fill="#808080"/><polygon points="41.5,263.6 46.6,259.7 50.8,259.0 49.9,253.9 60.6,249.9 67.6,264.4 63.9,266.3 65.7,270.9 50.3,279.1" fill="#808080"/><polygon points="39.0,281.1 44.1,277.2 48.3,276.5 47.4,271.4 58.1,267.4 65.1,281.9 61.4,283.8 63.2,288.4 47.8,296.6" fill="#808080"/><polygon points="41.5,263.6 46.6,259.7 44.1,277.2 39.0,281.1" fill="#808080"/><polygon points="46.6,259.7 50.8,259.0 48.3,276.5 44.1,277.2" fill="#808080"/><polygon points="50.8,259.0 49.9,253.9 47.4,271.4 48.3,276.5" fill="#808080"/><polygon points="49.9,253.9 60.6,249.9 58.1,267.4 47.4,271.4" fill="#808080"/><polygon points="60.6,249.9 67.6,264.4 65.1,281.9 58.1,267.4" fill="#808080"/><polygon points="67.6,264.4 63.9,266.3 61.4,283.8 65.1,281.9" fill="#808080"/><polygon points="63.9,266.3 65.7,270.9 63.2,288.4 61.4,283.8" fill="#808080"/><polygon points="65.7,270.9 50.3,279.1 47.8,296.6 63.2,288.4" fill="#808080"/><polygon points="50.3,279.1 41.5,263.6 39.0,281.1 47.8,296.6" fill="#808080"/><polygon points="-101.8,159.8 -96.0,162.0 -99.8,180.4 -103.8,179.6 -104.2,180.6 -111.4,178.8 -114.6,190.2 -121.0,188.6" fill="#808080"/><polygon points="-103.8,172.8 -98.0,175.0 -101.8,193.4 -105.8,192.6 -106.2,193.6 -113.4,191.8 -116.6,203.2 -123.0,201.6" fill="#808080"/><polygon points="-101.8,159.8 -96.0,162.0 -98.0,175.0 -103.8,172.8" fill="#808080"/><polygon points="-96.0,162.0 -99.8,180.4 -101.8,193.4 -98.0,175.0" fill="#808080"/><polygon points="-99.8,180.4 -103.8,179.6 -105.8,192.6 -101.8,193.4" fill="#808080"/><polygon points="-103.8,179.6 -104.2,180.6 -106.2,193.6 -105.8,192.6" fill="#808080"/><polygon points="-104.2,180.6 -111.4,178.8 -113.4,191.8 -106.2,193.6" fill="#808080"/><polygon points="-111.4,178.8 -114.6,190.2 -116.6,203.2 -113.4,191.8" fill="#808080"/><polygon points="-114.6,190.2 -121.0,188.6 -123.0,201.6 -116.6,203.2" fill="#808080"/><polygon points="-121.0,188.6 -101.8,159.8 -103.8,172.8 -123.0,201.6" fill="#808080"/><polygon points="44.7,201.2 45.9,228.0 63.9,228.0 66.9,204.4" fill="#808080"/>
<use href="#bld"/>
<polygon points="151.5,169.8 164.1,169.8 164.1,172.3 173.8,172.3 171.7,191.3 164.1,183.8 162.9,182.5 151.5,182.5" fill="#808080"/>
<use href="#lines"/>
<use href="#tower"/>
<polygon points="40.7,157.9 55.5,157.9 55.5,153.9 67.1,153.9 67.1,203.5 49.1,203.5 49.1,201.3 46.3,201.3 46.3,178.7 41.1,178.7" fill="#fb9a6b" stroke="#70341a" stroke-width="0.8"/><polyline points="43.9,158.5 43.9,178.3 48.7,178.7 48.7,201.5" fill="none" stroke="#70341a" stroke-width="0.5"/><polyline points="43.9,158.7 55.9,158.7 55.9,154.3" fill="none" stroke="#70341a" stroke-width="0.5"/><polygon points="40.1,179.0 46.7,179.0 47.9,201.2 41.1,201.2 41.1,189.2 40.1,188.8" fill="#857468"/>
</g>
<polygon points="0.0,0.0 218.0,143.0 83.3,347.0 -133.4,205.7" fill="none" stroke="rgba(0,0,0,0.52)" stroke-width="1" shape-rendering="crispEdges"/>
</g>
<g transform="translate(650.3,1399.0)">
<g clip-path="url(#site)">
<polygon points="32.9,39.6 59.3,50.6 86.4,60.9 95.2,68.6 94.8,70.0 98.1,72.2 91.5,83.2 87.1,81.4 81.6,90.9 84.2,93.1 77.6,103.4 73.6,102.7 60.7,97.9 50.5,93.5 46.1,93.1 16.0,78.5 20.4,57.9" fill="#808080"/><polygon points="174.5,154.5 187.1,158.7 187.1,178.3 171.7,176.4 165.6,173.1 174.5,172.7" fill="#808080"/><polygon points="150.7,169.9 165.1,169.9 165.1,173.1 157.2,173.6 157.2,236.6 153.5,241.3 149.7,239.9" fill="#808080"/><polygon points="124.5,266.0 138.1,266.0 134.8,270.7" fill="#808080"/><polygon points="-81.4,192.2 -71.2,186.6 -71.8,183.4 -64.6,178.8 -62.4,178.8 -55.8,192.4 -56.6,197.6 -68.6,203.6 -68.0,205.6 -72.6,209.0" fill="#808080"/><polygon points="-73.4,195.2 -63.2,189.6 -63.8,186.4 -56.6,181.8 -54.4,181.8 -47.8,195.4 -48.6,200.6 -60.6,206.6 -60.0,208.6 -64.6,212.0" fill="#808080"/><polygon points="-81.4,192.2 -71.2,186.6 -63.2,189.6 -73.4,195.2" fill="#808080"/><polygon points="-71.2,186.6 -71.8,183.4 -63.8,186.4 -63.2,189.6" fill="#808080"/><polygon points="-71.8,183.4 -64.6,178.8 -56.6,181.8 -63.8,186.4" fill="#808080"/><polygon points="-64.6,178.8 -62.4,178.8 -54.4,181.8 -56.6,181.8" fill="#808080"/><polygon points="-62.4,178.8 -55.8,192.4 -47.8,195.4 -54.4,181.8" fill="#808080"/><polygon points="-55.8,192.4 -56.6,197.6 -48.6,200.6 -47.8,195.4" fill="#808080"/><polygon points="-56.6,197.6 -68.6,203.6 -60.6,206.6 -48.6,200.6" fill="#808080"/><polygon points="-68.6,203.6 -68.0,205.6 -60.0,208.6 -60.6,206.6" fill="#808080"/><polygon points="-68.0,205.6 -72.6,209.0 -64.6,212.0 -60.0,208.6" fill="#808080"/><polygon points="-72.6,209.0 -81.4,192.2 -73.4,195.2 -64.6,212.0" fill="#808080"/><polygon points="-55.8,192.4 -46.4,187.6 -47.0,183.2 -40.4,179.0 -38.6,179.4 -32.0,196.6 -45.2,204.4 -44.6,206.8 -49.6,210.0 -56.6,197.6" fill="#808080"/><polygon points="-47.8,195.4 -38.4,190.6 -39.0,186.2 -32.4,182.0 -30.6,182.4 -24.0,199.6 -37.2,207.4 -36.6,209.8 -41.6,213.0 -48.6,200.6" fill="#808080"/><polygon points="-55.8,192.4 -46.4,187.6 -38.4,190.6 -47.8,195.4" fill="#808080"/><polygon points="-46.4,187.6 -47.0,183.2 -39.0,186.2 -38.4,190.6" fill="#808080"/><polygon points="-47.0,183.2 -40.4,179.0 -32.4,182.0 -39.0,186.2" fill="#808080"/><polygon points="-40.4,179.0 -38.6,179.4 -30.6,182.4 -32.4,182.0" fill="#808080"/><polygon points="-38.6,179.4 -32.0,196.6 -24.0,199.6 -30.6,182.4" fill="#808080"/><polygon points="-32.0,196.6 -45.2,204.4 -37.2,207.4 -24.0,199.6" fill="#808080"/><polygon points="-45.2,204.4 -44.6,206.8 -36.6,209.8 -37.2,207.4" fill="#808080"/><polygon points="-44.6,206.8 -49.6,210.0 -41.6,213.0 -36.6,209.8" fill="#808080"/><polygon points="-49.6,210.0 -56.6,197.6 -48.6,200.6 -41.6,213.0" fill="#808080"/><polygon points="-56.6,197.6 -55.8,192.4 -47.8,195.4 -48.6,200.6" fill="#808080"/><polygon points="-19.4,188.2 -7.4,181.0 -0.2,193.4 6.4,191.0 11.8,200.6 -4.6,210.0 -8.6,202.6 -11.0,203.4" fill="#808080"/><polygon points="-11.4,191.2 0.6,184.0 7.8,196.4 14.4,194.0 19.8,203.6 3.4,213.0 -0.6,205.6 -3.0,206.4" fill="#808080"/><polygon points="-19.4,188.2 -7.4,181.0 0.6,184.0 -11.4,191.2" fill="#808080"/><polygon points="-7.4,181.0 -0.2,193.4 7.8,196.4 0.6,184.0" fill="#808080"/><polygon points="-0.2,193.4 6.4,191.0 14.4,194.0 7.8,196.4" fill="#808080"/><polygon points="6.4,191.0 11.8,200.6 19.8,203.6 14.4,194.0" fill="#808080"/><polygon points="11.8,200.6 -4.6,210.0 3.4,213.0 19.8,203.6" fill="#808080"/><polygon points="-4.6,210.0 -8.6,202.6 -0.6,205.6 3.4,213.0" fill="#808080"/><polygon points="-8.6,202.6 -11.0,203.4 -3.0,206.4 -0.6,205.6" fill="#808080"/><polygon points="-11.0,203.4 -19.4,188.2 -11.4,191.2 -3.0,206.4" fill="#808080"/><polygon points="13.4,177.0 20.6,173.8 29.2,194.0 26.4,195.6 29.4,201.4 21.0,206.6 18.8,203.0 13.8,205.8 7.8,192.2 18.4,188.0" fill="#808080"/><polygon points="21.4,180.0 28.6,176.8 37.2,197.0 34.4,198.6 37.4,204.4 29.0,209.6 26.8,206.0 21.8,208.8 15.8,195.2 26.4,191.0" fill="#808080"/><polygon points="13.4,177.0 20.6,173.8 28.6,176.8 21.4,180.0" fill="#808080"/><polygon points="20.6,173.8 29.2,194.0 37.2,197.0 28.6,176.8" fill="#808080"/><polygon points="29.2,194.0 26.4,195.6 34.4,198.6 37.2,197.0" fill="#808080"/><polygon points="26.4,195.6 29.4,201.4 37.4,204.4 34.4,198.6" fill="#808080"/><polygon points="29.4,201.4 21.0,206.6 29.0,209.6 37.4,204.4" fill="#808080"/><polygon points="21.0,206.6 18.8,203.0 26.8,206.0 29.0,209.6" fill="#808080"/><polygon points="18.8,203.0 13.8,205.8 21.8,208.8 26.8,206.0" fill="#808080"/><polygon points="13.8,205.8 7.8,192.2 15.8,195.2 21.8,208.8" fill="#808080"/><polygon points="7.8,192.2 18.4,188.0 26.4,191.0 15.8,195.2" fill="#808080"/><polygon points="18.4,188.0 13.4,177.0 21.4,180.0 26.4,191.0" fill="#808080"/><polygon points="-44.4,250.9 -36.0,245.7 -22.9,266.3 -19.2,272.3 -25.7,275.1 -38.8,265.3" fill="#808080"/><polygon points="-36.4,253.9 -28.0,248.7 -14.9,269.3 -11.2,275.3 -17.7,278.1 -30.8,268.3" fill="#808080"/><polygon points="-44.4,250.9 -36.0,245.7 -28.0,248.7 -36.4,253.9" fill="#808080"/><polygon points="-36.0,245.7 -22.9,266.3 -14.9,269.3 -28.0,248.7" fill="#808080"/><polygon points="-22.9,266.3 -19.2,272.3 -11.2,275.3 -14.9,269.3" fill="#808080"/><polygon points="-19.2,272.3 -25.7,275.1 -17.7,278.1 -11.2,275.3" fill="#808080"/><polygon points="-25.7,275.1 -38.8,265.3 -30.8,268.3 -17.7,278.1" fill="#808080"/><polygon points="-38.8,265.3 -44.4,250.9 -36.4,253.9 -30.8,268.3" fill="#808080"/><polygon points="-18.7,249.0 -11.3,244.8 -1.9,264.4 -5.2,266.3 -1.5,274.2 -8.9,277.3 -10.6,274.7 -17.8,278.4 -22.5,266.7 -13.1,261.6" fill="#808080"/><polygon points="-10.7,252.0 -3.3,247.8 6.1,267.4 2.8,269.3 6.5,277.2 -0.9,280.3 -2.6,277.7 -9.8,281.4 -14.5,269.7 -5.1,264.6" fill="#808080"/><polygon points="-18.7,249.0 -11.3,244.8 -3.3,247.8 -10.7,252.0" fill="#808080"/><polygon points="-11.3,244.8 -1.9,264.4 6.1,267.4 -3.3,247.8" fill="#808080"/><polygon points="-1.9,264.4 -5.2,266.3 2.8,269.3 6.1,267.4" fill="#808080"/><polygon points="-5.2,266.3 -1.5,274.2 6.5,277.2 2.8,269.3" fill="#808080"/><polygon points="-1.5,274.2 -8.9,277.3 -0.9,280.3 6.5,277.2" fill="#808080"/><polygon points="-8.9,277.3 -10.6,274.7 -2.6,277.7 -0.9,280.3" fill="#808080"/><polygon points="-10.6,274.7 -17.8,278.4 -9.8,281.4 -2.6,277.7" fill="#808080"/><polygon points="-17.8,278.4 -22.5,266.7 -14.5,269.7 -9.8,281.4" fill="#808080"/><polygon points="-22.5,266.7 -13.1,261.6 -5.1,264.6 -14.5,269.7" fill="#808080"/><polygon points="-13.1,261.6 -18.7,249.0 -10.7,252.0 -5.1,264.6" fill="#808080"/><polygon points="13.0,262.5 23.6,256.9 26.1,260.0 35.7,253.4 41.5,263.6 46.6,271.4 36.8,272.8 27.5,278.6 23.3,272.6 19.1,274.2" fill="#808080"/><polygon points="21.0,265.5 31.6,259.9 34.1,263.0 43.7,256.4 49.5,266.6 54.6,274.4 44.8,275.8 35.5,281.6 31.3,275.6 27.1,277.2" fill="#808080"/><polygon points="13.0,262.5 23.6,256.9 31.6,259.9 21.0,265.5" fill="#808080"/><polygon points="23.6,256.9 26.1,260.0 34.1,263.0 31.6,259.9" fill="#808080"/><polygon points="26.1,260.0 35.7,253.4 43.7,256.4 34.1,263.0" fill="#808080"/><polygon points="35.7,253.4 41.5,263.6 49.5,266.6 43.7,256.4" fill="#808080"/><polygon points="41.5,263.6 46.6,271.4 54.6,274.4 49.5,266.6" fill="#808080"/><polygon points="46.6,271.4 36.8,272.8 44.8,275.8 54.6,274.4" fill="#808080"/><polygon points="36.8,272.8 27.5,278.6 35.5,281.6 44.8,275.8" fill="#808080"/><polygon points="27.5,278.6 23.3,272.6 31.3,275.6 35.5,281.6" fill="#808080"/><polygon points="23.3,272.6 19.1,274.2 27.1,277.2 31.3,275.6" fill="#808080"/><polygon points="19.1,274.2 13.0,262.5 21.0,265.5 27.1,277.2" fill="#808080"/><polygon points="41.5,263.6 46.6,259.7 50.8,259.0 49.9,253.9 60.6,249.9 67.6,264.4 63.9,266.3 65.7,270.9 50.3,279.1" fill="#808080"/><polygon points="49.5,266.6 54.6,262.7 58.8,262.0 57.9,256.9 68.6,252.9 75.6,267.4 71.9,269.3 73.7,273.9 58.3,282.1" fill="#808080"/><polygon points="41.5,263.6 46.6,259.7 54.6,262.7 49.5,266.6" fill="#808080"/><polygon points="46.6,259.7 50.8,259.0 58.8,262.0 54.6,262.7" fill="#808080"/><polygon points="50.8,259.0 49.9,253.9 57.9,256.9 58.8,262.0" fill="#808080"/><polygon points="49.9,253.9 60.6,249.9 68.6,252.9 57.9,256.9" fill="#808080"/><polygon points="60.6,249.9 67.6,264.4 75.6,267.4 68.6,252.9" fill="#808080"/><polygon points="67.6,264.4 63.9,266.3 71.9,269.3 75.6,267.4" fill="#808080"/><polygon points="63.9,266.3 65.7,270.9 73.7,273.9 71.9,269.3" fill="#808080"/><polygon points="65.7,270.9 50.3,279.1 58.3,282.1 73.7,273.9" fill="#808080"/><polygon points="50.3,279.1 41.5,263.6 49.5,266.6 58.3,282.1" fill="#808080"/><polygon points="-96.0,162.0 -88.6,165.0 -91.8,185.0 -99.8,183.0 -99.8,180.4" fill="#808080"/><polygon points="-111.4,178.8 -103.8,180.6 -106.6,192.6 -114.6,190.2" fill="#808080"/><polygon points="40.7,157.9 55.5,157.9 55.5,153.9 67.1,153.9 67.1,203.5 49.1,203.5 49.1,201.3 46.3,201.3 46.3,178.7 41.1,178.7" fill="#808080"/><polygon points="53.2,162.4 68.0,162.4 68.0,158.4 79.6,158.4 79.6,208.0 61.6,208.0 61.6,205.8 58.8,205.8 58.8,183.2 53.6,183.2" fill="#808080"/><polygon points="40.7,157.9 55.5,157.9 68.0,162.4 53.2,162.4" fill="#808080"/><polygon points="55.5,157.9 55.5,153.9 68.0,158.4 68.0,162.4" fill="#808080"/><polygon points="55.5,153.9 67.1,153.9 79.6,158.4 68.0,158.4" fill="#808080"/><polygon points="67.1,153.9 67.1,203.5 79.6,208.0 79.6,158.4" fill="#808080"/><polygon points="67.1,203.5 49.1,203.5 61.6,208.0 79.6,208.0" fill="#808080"/><polygon points="49.1,203.5 49.1,201.3 61.6,205.8 61.6,208.0" fill="#808080"/><polygon points="49.1,201.3 46.3,201.3 58.8,205.8 61.6,205.8" fill="#808080"/><polygon points="46.3,201.3 46.3,178.7 58.8,183.2 58.8,205.8" fill="#808080"/><polygon points="46.3,178.7 41.1,178.7 53.6,183.2 58.8,183.2" fill="#808080"/><polygon points="41.1,178.7 40.7,157.9 53.2,162.4 53.6,183.2" fill="#808080"/>
<use href="#bld"/>

<use href="#lines"/>
<use href="#tower"/>
<polygon points="40.7,157.9 55.5,157.9 55.5,153.9 67.1,153.9 67.1,203.5 49.1,203.5 49.1,201.3 46.3,201.3 46.3,178.7 41.1,178.7" fill="#fb9a6b" stroke="#70341a" stroke-width="0.8"/><polyline points="43.9,158.5 43.9,178.3 48.7,178.7 48.7,201.5" fill="none" stroke="#70341a" stroke-width="0.5"/><polyline points="43.9,158.7 55.9,158.7 55.9,154.3" fill="none" stroke="#70341a" stroke-width="0.5"/>
</g>
<polygon points="0.0,0.0 218.0,143.0 83.3,347.0 -133.4,205.7" fill="none" stroke="rgba(0,0,0,0.52)" stroke-width="1" shape-rendering="crispEdges"/>
</g>
<g transform="translate(1048.3,1398.7)">
<g clip-path="url(#site)">
<polygon points="2.2,36.8 9.8,27.9 27.5,19.6 68.6,45.7 21.2,74.8" fill="#808080"/><polygon points="125.1,153.9 140.3,143.2 193.5,141.9 192.2,162.2 175.7,172.3 175.7,153.9" fill="#808080"/><polygon points="151.7,169.8 161.8,169.8 161.8,230.6 154.2,241.5 151.2,240.8" fill="#808080"/><polygon points="-81.4,192.2 -71.2,186.6 -71.8,183.4 -64.6,178.8 -62.4,178.8 -55.8,192.4 -56.6,197.6 -68.6,203.6 -68.0,205.6 -72.6,209.0" fill="#808080"/><polygon points="-71.9,185.7 -61.7,180.1 -62.3,176.9 -55.1,172.3 -52.9,172.3 -46.3,185.9 -47.1,191.1 -59.1,197.1 -58.5,199.1 -63.1,202.5" fill="#808080"/><polygon points="-81.4,192.2 -71.2,186.6 -61.7,180.1 -71.9,185.7" fill="#808080"/><polygon points="-71.2,186.6 -71.8,183.4 -62.3,176.9 -61.7,180.1" fill="#808080"/><polygon points="-71.8,183.4 -64.6,178.8 -55.1,172.3 -62.3,176.9" fill="#808080"/><polygon points="-64.6,178.8 -62.4,178.8 -52.9,172.3 -55.1,172.3" fill="#808080"/><polygon points="-62.4,178.8 -55.8,192.4 -46.3,185.9 -52.9,172.3" fill="#808080"/><polygon points="-55.8,192.4 -56.6,197.6 -47.1,191.1 -46.3,185.9" fill="#808080"/><polygon points="-56.6,197.6 -68.6,203.6 -59.1,197.1 -47.1,191.1" fill="#808080"/><polygon points="-68.6,203.6 -68.0,205.6 -58.5,199.1 -59.1,197.1" fill="#808080"/><polygon points="-68.0,205.6 -72.6,209.0 -63.1,202.5 -58.5,199.1" fill="#808080"/><polygon points="-72.6,209.0 -81.4,192.2 -71.9,185.7 -63.1,202.5" fill="#808080"/><polygon points="-55.8,192.4 -46.4,187.6 -47.0,183.2 -40.4,179.0 -38.6,179.4 -32.0,196.6 -45.2,204.4 -44.6,206.8 -49.6,210.0 -56.6,197.6" fill="#808080"/><polygon points="-46.3,185.9 -36.9,181.1 -37.5,176.7 -30.9,172.5 -29.1,172.9 -22.5,190.1 -35.7,197.9 -35.1,200.3 -40.1,203.5 -47.1,191.1" fill="#808080"/><polygon points="-55.8,192.4 -46.4,187.6 -36.9,181.1 -46.3,185.9" fill="#808080"/><polygon points="-46.4,187.6 -47.0,183.2 -37.5,176.7 -36.9,181.1" fill="#808080"/><polygon points="-47.0,183.2 -40.4,179.0 -30.9,172.5 -37.5,176.7" fill="#808080"/><polygon points="-40.4,179.0 -38.6,179.4 -29.1,172.9 -30.9,172.5" fill="#808080"/><polygon points="-38.6,179.4 -32.0,196.6 -22.5,190.1 -29.1,172.9" fill="#808080"/><polygon points="-32.0,196.6 -45.2,204.4 -35.7,197.9 -22.5,190.1" fill="#808080"/><polygon points="-45.2,204.4 -44.6,206.8 -35.1,200.3 -35.7,197.9" fill="#808080"/><polygon points="-44.6,206.8 -49.6,210.0 -40.1,203.5 -35.1,200.3" fill="#808080"/><polygon points="-49.6,210.0 -56.6,197.6 -47.1,191.1 -40.1,203.5" fill="#808080"/><polygon points="-56.6,197.6 -55.8,192.4 -46.3,185.9 -47.1,191.1" fill="#808080"/><polygon points="-19.4,188.2 -7.4,181.0 -0.2,193.4 6.4,191.0 11.8,200.6 -4.6,210.0 -8.6,202.6 -11.0,203.4" fill="#808080"/><polygon points="-9.9,181.7 2.1,174.5 9.3,186.9 15.9,184.5 21.3,194.1 4.9,203.5 0.9,196.1 -1.5,196.9" fill="#808080"/><polygon points="-19.4,188.2 -7.4,181.0 2.1,174.5 -9.9,181.7" fill="#808080"/><polygon points="-7.4,181.0 -0.2,193.4 9.3,186.9 2.1,174.5" fill="#808080"/><polygon points="-0.2,193.4 6.4,191.0 15.9,184.5 9.3,186.9" fill="#808080"/><polygon points="6.4,191.0 11.8,200.6 21.3,194.1 15.9,184.5" fill="#808080"/><polygon points="11.8,200.6 -4.6,210.0 4.9,203.5 21.3,194.1" fill="#808080"/><polygon points="-4.6,210.0 -8.6,202.6 0.9,196.1 4.9,203.5" fill="#808080"/><polygon points="-8.6,202.6 -11.0,203.4 -1.5,196.9 0.9,196.1" fill="#808080"/><polygon points="-11.0,203.4 -19.4,188.2 -9.9,181.7 -1.5,196.9" fill="#808080"/><polygon points="13.4,177.0 20.6,173.8 29.2,194.0 26.4,195.6 29.4,201.4 21.0,206.6 18.8,203.0 13.8,205.8 7.8,192.2 18.4,188.0" fill="#808080"/><polygon points="22.9,170.5 30.1,167.3 38.7,187.5 35.9,189.1 38.9,194.9 30.5,200.1 28.3,196.5 23.3,199.3 17.3,185.7 27.9,181.5" fill="#808080"/><polygon points="13.4,177.0 20.6,173.8 30.1,167.3 22.9,170.5" fill="#808080"/><polygon points="20.6,173.8 29.2,194.0 38.7,187.5 30.1,167.3" fill="#808080"/><polygon points="29.2,194.0 26.4,195.6 35.9,189.1 38.7,187.5" fill="#808080"/><polygon points="26.4,195.6 29.4,201.4 38.9,194.9 35.9,189.1" fill="#808080"/><polygon points="29.4,201.4 21.0,206.6 30.5,200.1 38.9,194.9" fill="#808080"/><polygon points="21.0,206.6 18.8,203.0 28.3,196.5 30.5,200.1" fill="#808080"/><polygon points="18.8,203.0 13.8,205.8 23.3,199.3 28.3,196.5" fill="#808080"/><polygon points="13.8,205.8 7.8,192.2 17.3,185.7 23.3,199.3" fill="#808080"/><polygon points="7.8,192.2 18.4,188.0 27.9,181.5 17.3,185.7" fill="#808080"/><polygon points="18.4,188.0 13.4,177.0 22.9,170.5 27.9,181.5" fill="#808080"/><polygon points="-44.4,250.9 -36.0,245.7 -22.9,266.3 -19.2,272.3 -25.7,275.1 -38.8,265.3" fill="#808080"/><polygon points="-34.9,244.4 -26.5,239.2 -13.4,259.8 -9.7,265.8 -16.2,268.6 -29.3,258.8" fill="#808080"/><polygon points="-44.4,250.9 -36.0,245.7 -26.5,239.2 -34.9,244.4" fill="#808080"/><polygon points="-36.0,245.7 -22.9,266.3 -13.4,259.8 -26.5,239.2" fill="#808080"/><polygon points="-22.9,266.3 -19.2,272.3 -9.7,265.8 -13.4,259.8" fill="#808080"/><polygon points="-19.2,272.3 -25.7,275.1 -16.2,268.6 -9.7,265.8" fill="#808080"/><polygon points="-25.7,275.1 -38.8,265.3 -29.3,258.8 -16.2,268.6" fill="#808080"/><polygon points="-38.8,265.3 -44.4,250.9 -34.9,244.4 -29.3,258.8" fill="#808080"/><polygon points="-18.7,249.0 -11.3,244.8 -1.9,264.4 -5.2,266.3 -1.5,274.2 -8.9,277.3 -10.6,274.7 -17.8,278.4 -22.5,266.7 -13.1,261.6" fill="#808080"/><polygon points="-9.2,242.5 -1.8,238.3 7.6,257.9 4.3,259.8 8.0,267.7 0.6,270.8 -1.1,268.2 -8.3,271.9 -13.0,260.2 -3.6,255.1" fill="#808080"/><polygon points="-18.7,249.0 -11.3,244.8 -1.8,238.3 -9.2,242.5" fill="#808080"/><polygon points="-11.3,244.8 -1.9,264.4 7.6,257.9 -1.8,238.3" fill="#808080"/><polygon points="-1.9,264.4 -5.2,266.3 4.3,259.8 7.6,257.9" fill="#808080"/><polygon points="-5.2,266.3 -1.5,274.2 8.0,267.7 4.3,259.8" fill="#808080"/><polygon points="-1.5,274.2 -8.9,277.3 0.6,270.8 8.0,267.7" fill="#808080"/><polygon points="-8.9,277.3 -10.6,274.7 -1.1,268.2 0.6,270.8" fill="#808080"/><polygon points="-10.6,274.7 -17.8,278.4 -8.3,271.9 -1.1,268.2" fill="#808080"/><polygon points="-17.8,278.4 -22.5,266.7 -13.0,260.2 -8.3,271.9" fill="#808080"/><polygon points="-22.5,266.7 -13.1,261.6 -3.6,255.1 -13.0,260.2" fill="#808080"/><polygon points="-13.1,261.6 -18.7,249.0 -9.2,242.5 -3.6,255.1" fill="#808080"/><polygon points="13.0,262.5 23.6,256.9 26.1,260.0 35.7,253.4 41.5,263.6 46.6,271.4 36.8,272.8 27.5,278.6 23.3,272.6 19.1,274.2" fill="#808080"/><polygon points="22.5,256.0 33.0,250.4 35.6,253.5 45.2,246.9 51.0,257.1 56.1,264.9 46.3,266.3 37.0,272.1 32.8,266.1 28.6,267.7" fill="#808080"/><polygon points="13.0,262.5 23.6,256.9 33.0,250.4 22.5,256.0" fill="#808080"/><polygon points="23.6,256.9 26.1,260.0 35.6,253.5 33.0,250.4" fill="#808080"/><polygon points="26.1,260.0 35.7,253.4 45.2,246.9 35.6,253.5" fill="#808080"/><polygon points="35.7,253.4 41.5,263.6 51.0,257.1 45.2,246.9" fill="#808080"/><polygon points="41.5,263.6 46.6,271.4 56.1,264.9 51.0,257.1" fill="#808080"/><polygon points="46.6,271.4 36.8,272.8 46.3,266.3 56.1,264.9" fill="#808080"/><polygon points="36.8,272.8 27.5,278.6 37.0,272.1 46.3,266.3" fill="#808080"/><polygon points="27.5,278.6 23.3,272.6 32.8,266.1 37.0,272.1" fill="#808080"/><polygon points="23.3,272.6 19.1,274.2 28.6,267.7 32.8,266.1" fill="#808080"/><polygon points="19.1,274.2 13.0,262.5 22.5,256.0 28.6,267.7" fill="#808080"/><polygon points="41.5,263.6 46.6,259.7 50.8,259.0 49.9,253.9 60.6,249.9 67.6,264.4 63.9,266.3 65.7,270.9 50.3,279.1" fill="#808080"/><polygon points="51.0,257.1 56.1,253.2 60.3,252.5 59.4,247.4 70.1,243.4 77.1,257.9 73.4,259.8 75.2,264.4 59.8,272.6" fill="#808080"/><polygon points="41.5,263.6 46.6,259.7 56.1,253.2 51.0,257.1" fill="#808080"/><polygon points="46.6,259.7 50.8,259.0 60.3,252.5 56.1,253.2" fill="#808080"/><polygon points="50.8,259.0 49.9,253.9 59.4,247.4 60.3,252.5" fill="#808080"/><polygon points="49.9,253.9 60.6,249.9 70.1,243.4 59.4,247.4" fill="#808080"/><polygon points="60.6,249.9 67.6,264.4 77.1,257.9 70.1,243.4" fill="#808080"/><polygon points="67.6,264.4 63.9,266.3 73.4,259.8 77.1,257.9" fill="#808080"/><polygon points="63.9,266.3 65.7,270.9 75.2,264.4 73.4,259.8" fill="#808080"/><polygon points="65.7,270.9 50.3,279.1 59.8,272.6 75.2,264.4" fill="#808080"/><polygon points="50.3,279.1 41.5,263.6 51.0,257.1 59.8,272.6" fill="#808080"/><polygon points="-114.4,188.8 -111.8,181.2 -100.4,177.4 -96.6,160.9 -94.1,155.9 -86.5,154.6 -87.8,171.1 -97.9,178.7" fill="#808080"/><polygon points="55.0,153.3 59.4,149.3 71.4,142.5 82.6,142.5 85.0,191.7 80.2,194.9 71.4,199.7 67.4,200.5 67.4,153.3" fill="#808080"/><polygon points="41.0,157.7 46.6,153.3 55.0,153.3 55.0,157.7" fill="#808080"/>
<use href="#bld"/>

<use href="#lines"/>
<use href="#tower"/>
<polygon points="40.7,157.9 55.5,157.9 55.5,153.9 67.1,153.9 67.1,203.5 49.1,203.5 49.1,201.3 46.3,201.3 46.3,178.7 41.1,178.7" fill="#fb9a6b" stroke="#70341a" stroke-width="0.8"/><polyline points="43.9,158.5 43.9,178.3 48.7,178.7 48.7,201.5" fill="none" stroke="#70341a" stroke-width="0.5"/><polyline points="43.9,158.7 55.9,158.7 55.9,154.3" fill="none" stroke="#70341a" stroke-width="0.5"/>
</g>
<polygon points="0.0,0.0 218.0,143.0 83.3,347.0 -133.4,205.7" fill="none" stroke="rgba(0,0,0,0.52)" stroke-width="1" shape-rendering="crispEdges"/>
</g>
<g style="opacity:0.999">
<text transform="translate(1454.3,37.1) rotate(90) scale(1,1.045)" font-size="20.68" font-weight="normal" stroke="#000" stroke-width="0.103" >BREYTING Á DEILISKIPULAGI NORÐURBRÚN 2 - 1.352.501</text>
<text transform="translate(1447.6,780.7) rotate(90) scale(1,1.045)" font-size="35.55" font-weight="normal" stroke="#000" stroke-width="0.178" >SKUGGAVARP FYRIR NORÐURBRÚN 2</text>
<rect x="1439.8" y="780.5" width="1.0" height="657.5" fill="#000"/>
<text transform="translate(1362.0,283.6) rotate(90) scale(1,1.045)" font-size="21.22" font-weight="normal" stroke="#000" stroke-width="0.106" >Jafndægur að vori 20. mars og hausti 20. september</text>
<rect x="1357.8" y="283" width="1.3" height="493" fill="#000"/>
<text transform="translate(1362.0,1319.3) rotate(90) scale(1,1.045)" font-size="21.1" font-weight="normal" stroke="#000" stroke-width="0.106" >Sumarsólstöður 21. júní</text>
<rect x="1357.8" y="1319" width="1.3" height="223" fill="#000"/>
<text transform="translate(146.8,353.8) rotate(90) scale(1,1.045)" font-size="13.75" font-weight="normal" stroke="#000" stroke-width="0.069" >Klukkan: 18:00</text>
<text transform="translate(535.2,353.8) rotate(90) scale(1,1.045)" font-size="13.75" font-weight="normal" stroke="#000" stroke-width="0.069" >Klukkan: 13:30</text>
<text transform="translate(936.3,353.8) rotate(90) scale(1,1.045)" font-size="13.75" font-weight="normal" stroke="#000" stroke-width="0.069" >Klukkan: 10:00</text>
<text transform="translate(1259.2,350.7) rotate(90) scale(1,1.045)" font-size="13.87" font-weight="normal" stroke="#000" stroke-width="0.069" >Skuggavarp miðað við</text>
<text transform="translate(1242.2,350.7) rotate(90) scale(1,1.045)" font-size="13.95" font-weight="normal" stroke="#000" stroke-width="0.070" >núverandi ástand</text>
<text transform="translate(146.8,796.1) rotate(90) scale(1,1.045)" font-size="13.75" font-weight="normal" stroke="#000" stroke-width="0.069" >Klukkan: 18:00</text>
<text transform="translate(535.2,784.7) rotate(90) scale(1,1.045)" font-size="13.75" font-weight="normal" stroke="#000" stroke-width="0.069" >Klukkan: 13:30</text>
<text transform="translate(936.3,784.7) rotate(90) scale(1,1.045)" font-size="13.75" font-weight="normal" stroke="#000" stroke-width="0.069" >Klukkan: 10:00</text>
<text transform="translate(1259.2,782.0) rotate(90) scale(1,1.045)" font-size="13.87" font-weight="normal" stroke="#000" stroke-width="0.069" >Skuggavarp miðað við</text>
<text transform="translate(1242.2,782.0) rotate(90) scale(1,1.045)" font-size="13.95" font-weight="normal" stroke="#000" stroke-width="0.070" >deiliskipulagstillögu</text>
<text transform="translate(146.8,1247.8) rotate(90) scale(1,1.045)" font-size="13.75" font-weight="normal" stroke="#000" stroke-width="0.069" >Klukkan: 18:00</text>
<text transform="translate(535.2,1247.8) rotate(90) scale(1,1.045)" font-size="13.75" font-weight="normal" stroke="#000" stroke-width="0.069" >Klukkan: 13:30</text>
<text transform="translate(936.3,1247.8) rotate(90) scale(1,1.045)" font-size="13.75" font-weight="normal" stroke="#000" stroke-width="0.069" >Klukkan: 10:00</text>
<text transform="translate(1259.2,1244.9) rotate(90) scale(1,1.045)" font-size="13.87" font-weight="normal" stroke="#000" stroke-width="0.069" >Skuggavarp miðað við</text>
<text transform="translate(1242.2,1244.9) rotate(90) scale(1,1.045)" font-size="13.95" font-weight="normal" stroke="#000" stroke-width="0.070" >núverandi ástand</text>
<text transform="translate(146.8,1678.2) rotate(90) scale(1,1.045)" font-size="13.75" font-weight="normal" stroke="#000" stroke-width="0.069" >Klukkan: 18:00</text>
<text transform="translate(535.2,1678.2) rotate(90) scale(1,1.045)" font-size="13.75" font-weight="normal" stroke="#000" stroke-width="0.069" >Klukkan: 13:30</text>
<text transform="translate(936.3,1678.2) rotate(90) scale(1,1.045)" font-size="13.75" font-weight="normal" stroke="#000" stroke-width="0.069" >Klukkan: 10:00</text>
<text transform="translate(1259.2,1676.6) rotate(90) scale(1,1.045)" font-size="13.87" font-weight="normal" stroke="#000" stroke-width="0.069" >Skuggavarp miðað við</text>
<text transform="translate(1242.2,1676.6) rotate(90) scale(1,1.045)" font-size="13.95" font-weight="normal" stroke="#000" stroke-width="0.070" >deiliskipulagstillögu</text>
<text transform="translate(26.0,30.2) rotate(90) scale(1,1.045)" font-size="8.65" font-weight="normal" stroke="#000" stroke-width="0.043" >Öll mál og aðstæður athugist á staðnum fyrir smíði. Óheimilt er að mæla upp af teikningum og THG arkitektum skal tilkynnt um ósamræmi og vafaatriði. Öll afnot og afritun teikningarinnar, að hluta til eða heild, er háð skriflegu leyfi höfunda.</text>
<line x1="243.4" y1="1862" x2="243.4" y2="2089.6" stroke="#222" stroke-width="0.9"/>
<line x1="176.4" y1="1862" x2="176.4" y2="2089.6" stroke="#222" stroke-width="0.9"/>
<line x1="54.6" y1="1862" x2="54.6" y2="2089.6" stroke="#222" stroke-width="0.9"/>
<text transform="translate(251.3,1861.2) rotate(90) scale(1,1.045)" font-size="4.7" font-weight="bold"  >Útg.</text>
<text transform="translate(251.3,1882.2) rotate(90) scale(1,1.045)" font-size="4.9" font-weight="bold"  >Dags.</text>
<text transform="translate(251.3,1913.5) rotate(90) scale(1,1.045)" font-size="4.9" font-weight="bold"  >Skýring</text>
<text transform="translate(251.3,2068.8) rotate(90) scale(1,1.045)" font-size="4.9" font-weight="bold"  >Br.af:</text>
<text transform="translate(229.9,1862.1) rotate(90) scale(1,1.045)" font-size="10.43" font-weight="normal" stroke="#000" stroke-width="0.052" >NORÐURBRÚN 2</text>
<text transform="translate(216.8,1862.1) rotate(90) scale(1,1.045)" font-size="10.55" font-weight="normal" stroke="#000" stroke-width="0.053" >REYKJAVÍK</text>
<text transform="translate(201.9,1862.1) rotate(90) scale(1,1.045)" font-size="10.57" font-weight="normal" stroke="#000" stroke-width="0.053" >TILLAGA AÐ BREYTINGU Á DEILISKIPULAGI</text>
<text transform="translate(161.3,1861.7) rotate(90) scale(1,1.045)" font-size="7.13" font-weight="normal" stroke="#000" stroke-width="0.036" >Teiknað af:</text>
<text transform="translate(161.3,1908.8) rotate(90) scale(1,1.045)" font-size="7.6" font-weight="normal" stroke="#000" stroke-width="0.038" >kl</text>
<text transform="translate(152.4,1861.7) rotate(90) scale(1,1.045)" font-size="7.13" font-weight="normal" stroke="#000" stroke-width="0.036" >Yfirfarið af:</text>
<text transform="translate(152.4,1908.3) rotate(90) scale(1,1.045)" font-size="7.0" font-weight="normal" stroke="#000" stroke-width="0.035" >ff</text>
<text transform="translate(161.3,1978.6) rotate(90) scale(1,1.045)" font-size="7.16" font-weight="normal" stroke="#000" stroke-width="0.036" >Dagsetning:</text>
<text transform="translate(161.3,2028.0) rotate(90) scale(1,1.045)" font-size="6.93" font-weight="normal" stroke="#000" stroke-width="0.035" >04.06.2018</text>
<text transform="translate(152.4,1978.6) rotate(90) scale(1,1.045)" font-size="7.13" font-weight="normal" stroke="#000" stroke-width="0.036" >Mælikvarði:</text>
<text transform="translate(137.7,1979.2) rotate(90) scale(1,1.045)" font-size="6.15" font-weight="normal" stroke="#000" stroke-width="0.031" >Halldór Guðmundsson 140548-2439</text>
<text transform="translate(130.6,1979.2) rotate(90) scale(1,1.045)" font-size="6.15" font-weight="normal" stroke="#000" stroke-width="0.031" >Freyr Frostason 170470-4869</text>
<text transform="translate(123.5,1979.2) rotate(90) scale(1,1.045)" font-size="6.15" font-weight="normal" stroke="#000" stroke-width="0.031" >Oddur Kr Finnbjarnarson 280259-3229</text>
<text transform="translate(116.3,1979.2) rotate(90) scale(1,1.045)" font-size="6.15" font-weight="normal" stroke="#000" stroke-width="0.031" >Ragnar Auðunn Birgisson 230160-4499</text>
<text transform="translate(109.2,1979.2) rotate(90) scale(1,1.045)" font-size="6.15" font-weight="normal" stroke="#000" stroke-width="0.031" >Samúel Guðmundsson 011053-4039</text>
<rect x="69.2" y="1862" width="32.8" height="4.8" fill="#111"/>
<rect x="96.4" y="1862" width="5.6" height="8.8" fill="#111"/>
<rect x="69.2" y="1870" width="14.8" height="4.8" fill="#111"/>
<rect x="87.2" y="1870" width="5.6" height="16.8" fill="#111"/>
<rect x="75.2" y="1878.4" width="12.0" height="3.6" fill="#111"/>
<rect x="69.2" y="1878.4" width="5.2" height="20.0" fill="#111"/>
<rect x="69.2" y="1890.8" width="14.8" height="7.6" fill="#111"/>
<rect x="60.4" y="1878.4" width="5.6" height="20.0" fill="#111"/>
<text transform="translate(60.8,1863.2) rotate(90) scale(1,1.045)" font-size="5.7" font-weight="normal" stroke="#000" stroke-width="0.029" >THG</text>
<text transform="translate(60.8,1902.4) rotate(90) scale(1,1.045)" font-size="6.38" font-weight="normal" stroke="#000" stroke-width="0.032" >ARKITEKTAR</text>
<text transform="translate(66.0,1979.2) rotate(90) scale(1,1.045)" font-size="4.95" font-weight="normal" stroke="#000" stroke-width="0.025" >Faxafen 9</text>
<text transform="translate(66.0,2007.6) rotate(90) scale(1,1.045)" font-size="4.9" font-weight="normal" stroke="#000" stroke-width="0.025" >108, Reykjavík</text>
<text transform="translate(66.0,2046.8) rotate(90) scale(1,1.045)" font-size="5.3" font-weight="normal" stroke="#000" stroke-width="0.026" >kt: 440703 - 2590</text>
<text transform="translate(60.4,1979.2) rotate(90) scale(1,1.045)" font-size="5.2" font-weight="normal" stroke="#000" stroke-width="0.026" >sími: 545 1600</text>
<text transform="translate(60.4,2026.0) rotate(90) scale(1,1.045)" font-size="5.17" font-weight="normal" stroke="#000" stroke-width="0.026" >thg@thg.is</text>
<text transform="translate(60.4,2063.2) rotate(90) scale(1,1.045)" font-size="5.27" font-weight="normal" stroke="#000" stroke-width="0.026" >www.thg.is</text>
<text transform="translate(42.6,1980.8) rotate(90) scale(1,1.045)" font-size="6.8" font-weight="normal" stroke="#000" stroke-width="0.034" >16-020</text>
<text transform="translate(43.2,2030.8) rotate(90) scale(1,1.045)" font-size="11.3" font-weight="normal" stroke="#000" stroke-width="0.057" >0400-DSK</text>
<text transform="translate(28.0,1980.0) rotate(90) scale(1,1.045)" font-size="6.9" font-weight="normal" stroke="#000" stroke-width="0.035" >Verknúmer</text>
<text transform="translate(28.0,2030.4) rotate(90) scale(1,1.045)" font-size="6.7" font-weight="normal" stroke="#000" stroke-width="0.034" >Númer</text>
<text transform="translate(28.0,2070.4) rotate(90) scale(1,1.045)" font-size="6.65" font-weight="normal" stroke="#000" stroke-width="0.033" >Útgáfa</text>
<circle cx="84.0" cy="1796.0" r="24.8" fill="none" stroke="#111" stroke-width="1.0"/>
<line x1="61.2" y1="1779.2" x2="109.6" y2="1809.6" stroke="#111" stroke-width="1.0"/>
<line x1="82.8" y1="1797.6" x2="106.0" y2="1812.4" stroke="#111" stroke-width="1.0"/>
<line x1="82.8" y1="1797.6" x2="69.2" y2="1819.6" stroke="#111" stroke-width="1.0"/>
<line x1="99.2" y1="1771.6" x2="95.6" y2="1778.4" stroke="#111" stroke-width="1.0"/>
<line x1="109.6" y1="1809.6" x2="107.6" y2="1812.8" stroke="#111" stroke-width="1.0"/>
<line x1="107.6" y1="1812.8" x2="104.0" y2="1810.6" stroke="#111" stroke-width="1.0"/>
<line x1="104.0" y1="1810.6" x2="106.0" y2="1807.4" stroke="#111" stroke-width="1.0"/>
<text transform="translate(66.6,1742.0) rotate(122.7) scale(1,1.045)" font-size="15.4" stroke="#000" stroke-width="0.17">NORÐUR</text>
</g>
</svg></body></html>
